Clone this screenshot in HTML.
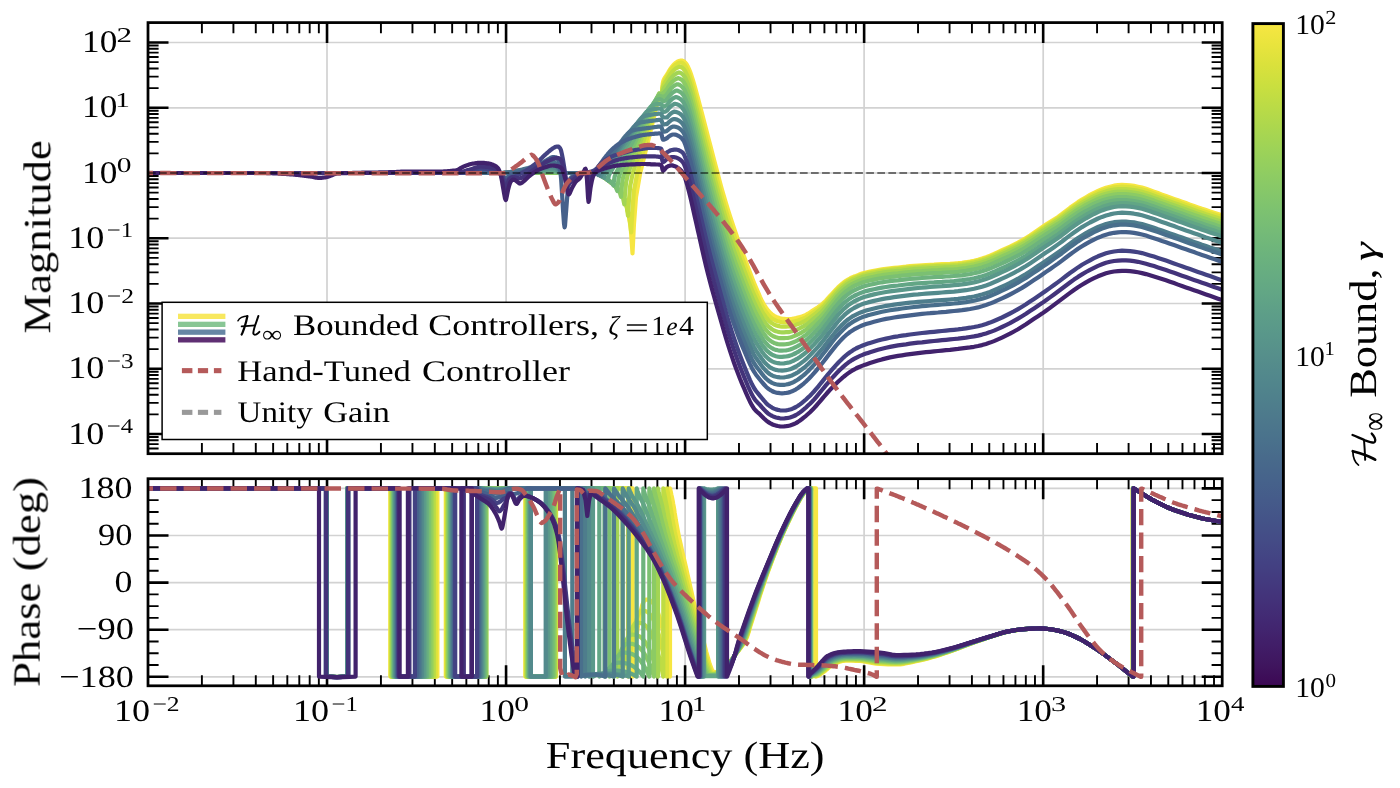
<!DOCTYPE html>
<html><head><meta charset="utf-8"><title>Bode plot</title>
<style>html,body{margin:0;padding:0;background:#fff;overflow:hidden}svg{display:block}text{font-family:"Liberation Serif",serif;fill:#000}</style></head>
<body>
<svg width="1400" height="788" viewBox="0 0 1400 788">
<defs>
<clipPath id="c1"><rect x="148.0" y="22.6" width="1074.2" height="431.1"/></clipPath>
<clipPath id="c2"><rect x="148.0" y="478.7" width="1074.2" height="207.1"/></clipPath>
<linearGradient id="vg" x1="0" y1="0" x2="0" y2="1"><stop offset="0.0000" stop-color="#f7e642"/><stop offset="0.0312" stop-color="#e9e43d"/><stop offset="0.0625" stop-color="#dae13c"/><stop offset="0.0938" stop-color="#cadf3f"/><stop offset="0.1250" stop-color="#bbdb46"/><stop offset="0.1562" stop-color="#acd74e"/><stop offset="0.1875" stop-color="#9ed357"/><stop offset="0.2188" stop-color="#92ce60"/><stop offset="0.2500" stop-color="#87c868"/><stop offset="0.2812" stop-color="#7dc270"/><stop offset="0.3125" stop-color="#75bb77"/><stop offset="0.3438" stop-color="#6db47c"/><stop offset="0.3750" stop-color="#67ad81"/><stop offset="0.4062" stop-color="#62a685"/><stop offset="0.4375" stop-color="#5d9e88"/><stop offset="0.4688" stop-color="#59978a"/><stop offset="0.5000" stop-color="#568f8b"/><stop offset="0.5312" stop-color="#52888c"/><stop offset="0.5625" stop-color="#4f818c"/><stop offset="0.5938" stop-color="#4d798c"/><stop offset="0.6250" stop-color="#4a728c"/><stop offset="0.6562" stop-color="#486a8b"/><stop offset="0.6875" stop-color="#46638b"/><stop offset="0.7188" stop-color="#455b8a"/><stop offset="0.7500" stop-color="#445388"/><stop offset="0.7812" stop-color="#444b86"/><stop offset="0.8125" stop-color="#434283"/><stop offset="0.8438" stop-color="#43397e"/><stop offset="0.8750" stop-color="#433078"/><stop offset="0.9062" stop-color="#422771"/><stop offset="0.9375" stop-color="#411e68"/><stop offset="0.9688" stop-color="#3f155e"/><stop offset="1.0000" stop-color="#3c0753"/></linearGradient>
</defs>
<rect x="0" y="0" width="1400" height="788" fill="#ffffff"/>
<path d="M327.0 22.6 V453.7 M327.0 478.7 V685.8 M506.1 22.6 V453.7 M506.1 478.7 V685.8 M685.1 22.6 V453.7 M685.1 478.7 V685.8 M864.1 22.6 V453.7 M864.1 478.7 V685.8 M1043.2 22.6 V453.7 M1043.2 478.7 V685.8 M148.0 434.0 H1222.2 M148.0 368.8 H1222.2 M148.0 303.5 H1222.2 M148.0 238.2 H1222.2 M148.0 173.0 H1222.2 M148.0 107.8 H1222.2 M148.0 42.5 H1222.2 M148.0 488.4 H1222.2 M148.0 535.5 H1222.2 M148.0 582.6 H1222.2 M148.0 629.7 H1222.2 M148.0 676.8 H1222.2" stroke="#d2d2d2" stroke-width="1.70" fill="none"/>
<path d="M201.89 453.70 v-10.60 M201.89 22.60 v10.60 M233.42 453.70 v-10.60 M233.42 22.60 v10.60 M255.79 453.70 v-10.60 M255.79 22.60 v10.60 M273.14 453.70 v-10.60 M273.14 22.60 v10.60 M287.32 453.70 v-10.60 M287.32 22.60 v10.60 M299.30 453.70 v-10.60 M299.30 22.60 v10.60 M309.68 453.70 v-10.60 M309.68 22.60 v10.60 M318.84 453.70 v-10.60 M318.84 22.60 v10.60 M380.93 453.70 v-10.60 M380.93 22.60 v10.60 M412.45 453.70 v-10.60 M412.45 22.60 v10.60 M434.82 453.70 v-10.60 M434.82 22.60 v10.60 M452.17 453.70 v-10.60 M452.17 22.60 v10.60 M466.35 453.70 v-10.60 M466.35 22.60 v10.60 M478.33 453.70 v-10.60 M478.33 22.60 v10.60 M488.72 453.70 v-10.60 M488.72 22.60 v10.60 M497.87 453.70 v-10.60 M497.87 22.60 v10.60 M559.96 453.70 v-10.60 M559.96 22.60 v10.60 M591.49 453.70 v-10.60 M591.49 22.60 v10.60 M613.86 453.70 v-10.60 M613.86 22.60 v10.60 M631.21 453.70 v-10.60 M631.21 22.60 v10.60 M645.38 453.70 v-10.60 M645.38 22.60 v10.60 M657.37 453.70 v-10.60 M657.37 22.60 v10.60 M667.75 453.70 v-10.60 M667.75 22.60 v10.60 M676.91 453.70 v-10.60 M676.91 22.60 v10.60 M738.99 453.70 v-10.60 M738.99 22.60 v10.60 M770.52 453.70 v-10.60 M770.52 22.60 v10.60 M792.89 453.70 v-10.60 M792.89 22.60 v10.60 M810.24 453.70 v-10.60 M810.24 22.60 v10.60 M824.42 453.70 v-10.60 M824.42 22.60 v10.60 M836.40 453.70 v-10.60 M836.40 22.60 v10.60 M846.78 453.70 v-10.60 M846.78 22.60 v10.60 M855.94 453.70 v-10.60 M855.94 22.60 v10.60 M918.03 453.70 v-10.60 M918.03 22.60 v10.60 M949.55 453.70 v-10.60 M949.55 22.60 v10.60 M971.92 453.70 v-10.60 M971.92 22.60 v10.60 M989.27 453.70 v-10.60 M989.27 22.60 v10.60 M1003.45 453.70 v-10.60 M1003.45 22.60 v10.60 M1015.43 453.70 v-10.60 M1015.43 22.60 v10.60 M1025.82 453.70 v-10.60 M1025.82 22.60 v10.60 M1034.97 453.70 v-10.60 M1034.97 22.60 v10.60 M1097.06 453.70 v-10.60 M1097.06 22.60 v10.60 M1128.59 453.70 v-10.60 M1128.59 22.60 v10.60 M1150.96 453.70 v-10.60 M1150.96 22.60 v10.60 M1168.31 453.70 v-10.60 M1168.31 22.60 v10.60 M1182.48 453.70 v-10.60 M1182.48 22.60 v10.60 M1194.47 453.70 v-10.60 M1194.47 22.60 v10.60 M1204.85 453.70 v-10.60 M1204.85 22.60 v10.60 M1214.01 453.70 v-10.60 M1214.01 22.60 v10.60 M201.89 685.80 v-10.60 M201.89 478.70 v10.60 M233.42 685.80 v-10.60 M233.42 478.70 v10.60 M255.79 685.80 v-10.60 M255.79 478.70 v10.60 M273.14 685.80 v-10.60 M273.14 478.70 v10.60 M287.32 685.80 v-10.60 M287.32 478.70 v10.60 M299.30 685.80 v-10.60 M299.30 478.70 v10.60 M309.68 685.80 v-10.60 M309.68 478.70 v10.60 M318.84 685.80 v-10.60 M318.84 478.70 v10.60 M380.93 685.80 v-10.60 M380.93 478.70 v10.60 M412.45 685.80 v-10.60 M412.45 478.70 v10.60 M434.82 685.80 v-10.60 M434.82 478.70 v10.60 M452.17 685.80 v-10.60 M452.17 478.70 v10.60 M466.35 685.80 v-10.60 M466.35 478.70 v10.60 M478.33 685.80 v-10.60 M478.33 478.70 v10.60 M488.72 685.80 v-10.60 M488.72 478.70 v10.60 M497.87 685.80 v-10.60 M497.87 478.70 v10.60 M559.96 685.80 v-10.60 M559.96 478.70 v10.60 M591.49 685.80 v-10.60 M591.49 478.70 v10.60 M613.86 685.80 v-10.60 M613.86 478.70 v10.60 M631.21 685.80 v-10.60 M631.21 478.70 v10.60 M645.38 685.80 v-10.60 M645.38 478.70 v10.60 M657.37 685.80 v-10.60 M657.37 478.70 v10.60 M667.75 685.80 v-10.60 M667.75 478.70 v10.60 M676.91 685.80 v-10.60 M676.91 478.70 v10.60 M738.99 685.80 v-10.60 M738.99 478.70 v10.60 M770.52 685.80 v-10.60 M770.52 478.70 v10.60 M792.89 685.80 v-10.60 M792.89 478.70 v10.60 M810.24 685.80 v-10.60 M810.24 478.70 v10.60 M824.42 685.80 v-10.60 M824.42 478.70 v10.60 M836.40 685.80 v-10.60 M836.40 478.70 v10.60 M846.78 685.80 v-10.60 M846.78 478.70 v10.60 M855.94 685.80 v-10.60 M855.94 478.70 v10.60 M918.03 685.80 v-10.60 M918.03 478.70 v10.60 M949.55 685.80 v-10.60 M949.55 478.70 v10.60 M971.92 685.80 v-10.60 M971.92 478.70 v10.60 M989.27 685.80 v-10.60 M989.27 478.70 v10.60 M1003.45 685.80 v-10.60 M1003.45 478.70 v10.60 M1015.43 685.80 v-10.60 M1015.43 478.70 v10.60 M1025.82 685.80 v-10.60 M1025.82 478.70 v10.60 M1034.97 685.80 v-10.60 M1034.97 478.70 v10.60 M1097.06 685.80 v-10.60 M1097.06 478.70 v10.60 M1128.59 685.80 v-10.60 M1128.59 478.70 v10.60 M1150.96 685.80 v-10.60 M1150.96 478.70 v10.60 M1168.31 685.80 v-10.60 M1168.31 478.70 v10.60 M1182.48 685.80 v-10.60 M1182.48 478.70 v10.60 M1194.47 685.80 v-10.60 M1194.47 478.70 v10.60 M1204.85 685.80 v-10.60 M1204.85 478.70 v10.60 M1214.01 685.80 v-10.60 M1214.01 478.70 v10.60 M148.00 448.48 h10.60 M1222.20 448.48 h-10.60 M148.00 444.11 h10.60 M1222.20 444.11 h-10.60 M148.00 440.32 h10.60 M1222.20 440.32 h-10.60 M148.00 436.99 h10.60 M1222.20 436.99 h-10.60 M148.00 414.36 h10.60 M1222.20 414.36 h-10.60 M148.00 402.87 h10.60 M1222.20 402.87 h-10.60 M148.00 394.72 h10.60 M1222.20 394.72 h-10.60 M148.00 388.39 h10.60 M1222.20 388.39 h-10.60 M148.00 383.23 h10.60 M1222.20 383.23 h-10.60 M148.00 378.86 h10.60 M1222.20 378.86 h-10.60 M148.00 375.07 h10.60 M1222.20 375.07 h-10.60 M148.00 371.74 h10.60 M1222.20 371.74 h-10.60 M148.00 349.11 h10.60 M1222.20 349.11 h-10.60 M148.00 337.62 h10.60 M1222.20 337.62 h-10.60 M148.00 329.47 h10.60 M1222.20 329.47 h-10.60 M148.00 323.14 h10.60 M1222.20 323.14 h-10.60 M148.00 317.98 h10.60 M1222.20 317.98 h-10.60 M148.00 313.61 h10.60 M1222.20 313.61 h-10.60 M148.00 309.82 h10.60 M1222.20 309.82 h-10.60 M148.00 306.49 h10.60 M1222.20 306.49 h-10.60 M148.00 283.86 h10.60 M1222.20 283.86 h-10.60 M148.00 272.37 h10.60 M1222.20 272.37 h-10.60 M148.00 264.22 h10.60 M1222.20 264.22 h-10.60 M148.00 257.89 h10.60 M1222.20 257.89 h-10.60 M148.00 252.73 h10.60 M1222.20 252.73 h-10.60 M148.00 248.36 h10.60 M1222.20 248.36 h-10.60 M148.00 244.57 h10.60 M1222.20 244.57 h-10.60 M148.00 241.24 h10.60 M1222.20 241.24 h-10.60 M148.00 218.61 h10.60 M1222.20 218.61 h-10.60 M148.00 207.12 h10.60 M1222.20 207.12 h-10.60 M148.00 198.97 h10.60 M1222.20 198.97 h-10.60 M148.00 192.64 h10.60 M1222.20 192.64 h-10.60 M148.00 187.48 h10.60 M1222.20 187.48 h-10.60 M148.00 183.11 h10.60 M1222.20 183.11 h-10.60 M148.00 179.32 h10.60 M1222.20 179.32 h-10.60 M148.00 175.99 h10.60 M1222.20 175.99 h-10.60 M148.00 153.36 h10.60 M1222.20 153.36 h-10.60 M148.00 141.87 h10.60 M1222.20 141.87 h-10.60 M148.00 133.72 h10.60 M1222.20 133.72 h-10.60 M148.00 127.39 h10.60 M1222.20 127.39 h-10.60 M148.00 122.23 h10.60 M1222.20 122.23 h-10.60 M148.00 117.86 h10.60 M1222.20 117.86 h-10.60 M148.00 114.07 h10.60 M1222.20 114.07 h-10.60 M148.00 110.74 h10.60 M1222.20 110.74 h-10.60 M148.00 88.11 h10.60 M1222.20 88.11 h-10.60 M148.00 76.62 h10.60 M1222.20 76.62 h-10.60 M148.00 68.47 h10.60 M1222.20 68.47 h-10.60 M148.00 62.14 h10.60 M1222.20 62.14 h-10.60 M148.00 56.98 h10.60 M1222.20 56.98 h-10.60 M148.00 52.61 h10.60 M1222.20 52.61 h-10.60 M148.00 48.82 h10.60 M1222.20 48.82 h-10.60 M148.00 45.49 h10.60 M1222.20 45.49 h-10.60 M148.00 665.02 h10.60 M1222.20 665.02 h-10.60 M148.00 653.25 h10.60 M1222.20 653.25 h-10.60 M148.00 641.47 h10.60 M1222.20 641.47 h-10.60 M148.00 617.92 h10.60 M1222.20 617.92 h-10.60 M148.00 606.15 h10.60 M1222.20 606.15 h-10.60 M148.00 594.38 h10.60 M1222.20 594.38 h-10.60 M148.00 570.82 h10.60 M1222.20 570.82 h-10.60 M148.00 559.05 h10.60 M1222.20 559.05 h-10.60 M148.00 547.27 h10.60 M1222.20 547.27 h-10.60 M148.00 523.73 h10.60 M1222.20 523.73 h-10.60 M148.00 511.95 h10.60 M1222.20 511.95 h-10.60 M148.00 500.17 h10.60 M1222.20 500.17 h-10.60" stroke="#000" stroke-width="1.90" fill="none"/>
<path d="M327.03 453.70 v-20.50 M327.03 22.60 v20.50 M506.07 453.70 v-20.50 M506.07 22.60 v20.50 M685.10 453.70 v-20.50 M685.10 22.60 v20.50 M864.13 453.70 v-20.50 M864.13 22.60 v20.50 M1043.17 453.70 v-20.50 M1043.17 22.60 v20.50 M327.03 685.80 v-20.50 M327.03 478.70 v20.50 M506.07 685.80 v-20.50 M506.07 478.70 v20.50 M685.10 685.80 v-20.50 M685.10 478.70 v20.50 M864.13 685.80 v-20.50 M864.13 478.70 v20.50 M1043.17 685.80 v-20.50 M1043.17 478.70 v20.50 M148.00 434.00 h20.50 M1222.20 434.00 h-20.50 M148.00 368.75 h20.50 M1222.20 368.75 h-20.50 M148.00 303.50 h20.50 M1222.20 303.50 h-20.50 M148.00 238.25 h20.50 M1222.20 238.25 h-20.50 M148.00 173.00 h20.50 M1222.20 173.00 h-20.50 M148.00 107.75 h20.50 M1222.20 107.75 h-20.50 M148.00 42.50 h20.50 M1222.20 42.50 h-20.50 M148.00 676.80 h20.50 M1222.20 676.80 h-20.50 M148.00 629.70 h20.50 M1222.20 629.70 h-20.50 M148.00 582.60 h20.50 M1222.20 582.60 h-20.50 M148.00 535.50 h20.50 M1222.20 535.50 h-20.50 M148.00 488.40 h20.50 M1222.20 488.40 h-20.50" stroke="#000" stroke-width="2.60" fill="none"/>
<g clip-path="url(#c1)" fill="none" stroke-linejoin="round" stroke-linecap="butt">
<path d="M148.0 173.0 L150.0 173.0 L152.0 173.0 L154.0 173.0 L156.0 173.0 L158.0 173.0 L160.0 173.0 L162.0 173.0 L164.0 173.0 L166.0 173.0 L168.0 173.0 L170.0 173.0 L172.0 173.0 L174.0 173.0 L176.0 173.0 L178.0 173.0 L180.0 173.0 L182.0 173.0 L184.0 173.0 L186.0 173.0 L188.0 173.0 L190.0 173.0 L192.0 173.0 L194.0 173.0 L196.0 173.0 L198.0 173.0 L200.0 173.0 L202.0 173.0 L204.0 173.0 L206.0 173.0 L208.0 173.0 L210.0 173.0 L212.0 173.0 L214.0 173.0 L216.0 173.0 L218.0 173.0 L220.0 173.0 L222.0 173.0 L224.0 173.0 L226.0 173.0 L228.0 173.0 L230.0 173.0 L232.0 173.0 L234.0 173.0 L236.0 173.0 L238.0 173.0 L240.0 173.0 L242.0 173.0 L244.0 173.0 L246.0 173.0 L248.0 173.0 L250.0 173.0 L252.0 173.0 L254.0 173.0 L256.0 173.0 L258.0 173.0 L260.0 173.0 L262.0 173.0 L264.0 173.0 L266.0 173.0 L268.0 173.0 L270.0 173.0 L272.0 173.0 L274.0 173.0 L276.0 173.0 L278.0 173.0 L280.0 173.0 L282.0 173.0 L284.0 173.0 L286.0 173.0 L288.0 173.0 L290.0 173.0 L292.0 173.0 L294.0 173.0 L296.0 173.0 L298.0 173.0 L300.0 173.0 L302.0 173.0 L304.0 173.0 L306.0 173.0 L308.0 173.0 L310.0 173.0 L312.0 173.0 L314.0 173.0 L316.0 173.0 L318.0 173.0 L320.0 173.0 L322.0 173.0 L324.0 173.0 L326.0 173.0 L328.0 173.0 L330.0 173.0 L332.0 173.0 L334.0 173.0 L336.0 173.0 L338.0 173.0 L340.0 173.0 L342.0 173.0 L344.0 173.0 L346.0 173.0 L348.0 173.0 L350.0 173.0 L352.0 173.0 L354.0 173.0 L356.0 173.0 L358.0 173.0 L360.0 173.0 L362.0 173.0 L364.0 173.0 L366.0 173.0 L368.0 173.0 L370.0 173.0 L372.0 173.0 L374.0 173.0 L376.0 173.0 L378.0 173.0 L380.0 173.0 L382.0 173.0 L384.0 173.0 L386.0 173.0 L388.0 173.0 L390.0 173.0 L392.0 173.0 L394.0 173.0 L396.0 173.0 L398.0 173.0 L400.0 173.0 L402.0 173.0 L404.0 173.0 L406.0 173.0 L408.0 173.0 L410.0 173.0 L412.0 173.0 L414.0 173.0 L416.0 173.0 L418.0 173.0 L420.0 173.0 L422.0 173.0 L424.0 173.0 L426.0 173.0 L428.0 173.0 L430.0 173.0 L432.0 173.0 L434.0 173.0 L436.0 173.0 L438.0 173.0 L440.0 173.0 L442.0 173.0 L444.0 173.0 L446.0 173.0 L448.0 173.0 L450.0 173.0 L452.0 173.0 L454.0 173.0 L456.0 173.0 L458.0 173.0 L460.0 173.0 L462.0 173.0 L464.0 173.0 L466.0 173.0 L468.0 173.0 L470.0 173.0 L472.0 173.0 L474.0 173.0 L476.0 173.0 L478.0 173.0 L480.0 173.0 L482.0 173.0 L484.0 173.0 L486.0 173.0 L488.0 173.0 L490.0 173.0 L492.0 173.0 L494.0 173.0 L496.0 173.0 L498.0 173.0 L500.0 173.0 L502.0 173.0 L504.0 173.0 L506.0 173.0 L508.0 173.0 L510.0 173.0 L512.0 173.0 L514.0 173.0 L516.0 173.0 L518.0 173.0 L520.0 173.0 L522.0 173.0 L524.0 173.0 L526.0 173.0 L528.0 173.0 L530.0 173.0 L532.0 173.0 L534.0 173.0 L536.0 173.0 L538.0 173.0 L540.0 173.0 L542.0 173.0 L544.0 173.0 L546.0 173.0 L548.0 173.0 L550.0 173.0 L552.0 173.0 L554.0 173.0 L556.0 173.0 L558.0 173.0 L560.0 173.0 L562.0 173.0 L564.0 173.0 L566.0 173.0 L568.0 173.0 L570.0 173.0 L572.0 173.0 L574.0 173.0 L576.0 173.0 L578.0 173.0 L580.0 173.0 L582.0 173.0 L584.0 173.0 L586.0 173.0 L588.0 173.0 L590.0 173.0 L592.0 173.0 L592.5 173.0 L593.5 173.1 L594.5 173.1 L595.5 173.2 L596.5 173.4 L597.5 173.8 L598.5 174.3 L599.5 174.8 L600.5 175.3 L601.5 175.8 L602.5 176.4 L603.5 177.0 L604.5 177.7 L605.5 178.3 L606.5 179.0 L607.5 179.8 L608.5 180.5 L609.5 181.2 L610.5 182.0 L611.5 182.8 L612.5 183.6 L613.5 184.5 L614.5 185.5 L615.5 186.5 L616.5 187.6 L617.5 188.8 L618.5 190.0 L619.5 191.4 L620.5 192.7 L621.5 194.1 L622.5 195.5 L623.5 197.1 L624.5 199.1 L625.5 201.6 L626.5 205.5 L627.5 209.8 L628.5 214.4 L629.5 219.4 L630.5 224.9 L632.5 253.3 L633.9 225.2 L636.0 197.1 L640.2 173.0 L641.2 168.9 L642.2 164.9 L643.2 160.8 L644.2 156.7 L645.2 152.7 L646.2 148.6 L647.2 144.5 L648.2 140.5 L649.2 136.4 L650.2 132.3 L651.2 128.3 L652.2 124.2 L653.2 120.1 L654.2 116.1 L655.2 112.0 L656.2 107.9 L657.2 103.9 L658.2 99.8 L659.2 96.0 L659.7 96.3 L660.2 96.5 L660.7 96.6 L661.2 96.6 L661.7 94.6 L662.2 89.1 L662.7 83.7 L663.2 81.3 L663.7 79.9 L664.2 78.8 L664.7 77.9 L665.2 77.1 L665.7 76.4 L666.2 75.7 L666.7 75.0 L667.0 74.5 L668.0 72.8 L669.0 71.0 L670.0 69.4 L671.0 68.0 L672.0 66.7 L673.0 65.5 L674.0 64.4 L675.0 63.5 L676.0 62.7 L677.0 62.0 L678.0 61.4 L679.0 61.0 L680.0 60.7 L681.0 60.5 L682.0 60.6 L683.0 60.9 L684.0 61.5 L685.0 62.3 L686.0 63.5 L687.0 65.0 L688.0 66.8 L689.0 69.0 L690.0 71.5 L691.0 74.2 L692.0 77.3 L693.0 80.5 L694.0 83.9 L695.0 87.4 L696.0 91.0 L697.0 94.7 L698.0 98.4 L699.0 102.2 L700.0 106.0 L702.0 113.6 L704.0 121.3 L706.0 129.0 L708.0 136.7 L710.0 144.3 L712.0 152.0 L714.0 159.7 L716.0 167.3 L718.0 174.9 L720.0 182.5 L722.0 189.8 L724.0 196.7 L726.0 203.4 L728.0 209.9 L730.0 216.1 L732.0 222.2 L734.0 228.1 L736.0 233.9 L738.0 239.6 L740.0 245.2 L742.0 250.9 L744.0 256.4 L746.0 261.9 L748.0 267.3 L750.0 272.6 L752.0 277.8 L754.0 282.8 L756.0 287.6 L758.0 292.2 L760.0 296.9 L762.0 301.1 L764.0 304.7 L766.0 307.7 L768.0 310.4 L770.0 312.7 L772.0 314.4 L774.0 315.8 L776.0 316.9 L778.0 317.6 L780.0 318.2 L782.0 318.6 L784.0 318.8 L786.0 319.0 L788.0 319.1 L790.0 319.1 L792.0 318.9 L794.0 318.5 L796.0 318.1 L798.0 317.6 L800.0 317.1 L802.0 316.5 L804.0 315.7 L806.0 314.8 L808.0 313.7 L810.0 312.4 L812.0 311.1 L814.0 309.8 L816.0 308.5 L818.0 307.2 L820.0 305.8 L822.0 304.2 L824.0 302.4 L826.0 300.4 L828.0 298.2 L830.0 296.0 L832.0 293.8 L834.0 291.6 L836.0 289.4 L838.0 287.4 L840.0 285.6 L842.0 283.8 L844.0 282.2 L846.0 280.8 L848.0 279.6 L850.0 278.5 L852.0 277.5 L854.0 276.6 L856.0 275.9 L858.0 275.1 L860.0 274.3 L862.0 273.6 L864.0 273.0 L866.0 272.5 L868.0 272.0 L870.0 271.5 L874.0 270.7 L878.0 270.0 L882.0 269.3 L886.0 268.8 L890.0 268.3 L894.0 267.9 L898.0 267.5 L902.0 267.1 L906.0 266.7 L910.0 266.2 L914.0 265.9 L918.0 265.6 L922.0 265.3 L926.0 265.1 L930.0 264.9 L934.0 264.7 L938.0 264.4 L942.0 264.2 L946.0 264.0 L950.0 263.8 L954.0 263.5 L958.0 263.2 L962.0 262.8 L966.0 262.2 L970.0 261.5 L974.0 260.7 L978.0 259.7 L982.0 258.6 L986.0 257.2 L990.0 255.7 L994.0 254.0 L998.0 252.1 L1002.0 250.2 L1006.0 248.4 L1010.0 246.6 L1014.0 244.6 L1018.0 242.6 L1022.0 240.4 L1026.0 238.0 L1030.0 235.5 L1034.0 232.8 L1038.0 230.1 L1042.0 227.3 L1046.0 224.6 L1050.0 222.0 L1054.0 219.5 L1058.0 216.9 L1062.0 214.0 L1066.0 210.9 L1070.0 207.8 L1074.0 204.9 L1078.0 202.1 L1082.0 199.5 L1086.0 197.2 L1090.0 194.9 L1094.0 192.8 L1098.0 190.9 L1102.0 189.2 L1106.0 187.8 L1110.0 186.7 L1114.0 185.7 L1118.0 185.2 L1122.0 184.9 L1126.0 185.0 L1130.0 185.4 L1134.0 185.9 L1138.0 186.7 L1142.0 187.6 L1146.0 188.8 L1150.0 190.3 L1154.0 191.7 L1158.0 193.1 L1162.0 194.6 L1166.0 196.0 L1170.0 197.5 L1174.0 198.9 L1178.0 200.3 L1182.0 201.7 L1186.0 203.1 L1190.0 204.6 L1194.0 206.0 L1198.0 207.4 L1202.0 208.8 L1206.0 210.1 L1210.0 211.4 L1214.0 212.7 L1218.0 214.0 L1222.0 215.3 L1226.0 216.7 L1230.0 218.0" stroke="#f7e642" stroke-width="4.20"/>
<path d="M148.0 173.0 L150.0 173.0 L152.0 173.0 L154.0 173.0 L156.0 173.0 L158.0 173.0 L160.0 173.0 L162.0 173.0 L164.0 173.0 L166.0 173.0 L168.0 173.0 L170.0 173.0 L172.0 173.0 L174.0 173.0 L176.0 173.0 L178.0 173.0 L180.0 173.0 L182.0 173.0 L184.0 173.0 L186.0 173.0 L188.0 173.0 L190.0 173.0 L192.0 173.0 L194.0 173.0 L196.0 173.0 L198.0 173.0 L200.0 173.0 L202.0 173.0 L204.0 173.0 L206.0 173.0 L208.0 173.0 L210.0 173.0 L212.0 173.0 L214.0 173.0 L216.0 173.0 L218.0 173.0 L220.0 173.0 L222.0 173.0 L224.0 173.0 L226.0 173.0 L228.0 173.0 L230.0 173.0 L232.0 173.0 L234.0 173.0 L236.0 173.0 L238.0 173.0 L240.0 173.0 L242.0 173.0 L244.0 173.0 L246.0 173.0 L248.0 173.0 L250.0 173.0 L252.0 173.0 L254.0 173.0 L256.0 173.0 L258.0 173.0 L260.0 173.0 L262.0 173.0 L264.0 173.0 L266.0 173.0 L268.0 173.0 L270.0 173.0 L272.0 173.0 L274.0 173.0 L276.0 173.0 L278.0 173.0 L280.0 173.0 L282.0 173.0 L284.0 173.0 L286.0 173.0 L288.0 173.0 L290.0 173.0 L292.0 173.0 L294.0 173.0 L296.0 173.0 L298.0 173.0 L300.0 173.0 L302.0 173.0 L304.0 173.0 L306.0 173.0 L308.0 173.0 L310.0 173.0 L312.0 173.0 L314.0 173.0 L316.0 173.0 L318.0 173.0 L320.0 173.0 L322.0 173.0 L324.0 173.0 L326.0 173.0 L328.0 173.0 L330.0 173.0 L332.0 173.0 L334.0 173.0 L336.0 173.0 L338.0 173.0 L340.0 173.0 L342.0 173.0 L344.0 173.0 L346.0 173.0 L348.0 173.0 L350.0 173.0 L352.0 173.0 L354.0 173.0 L356.0 173.0 L358.0 173.0 L360.0 173.0 L362.0 173.0 L364.0 173.0 L366.0 173.0 L368.0 173.0 L370.0 173.0 L372.0 173.0 L374.0 173.0 L376.0 173.0 L378.0 173.0 L380.0 173.0 L382.0 173.0 L384.0 173.0 L386.0 173.0 L388.0 173.0 L390.0 173.0 L392.0 173.0 L394.0 173.0 L396.0 173.0 L398.0 173.0 L400.0 173.0 L402.0 173.0 L404.0 173.0 L406.0 173.0 L408.0 173.0 L410.0 173.0 L412.0 173.0 L414.0 173.0 L416.0 173.0 L418.0 173.0 L420.0 173.0 L422.0 173.0 L424.0 173.0 L426.0 173.0 L428.0 173.0 L430.0 173.0 L432.0 173.0 L434.0 173.0 L436.0 173.0 L438.0 173.0 L440.0 173.0 L442.0 173.0 L444.0 173.0 L446.0 173.0 L448.0 173.0 L450.0 173.0 L452.0 173.0 L454.0 173.0 L456.0 173.0 L458.0 173.0 L460.0 173.0 L462.0 173.0 L464.0 173.0 L466.0 173.0 L468.0 173.0 L470.0 173.0 L472.0 173.0 L474.0 173.0 L476.0 173.0 L478.0 173.0 L480.0 173.0 L482.0 173.0 L484.0 173.0 L486.0 173.0 L488.0 173.0 L490.0 173.0 L492.0 173.0 L494.0 173.0 L496.0 173.0 L498.0 173.0 L500.0 173.0 L502.0 173.0 L504.0 173.0 L506.0 173.0 L508.0 173.0 L510.0 173.0 L512.0 173.0 L514.0 173.0 L516.0 173.0 L518.0 173.0 L520.0 173.0 L522.0 173.0 L524.0 173.0 L526.0 173.0 L528.0 173.0 L530.0 173.0 L532.0 173.0 L534.0 173.0 L536.0 173.0 L538.0 173.0 L540.0 173.0 L542.0 173.0 L544.0 173.0 L546.0 173.0 L548.0 173.0 L550.0 173.0 L552.0 173.0 L554.0 173.0 L556.0 173.0 L558.0 173.0 L560.0 173.0 L562.0 173.0 L564.0 173.0 L566.0 173.0 L568.0 173.0 L570.0 173.0 L572.0 173.0 L574.0 173.0 L576.0 173.0 L578.0 173.0 L580.0 173.0 L582.0 173.0 L584.0 173.0 L586.0 173.0 L588.0 173.0 L590.0 173.0 L592.0 173.0 L592.5 173.0 L593.5 173.1 L594.5 173.1 L595.5 173.2 L596.5 173.4 L597.5 173.8 L598.5 174.3 L599.5 174.8 L600.5 175.3 L601.5 175.8 L602.5 176.4 L603.5 177.0 L604.5 177.7 L605.5 178.3 L606.5 179.0 L607.5 179.8 L608.5 180.5 L609.5 181.2 L610.5 182.0 L611.5 182.8 L612.5 183.6 L613.5 184.5 L614.5 185.5 L615.5 186.5 L616.5 187.6 L617.5 188.8 L618.5 190.0 L619.5 191.4 L620.5 192.7 L621.5 194.1 L622.5 195.5 L623.5 197.1 L624.5 199.1 L625.5 201.6 L626.5 205.5 L627.5 209.8 L628.5 214.4 L629.5 219.4 L631.2 232.3 L632.3 211.5 L633.9 190.8 L637.3 173.0 L638.3 169.4 L639.3 165.9 L640.3 162.3 L641.3 158.7 L642.3 155.2 L643.3 151.6 L644.3 148.0 L645.3 144.5 L646.3 140.9 L647.3 137.4 L648.3 133.8 L649.3 130.2 L650.3 126.7 L651.3 123.1 L652.3 119.5 L653.3 116.0 L654.3 112.4 L655.3 108.8 L656.3 105.3 L657.3 101.7 L658.3 98.2 L659.3 94.7 L659.8 95.0 L660.3 95.2 L660.8 95.3 L661.3 95.3 L661.8 93.5 L662.3 89.7 L662.8 86.0 L663.3 84.0 L663.8 82.6 L664.3 81.3 L664.8 80.2 L665.3 79.2 L665.8 78.3 L666.3 77.4 L666.8 76.5 L667.0 76.2 L668.0 74.4 L669.0 72.7 L670.0 71.2 L671.0 69.7 L672.0 68.5 L673.0 67.3 L674.0 66.2 L675.0 65.3 L676.0 64.6 L677.0 63.9 L678.0 63.3 L679.0 62.9 L680.0 62.7 L681.0 62.5 L682.0 62.8 L683.0 63.5 L684.0 64.4 L685.0 65.6 L686.0 67.2 L687.0 69.0 L688.0 71.2 L689.0 73.8 L690.0 76.7 L691.0 79.8 L692.0 83.2 L693.0 86.8 L694.0 90.5 L695.0 94.3 L696.0 98.2 L697.0 102.1 L698.0 106.0 L699.0 110.0 L700.0 113.9 L702.0 121.7 L704.0 129.5 L706.0 137.2 L708.0 144.9 L710.0 152.5 L712.0 160.1 L714.0 167.7 L716.0 175.3 L718.0 182.8 L720.0 190.3 L722.0 197.5 L724.0 204.3 L726.0 210.9 L728.0 217.3 L730.0 223.5 L732.0 229.4 L734.0 235.2 L736.0 240.9 L738.0 246.5 L740.0 252.0 L742.0 257.4 L744.0 262.9 L746.0 268.2 L748.0 273.5 L750.0 278.6 L752.0 283.6 L754.0 288.4 L756.0 292.9 L758.0 297.4 L760.0 301.8 L762.0 305.8 L764.0 309.2 L766.0 312.1 L768.0 314.6 L770.0 316.8 L772.0 318.4 L774.0 319.7 L776.0 320.7 L778.0 321.3 L780.0 321.8 L782.0 322.1 L784.0 322.3 L786.0 322.3 L788.0 322.4 L790.0 322.3 L792.0 322.0 L794.0 321.5 L796.0 321.0 L798.0 320.5 L800.0 319.8 L802.0 319.1 L804.0 318.3 L806.0 317.3 L808.0 316.1 L810.0 314.7 L812.0 313.3 L814.0 311.9 L816.0 310.5 L818.0 309.1 L820.0 307.6 L822.0 305.9 L824.0 304.0 L826.0 301.9 L828.0 299.7 L830.0 297.4 L832.0 295.2 L834.0 292.9 L836.0 290.7 L838.0 288.6 L840.0 286.7 L842.0 284.9 L844.0 283.3 L846.0 281.8 L848.0 280.6 L850.0 279.4 L852.0 278.4 L854.0 277.5 L856.0 276.7 L858.0 275.9 L860.0 275.2 L862.0 274.4 L864.0 273.8 L866.0 273.3 L868.0 272.8 L870.0 272.3 L874.0 271.5 L878.0 270.8 L882.0 270.1 L886.0 269.6 L890.0 269.1 L894.0 268.7 L898.0 268.3 L902.0 267.9 L906.0 267.4 L910.0 267.0 L914.0 266.6 L918.0 266.4 L922.0 266.1 L926.0 265.9 L930.0 265.7 L934.0 265.4 L938.0 265.2 L942.0 265.0 L946.0 264.8 L950.0 264.6 L954.0 264.3 L958.0 264.0 L962.0 263.6 L966.0 263.0 L970.0 262.3 L974.0 261.5 L978.0 260.5 L982.0 259.4 L986.0 258.1 L990.0 256.6 L994.0 254.9 L998.0 253.0 L1002.0 251.2 L1006.0 249.4 L1010.0 247.5 L1014.0 245.6 L1018.0 243.5 L1022.0 241.4 L1026.0 239.0 L1030.0 236.5 L1034.0 233.9 L1038.0 231.1 L1042.0 228.4 L1046.0 225.7 L1050.0 223.2 L1054.0 220.7 L1058.0 218.1 L1062.0 215.2 L1066.0 212.1 L1070.0 209.1 L1074.0 206.2 L1078.0 203.4 L1082.0 200.9 L1086.0 198.6 L1090.0 196.4 L1094.0 194.3 L1098.0 192.4 L1102.0 190.8 L1106.0 189.4 L1110.0 188.3 L1114.0 187.4 L1118.0 187.0 L1122.0 186.7 L1126.0 186.8 L1130.0 187.2 L1134.0 187.7 L1138.0 188.5 L1142.0 189.4 L1146.0 190.6 L1150.0 192.0 L1154.0 193.4 L1158.0 194.9 L1162.0 196.4 L1166.0 197.8 L1170.0 199.2 L1174.0 200.6 L1178.0 202.0 L1182.0 203.5 L1186.0 204.9 L1190.0 206.3 L1194.0 207.8 L1198.0 209.2 L1202.0 210.6 L1206.0 211.9 L1210.0 213.2 L1214.0 214.5 L1218.0 215.8 L1222.0 217.1 L1226.0 218.4 L1230.0 219.8" stroke="#dce23c" stroke-width="4.20"/>
<path d="M148.0 173.0 L150.0 173.0 L152.0 173.0 L154.0 173.0 L156.0 173.0 L158.0 173.0 L160.0 173.0 L162.0 173.0 L164.0 173.0 L166.0 173.0 L168.0 173.0 L170.0 173.0 L172.0 173.0 L174.0 173.0 L176.0 173.0 L178.0 173.0 L180.0 173.0 L182.0 173.0 L184.0 173.0 L186.0 173.0 L188.0 173.0 L190.0 173.0 L192.0 173.0 L194.0 173.0 L196.0 173.0 L198.0 173.0 L200.0 173.0 L202.0 173.0 L204.0 173.0 L206.0 173.0 L208.0 173.0 L210.0 173.0 L212.0 173.0 L214.0 173.0 L216.0 173.0 L218.0 173.0 L220.0 173.0 L222.0 173.0 L224.0 173.0 L226.0 173.0 L228.0 173.0 L230.0 173.0 L232.0 173.0 L234.0 173.0 L236.0 173.0 L238.0 173.0 L240.0 173.0 L242.0 173.0 L244.0 173.0 L246.0 173.0 L248.0 173.0 L250.0 173.0 L252.0 173.0 L254.0 173.0 L256.0 173.0 L258.0 173.0 L260.0 173.0 L262.0 173.0 L264.0 173.0 L266.0 173.0 L268.0 173.0 L270.0 173.0 L272.0 173.0 L274.0 173.0 L276.0 173.0 L278.0 173.0 L280.0 173.0 L282.0 173.0 L284.0 173.0 L286.0 173.0 L288.0 173.0 L290.0 173.0 L292.0 173.0 L294.0 173.0 L296.0 173.0 L298.0 173.0 L300.0 173.0 L302.0 173.0 L304.0 173.0 L306.0 173.0 L308.0 173.0 L310.0 173.0 L312.0 173.0 L314.0 173.0 L316.0 173.0 L318.0 173.0 L320.0 173.0 L322.0 173.0 L324.0 173.0 L326.0 173.0 L328.0 173.0 L330.0 173.0 L332.0 173.0 L334.0 173.0 L336.0 173.0 L338.0 173.0 L340.0 173.0 L342.0 173.0 L344.0 173.0 L346.0 173.0 L348.0 173.0 L350.0 173.0 L352.0 173.0 L354.0 173.0 L356.0 173.0 L358.0 173.0 L360.0 173.0 L362.0 173.0 L364.0 173.0 L366.0 173.0 L368.0 173.0 L370.0 173.0 L372.0 173.0 L374.0 173.0 L376.0 173.0 L378.0 173.0 L380.0 173.0 L382.0 173.0 L384.0 173.0 L386.0 173.0 L388.0 173.0 L390.0 173.0 L392.0 173.0 L394.0 173.0 L396.0 173.0 L398.0 173.0 L400.0 173.0 L402.0 173.0 L404.0 173.0 L406.0 173.0 L408.0 173.0 L410.0 173.0 L412.0 173.0 L414.0 173.0 L416.0 173.0 L418.0 173.0 L420.0 173.0 L422.0 173.0 L424.0 173.0 L426.0 173.0 L428.0 173.0 L430.0 173.0 L432.0 173.0 L434.0 173.0 L436.0 173.0 L438.0 173.0 L440.0 173.0 L442.0 173.0 L444.0 173.0 L446.0 173.0 L448.0 173.0 L450.0 173.0 L452.0 173.0 L454.0 173.0 L456.0 173.0 L458.0 173.0 L460.0 173.0 L462.0 173.0 L464.0 173.0 L466.0 173.0 L468.0 173.0 L470.0 173.0 L472.0 173.0 L474.0 173.0 L476.0 173.0 L478.0 173.0 L480.0 173.0 L482.0 173.0 L484.0 173.0 L486.0 173.0 L488.0 173.0 L490.0 173.0 L492.0 173.0 L494.0 173.0 L496.0 173.0 L498.0 173.0 L500.0 173.0 L502.0 173.0 L504.0 173.0 L506.0 173.0 L508.0 173.0 L510.0 173.0 L512.0 173.0 L514.0 173.0 L516.0 173.0 L518.0 173.0 L520.0 173.0 L522.0 173.0 L524.0 173.0 L526.0 173.0 L528.0 173.0 L530.0 173.0 L532.0 173.0 L534.0 173.0 L536.0 173.0 L538.0 173.0 L540.0 173.0 L542.0 173.0 L544.0 173.0 L546.0 173.0 L548.0 173.0 L550.0 173.0 L552.0 173.0 L554.0 173.0 L556.0 173.0 L558.0 173.0 L560.0 173.0 L562.0 173.0 L564.0 173.0 L566.0 173.0 L568.0 173.0 L570.0 173.0 L572.0 173.0 L574.0 173.0 L576.0 173.0 L578.0 173.0 L580.0 173.0 L582.0 173.0 L584.0 173.0 L586.0 173.0 L588.0 173.0 L590.0 173.0 L592.0 173.0 L592.5 173.0 L593.5 173.1 L594.5 173.1 L595.5 173.2 L596.5 173.4 L597.5 173.8 L598.5 174.3 L599.5 174.8 L600.5 175.3 L601.5 175.8 L602.5 176.4 L603.5 177.0 L604.5 177.7 L605.5 178.3 L606.5 179.0 L607.5 179.8 L608.5 180.5 L609.5 181.2 L610.5 182.0 L611.5 182.8 L612.5 183.6 L613.5 184.5 L614.5 185.5 L615.5 186.5 L616.5 187.6 L617.5 188.8 L618.5 190.0 L619.5 191.4 L620.5 192.7 L621.5 194.1 L622.5 195.5 L623.5 197.1 L624.5 199.1 L625.5 201.6 L626.5 205.5 L628.0 215.8 L628.9 200.8 L630.2 185.8 L632.8 173.0 L633.8 170.0 L634.8 167.0 L635.8 164.0 L636.8 161.0 L637.8 158.0 L638.8 155.0 L639.8 152.0 L640.8 149.0 L641.8 146.0 L642.8 143.0 L643.8 140.0 L644.8 137.0 L645.8 134.0 L646.8 131.0 L647.8 128.0 L648.8 125.0 L649.8 122.0 L650.8 119.0 L651.8 116.0 L652.8 113.0 L653.8 110.0 L654.8 107.0 L655.8 104.0 L656.8 101.1 L657.8 98.1 L658.8 95.2 L659.3 95.5 L659.8 95.6 L660.3 95.7 L660.8 95.8 L661.3 95.8 L661.8 94.1 L662.3 90.8 L662.8 87.7 L663.3 86.1 L663.8 84.9 L664.3 83.9 L664.8 83.0 L665.3 82.2 L665.8 81.4 L666.3 80.7 L666.8 79.9 L667.0 79.6 L668.0 77.9 L669.0 76.3 L670.0 74.7 L671.0 73.4 L672.0 72.1 L673.0 71.0 L674.0 70.0 L675.0 69.1 L676.0 68.4 L677.0 67.8 L678.0 67.3 L679.0 66.9 L680.0 66.7 L681.0 67.0 L682.0 67.5 L683.0 68.4 L684.0 69.5 L685.0 70.9 L686.0 72.8 L687.0 74.9 L688.0 77.3 L689.0 80.1 L690.0 83.2 L691.0 86.5 L692.0 90.1 L693.0 93.9 L694.0 97.7 L695.0 101.7 L696.0 105.8 L697.0 109.8 L698.0 113.9 L699.0 117.9 L700.0 121.9 L702.0 129.8 L704.0 137.6 L706.0 145.4 L708.0 153.1 L710.0 160.7 L712.0 168.3 L714.0 175.8 L716.0 183.3 L718.0 190.7 L720.0 198.2 L722.0 205.3 L724.0 212.1 L726.0 218.6 L728.0 225.0 L730.0 231.1 L732.0 237.0 L734.0 242.7 L736.0 248.3 L738.0 253.8 L740.0 259.2 L742.0 264.6 L744.0 269.8 L746.0 275.1 L748.0 280.2 L750.0 285.2 L752.0 290.0 L754.0 294.7 L756.0 299.0 L758.0 303.2 L760.0 307.4 L762.0 311.3 L764.0 314.5 L766.0 317.3 L768.0 319.7 L770.0 321.7 L772.0 323.3 L774.0 324.5 L776.0 325.4 L778.0 325.9 L780.0 326.4 L782.0 326.6 L784.0 326.6 L786.0 326.6 L788.0 326.5 L790.0 326.4 L792.0 326.0 L794.0 325.4 L796.0 324.8 L798.0 324.1 L800.0 323.4 L802.0 322.5 L804.0 321.5 L806.0 320.4 L808.0 319.1 L810.0 317.6 L812.0 316.1 L814.0 314.6 L816.0 313.1 L818.0 311.5 L820.0 309.9 L822.0 308.1 L824.0 306.2 L826.0 303.9 L828.0 301.6 L830.0 299.3 L832.0 297.0 L834.0 294.6 L836.0 292.3 L838.0 290.2 L840.0 288.2 L842.0 286.3 L844.0 284.6 L846.0 283.1 L848.0 281.8 L850.0 280.6 L852.0 279.5 L854.0 278.6 L856.0 277.8 L858.0 277.0 L860.0 276.2 L862.0 275.4 L864.0 274.8 L866.0 274.3 L868.0 273.8 L870.0 273.3 L874.0 272.5 L878.0 271.7 L882.0 271.1 L886.0 270.5 L890.0 270.1 L894.0 269.6 L898.0 269.2 L902.0 268.8 L906.0 268.4 L910.0 268.0 L914.0 267.6 L918.0 267.3 L922.0 267.1 L926.0 266.8 L930.0 266.6 L934.0 266.4 L938.0 266.2 L942.0 266.0 L946.0 265.8 L950.0 265.6 L954.0 265.3 L958.0 265.0 L962.0 264.6 L966.0 264.0 L970.0 263.3 L974.0 262.6 L978.0 261.6 L982.0 260.5 L986.0 259.2 L990.0 257.7 L994.0 256.0 L998.0 254.2 L1002.0 252.3 L1006.0 250.5 L1010.0 248.7 L1014.0 246.8 L1018.0 244.8 L1022.0 242.6 L1026.0 240.3 L1030.0 237.8 L1034.0 235.2 L1038.0 232.5 L1042.0 229.7 L1046.0 227.1 L1050.0 224.6 L1054.0 222.1 L1058.0 219.6 L1062.0 216.8 L1066.0 213.7 L1070.0 210.7 L1074.0 207.8 L1078.0 205.1 L1082.0 202.6 L1086.0 200.3 L1090.0 198.2 L1094.0 196.2 L1098.0 194.3 L1102.0 192.7 L1106.0 191.4 L1110.0 190.4 L1114.0 189.6 L1118.0 189.2 L1122.0 189.0 L1126.0 189.1 L1130.0 189.5 L1134.0 190.0 L1138.0 190.8 L1142.0 191.7 L1146.0 192.9 L1150.0 194.3 L1154.0 195.7 L1158.0 197.2 L1162.0 198.6 L1166.0 200.1 L1170.0 201.5 L1174.0 202.9 L1178.0 204.3 L1182.0 205.7 L1186.0 207.2 L1190.0 208.6 L1194.0 210.0 L1198.0 211.4 L1202.0 212.8 L1206.0 214.2 L1210.0 215.5 L1214.0 216.8 L1218.0 218.1 L1222.0 219.4 L1226.0 220.7 L1230.0 222.1" stroke="#bedc44" stroke-width="4.20"/>
<path d="M148.0 173.0 L150.0 173.0 L152.0 173.0 L154.0 173.0 L156.0 173.0 L158.0 173.0 L160.0 173.0 L162.0 173.0 L164.0 173.0 L166.0 173.0 L168.0 173.0 L170.0 173.0 L172.0 173.0 L174.0 173.0 L176.0 173.0 L178.0 173.0 L180.0 173.0 L182.0 173.0 L184.0 173.0 L186.0 173.0 L188.0 173.0 L190.0 173.0 L192.0 173.0 L194.0 173.0 L196.0 173.0 L198.0 173.0 L200.0 173.0 L202.0 173.0 L204.0 173.0 L206.0 173.0 L208.0 173.0 L210.0 173.0 L212.0 173.0 L214.0 173.0 L216.0 173.0 L218.0 173.0 L220.0 173.0 L222.0 173.0 L224.0 173.0 L226.0 173.0 L228.0 173.0 L230.0 173.0 L232.0 173.0 L234.0 173.0 L236.0 173.0 L238.0 173.0 L240.0 173.0 L242.0 173.0 L244.0 173.0 L246.0 173.0 L248.0 173.0 L250.0 173.0 L252.0 173.0 L254.0 173.0 L256.0 173.0 L258.0 173.0 L260.0 173.0 L262.0 173.0 L264.0 173.0 L266.0 173.0 L268.0 173.0 L270.0 173.0 L272.0 173.0 L274.0 173.0 L276.0 173.0 L278.0 173.0 L280.0 173.0 L282.0 173.0 L284.0 173.0 L286.0 173.0 L288.0 173.0 L290.0 173.0 L292.0 173.0 L294.0 173.0 L296.0 173.0 L298.0 173.0 L300.0 173.0 L302.0 173.0 L304.0 173.0 L306.0 173.0 L308.0 173.0 L310.0 173.0 L312.0 173.0 L314.0 173.0 L316.0 173.0 L318.0 173.0 L320.0 173.0 L322.0 173.0 L324.0 173.0 L326.0 173.0 L328.0 173.0 L330.0 173.0 L332.0 173.0 L334.0 173.0 L336.0 173.0 L338.0 173.0 L340.0 173.0 L342.0 173.0 L344.0 173.0 L346.0 173.0 L348.0 173.0 L350.0 173.0 L352.0 173.0 L354.0 173.0 L356.0 173.0 L358.0 173.0 L360.0 173.0 L362.0 173.0 L364.0 173.0 L366.0 173.0 L368.0 173.0 L370.0 173.0 L372.0 173.0 L374.0 173.0 L376.0 173.0 L378.0 173.0 L380.0 173.0 L382.0 173.0 L384.0 173.0 L386.0 173.0 L388.0 173.0 L390.0 173.0 L392.0 173.0 L394.0 173.0 L396.0 173.0 L398.0 173.0 L400.0 173.0 L402.0 173.0 L404.0 173.0 L406.0 173.0 L408.0 173.0 L410.0 173.0 L412.0 173.0 L414.0 173.0 L416.0 173.0 L418.0 173.0 L420.0 173.0 L422.0 173.0 L424.0 173.0 L426.0 173.0 L428.0 173.0 L430.0 173.0 L432.0 173.0 L434.0 173.0 L436.0 173.0 L438.0 173.0 L440.0 173.0 L442.0 173.0 L444.0 173.0 L446.0 173.0 L448.0 173.0 L450.0 173.0 L452.0 173.0 L454.0 173.0 L456.0 173.0 L458.0 173.0 L460.0 173.0 L462.0 173.0 L464.0 173.0 L466.0 173.0 L468.0 173.0 L470.0 173.0 L472.0 173.0 L474.0 173.0 L476.0 173.0 L478.0 173.0 L480.0 173.0 L482.0 173.0 L484.0 173.0 L486.0 173.0 L488.0 173.0 L490.0 173.0 L492.0 173.0 L494.0 173.0 L496.0 173.0 L498.0 173.0 L500.0 173.0 L502.0 173.0 L504.0 173.0 L506.0 173.0 L508.0 173.0 L510.0 173.0 L512.0 173.0 L514.0 173.0 L516.0 173.0 L518.0 173.0 L520.0 172.9 L522.0 172.9 L524.0 172.9 L526.0 172.9 L528.0 172.9 L530.0 172.9 L532.0 172.9 L534.0 172.9 L536.0 172.9 L538.0 172.9 L540.0 172.9 L542.0 172.8 L544.0 172.8 L546.0 172.8 L548.0 172.8 L550.0 172.8 L552.0 172.8 L554.0 172.8 L556.0 172.8 L558.0 172.9 L560.0 172.9 L562.0 173.0 L564.0 173.0 L566.0 173.0 L568.0 173.0 L570.0 173.0 L572.0 173.0 L574.0 173.0 L576.0 173.0 L578.0 173.0 L580.0 173.0 L582.0 173.0 L584.0 173.0 L586.0 173.0 L588.0 173.0 L590.0 173.0 L592.0 173.0 L592.5 173.0 L593.5 173.1 L594.5 173.1 L595.5 173.2 L596.5 173.4 L597.5 173.8 L598.5 174.3 L599.5 174.8 L600.5 175.3 L601.5 175.8 L602.5 176.4 L603.5 177.0 L604.5 177.7 L605.5 178.3 L606.5 179.0 L607.5 179.8 L608.5 180.5 L609.5 181.2 L610.5 182.0 L611.5 182.8 L612.5 183.6 L613.5 184.5 L614.5 185.5 L615.5 186.5 L616.5 187.6 L617.5 188.8 L618.5 190.0 L619.5 191.4 L620.5 192.7 L621.5 194.1 L622.5 195.5 L624.3 204.4 L625.0 193.4 L626.1 182.4 L628.2 173.0 L629.2 170.4 L630.2 167.8 L631.2 165.3 L632.2 162.7 L633.2 160.1 L634.2 157.5 L635.2 154.9 L636.2 152.4 L637.2 149.8 L638.2 147.2 L639.2 144.6 L640.2 142.1 L641.2 139.5 L642.2 136.9 L643.2 134.3 L644.2 131.7 L645.2 129.2 L646.2 126.6 L647.2 124.0 L648.2 121.4 L649.2 118.8 L650.2 116.3 L651.2 113.7 L652.2 111.1 L653.2 108.5 L654.2 106.0 L655.2 103.4 L656.2 100.8 L657.2 98.3 L658.2 95.8 L659.2 93.5 L659.7 93.8 L660.2 94.0 L660.7 94.1 L661.2 94.1 L661.7 93.6 L662.2 92.2 L662.7 90.6 L663.2 89.6 L663.7 88.8 L664.2 88.0 L664.7 87.3 L665.2 86.7 L665.7 86.0 L666.2 85.4 L666.7 84.7 L667.0 84.3 L668.0 82.7 L669.0 81.1 L670.0 79.6 L671.0 78.3 L672.0 77.2 L673.0 76.1 L674.0 75.2 L675.0 74.4 L676.0 73.7 L677.0 73.1 L678.0 72.7 L679.0 72.4 L680.0 72.7 L681.0 73.1 L682.0 73.7 L683.0 74.7 L684.0 76.0 L685.0 77.5 L686.0 79.5 L687.0 81.8 L688.0 84.3 L689.0 87.3 L690.0 90.5 L691.0 93.9 L692.0 97.6 L693.0 101.5 L694.0 105.4 L695.0 109.5 L696.0 113.6 L697.0 117.7 L698.0 121.8 L699.0 125.9 L700.0 130.0 L702.0 138.0 L704.0 145.8 L706.0 153.6 L708.0 161.3 L710.0 168.9 L712.0 176.5 L714.0 184.0 L716.0 191.5 L718.0 198.8 L720.0 206.2 L722.0 213.3 L724.0 220.1 L726.0 226.7 L728.0 233.0 L730.0 239.1 L732.0 245.0 L734.0 250.7 L736.0 256.3 L738.0 261.7 L740.0 267.1 L742.0 272.3 L744.0 277.5 L746.0 282.7 L748.0 287.8 L750.0 292.7 L752.0 297.4 L754.0 301.9 L756.0 306.1 L758.0 310.1 L760.0 314.1 L762.0 317.8 L764.0 320.9 L766.0 323.6 L768.0 325.9 L770.0 327.8 L772.0 329.3 L774.0 330.5 L776.0 331.3 L778.0 331.8 L780.0 332.1 L782.0 332.3 L784.0 332.3 L786.0 332.2 L788.0 332.1 L790.0 331.8 L792.0 331.3 L794.0 330.6 L796.0 329.9 L798.0 329.1 L800.0 328.2 L802.0 327.2 L804.0 326.1 L806.0 324.9 L808.0 323.4 L810.0 321.8 L812.0 320.1 L814.0 318.4 L816.0 316.8 L818.0 315.1 L820.0 313.3 L822.0 311.4 L824.0 309.3 L826.0 307.0 L828.0 304.5 L830.0 302.1 L832.0 299.7 L834.0 297.2 L836.0 294.8 L838.0 292.6 L840.0 290.5 L842.0 288.6 L844.0 286.8 L846.0 285.2 L848.0 283.8 L850.0 282.5 L852.0 281.4 L854.0 280.4 L856.0 279.6 L858.0 278.7 L860.0 277.9 L862.0 277.1 L864.0 276.5 L866.0 276.0 L868.0 275.5 L870.0 275.0 L874.0 274.2 L878.0 273.4 L882.0 272.7 L886.0 272.2 L890.0 271.7 L894.0 271.3 L898.0 270.9 L902.0 270.5 L906.0 270.0 L910.0 269.6 L914.0 269.2 L918.0 268.9 L922.0 268.7 L926.0 268.5 L930.0 268.2 L934.0 268.0 L938.0 267.8 L942.0 267.6 L946.0 267.4 L950.0 267.2 L954.0 266.9 L958.0 266.6 L962.0 266.2 L966.0 265.6 L970.0 265.0 L974.0 264.2 L978.0 263.3 L982.0 262.2 L986.0 260.9 L990.0 259.4 L994.0 257.7 L998.0 255.9 L1002.0 254.1 L1006.0 252.3 L1010.0 250.5 L1014.0 248.6 L1018.0 246.6 L1022.0 244.4 L1026.0 242.1 L1030.0 239.6 L1034.0 237.0 L1038.0 234.4 L1042.0 231.6 L1046.0 229.0 L1050.0 226.5 L1054.0 224.1 L1058.0 221.5 L1062.0 218.7 L1066.0 215.7 L1070.0 212.7 L1074.0 209.9 L1078.0 207.2 L1082.0 204.8 L1086.0 202.5 L1090.0 200.4 L1094.0 198.4 L1098.0 196.6 L1102.0 195.0 L1106.0 193.8 L1110.0 192.8 L1114.0 192.0 L1118.0 191.6 L1122.0 191.5 L1126.0 191.6 L1130.0 192.0 L1134.0 192.5 L1138.0 193.3 L1142.0 194.2 L1146.0 195.4 L1150.0 196.8 L1154.0 198.2 L1158.0 199.6 L1162.0 201.1 L1166.0 202.5 L1170.0 203.9 L1174.0 205.3 L1178.0 206.8 L1182.0 208.2 L1186.0 209.6 L1190.0 211.0 L1194.0 212.5 L1198.0 213.9 L1202.0 215.3 L1206.0 216.6 L1210.0 217.9 L1214.0 219.2 L1218.0 220.5 L1222.0 221.8 L1226.0 223.2 L1230.0 224.5" stroke="#a3d554" stroke-width="4.20"/>
<path d="M148.0 173.0 L150.0 173.0 L152.0 173.0 L154.0 173.0 L156.0 173.0 L158.0 173.0 L160.0 173.0 L162.0 173.0 L164.0 173.0 L166.0 173.0 L168.0 173.0 L170.0 173.0 L172.0 173.0 L174.0 173.0 L176.0 173.0 L178.0 173.0 L180.0 173.0 L182.0 173.0 L184.0 173.0 L186.0 173.0 L188.0 173.0 L190.0 173.0 L192.0 173.0 L194.0 173.0 L196.0 173.0 L198.0 173.0 L200.0 173.0 L202.0 173.0 L204.0 173.0 L206.0 173.0 L208.0 173.0 L210.0 173.0 L212.0 173.0 L214.0 173.0 L216.0 173.0 L218.0 173.0 L220.0 173.0 L222.0 173.0 L224.0 173.0 L226.0 173.0 L228.0 173.0 L230.0 173.0 L232.0 173.0 L234.0 173.0 L236.0 173.0 L238.0 173.0 L240.0 173.0 L242.0 173.0 L244.0 173.0 L246.0 173.0 L248.0 173.0 L250.0 173.0 L252.0 173.0 L254.0 173.0 L256.0 173.0 L258.0 173.0 L260.0 173.0 L262.0 173.0 L264.0 173.0 L266.0 173.0 L268.0 173.0 L270.0 173.0 L272.0 173.0 L274.0 173.0 L276.0 173.0 L278.0 173.0 L280.0 173.0 L282.0 173.0 L284.0 173.0 L286.0 173.0 L288.0 173.0 L290.0 173.0 L292.0 173.0 L294.0 173.0 L296.0 173.0 L298.0 173.0 L300.0 173.0 L302.0 173.0 L304.0 173.0 L306.0 173.0 L308.0 173.0 L310.0 173.0 L312.0 173.0 L314.0 173.0 L316.0 173.0 L318.0 173.0 L320.0 173.0 L322.0 173.0 L324.0 173.0 L326.0 173.0 L328.0 173.0 L330.0 173.0 L332.0 173.0 L334.0 173.0 L336.0 173.0 L338.0 173.0 L340.0 173.0 L342.0 173.0 L344.0 173.0 L346.0 173.0 L348.0 173.0 L350.0 173.0 L352.0 173.0 L354.0 173.0 L356.0 173.0 L358.0 173.0 L360.0 173.0 L362.0 173.0 L364.0 173.0 L366.0 173.0 L368.0 173.0 L370.0 173.0 L372.0 173.0 L374.0 173.0 L376.0 173.0 L378.0 173.0 L380.0 173.0 L382.0 173.0 L384.0 173.0 L386.0 173.0 L388.0 173.0 L390.0 173.0 L392.0 173.0 L394.0 173.0 L396.0 173.0 L398.0 173.0 L400.0 173.0 L402.0 173.0 L404.0 173.0 L406.0 173.0 L408.0 173.0 L410.0 173.0 L412.0 173.0 L414.0 173.0 L416.0 173.0 L418.0 173.0 L420.0 173.0 L422.0 173.0 L424.0 173.0 L426.0 173.0 L428.0 173.0 L430.0 173.0 L432.0 173.0 L434.0 173.0 L436.0 173.0 L438.0 173.0 L440.0 173.0 L442.0 173.0 L444.0 173.0 L446.0 173.0 L448.0 173.0 L450.0 173.0 L452.0 173.0 L454.0 173.0 L456.0 173.0 L458.0 173.0 L460.0 173.0 L462.0 173.0 L464.0 173.0 L466.0 173.0 L468.0 173.0 L470.0 173.0 L472.0 173.0 L474.0 173.0 L476.0 173.0 L478.0 173.0 L480.0 173.0 L482.0 173.0 L484.0 173.0 L486.0 173.0 L488.0 173.0 L490.0 173.0 L492.0 173.0 L494.0 173.0 L496.0 173.0 L498.0 173.0 L500.0 173.0 L502.0 173.0 L504.0 173.0 L506.0 173.0 L508.0 173.0 L510.0 173.0 L512.0 173.0 L514.0 172.9 L516.0 172.9 L518.0 172.9 L520.0 172.9 L522.0 172.9 L524.0 172.9 L526.0 172.9 L528.0 172.8 L530.0 172.8 L532.0 172.8 L534.0 172.8 L536.0 172.8 L538.0 172.7 L540.0 172.7 L542.0 172.7 L544.0 172.7 L546.0 172.6 L548.0 172.6 L550.0 172.6 L552.0 172.6 L554.0 172.6 L556.0 172.7 L558.0 172.8 L560.0 172.9 L562.0 173.0 L564.0 173.0 L566.0 173.0 L568.0 173.0 L570.0 173.0 L572.0 173.0 L574.0 173.0 L576.0 173.0 L578.0 173.0 L580.0 173.0 L582.0 173.0 L584.0 173.0 L586.0 173.0 L588.0 173.0 L590.0 173.0 L592.0 173.0 L592.5 173.0 L593.5 173.1 L594.5 173.1 L595.5 173.2 L596.5 173.4 L597.5 173.8 L598.5 174.3 L599.5 174.8 L600.5 175.3 L601.5 175.8 L602.5 176.4 L603.5 177.0 L604.5 177.7 L605.5 178.3 L606.5 179.0 L607.5 179.8 L608.5 180.5 L609.5 181.2 L610.5 182.0 L611.5 182.8 L612.5 183.6 L613.5 184.5 L614.5 185.5 L615.5 186.5 L616.5 187.6 L617.5 188.8 L618.5 190.0 L619.5 191.4 L621.0 196.8 L621.6 188.5 L622.5 180.1 L624.3 173.0 L625.3 170.7 L626.3 168.4 L627.3 166.1 L628.3 163.8 L629.3 161.5 L630.3 159.2 L631.3 156.9 L632.3 154.6 L633.3 152.3 L634.3 149.9 L635.3 147.6 L636.3 145.3 L637.3 143.0 L638.3 140.7 L639.3 138.4 L640.3 136.1 L641.3 133.8 L642.3 131.5 L643.3 129.2 L644.3 126.9 L645.3 124.6 L646.3 122.3 L647.3 120.0 L648.3 117.7 L649.3 115.4 L650.3 113.1 L651.3 110.8 L652.3 108.5 L653.3 106.2 L654.3 103.9 L655.3 101.6 L656.3 99.3 L657.3 97.2 L658.3 95.2 L659.3 93.6 L659.8 93.9 L660.3 94.1 L660.8 94.2 L661.3 94.2 L661.8 94.1 L662.3 93.8 L662.8 93.4 L663.3 93.0 L663.8 92.6 L664.3 92.2 L664.8 91.6 L665.3 91.1 L665.8 90.5 L666.3 89.8 L666.8 89.2 L667.0 89.0 L668.0 87.4 L669.0 85.9 L670.0 84.5 L671.0 83.3 L672.0 82.2 L673.0 81.2 L674.0 80.3 L675.0 79.6 L676.0 79.0 L677.0 78.5 L678.0 78.1 L679.0 78.4 L680.0 78.8 L681.0 79.3 L682.0 80.0 L683.0 81.1 L684.0 82.5 L685.0 84.2 L686.0 86.4 L687.0 88.7 L688.0 91.4 L689.0 94.5 L690.0 97.8 L691.0 101.3 L692.0 105.1 L693.0 109.1 L694.0 113.1 L695.0 117.3 L696.0 121.4 L697.0 125.6 L698.0 129.7 L699.0 133.9 L700.0 138.0 L702.0 146.1 L704.0 154.0 L706.0 161.8 L708.0 169.6 L710.0 177.2 L712.0 184.7 L714.0 192.2 L716.0 199.6 L718.0 206.9 L720.0 214.3 L722.0 221.3 L724.0 228.1 L726.0 234.7 L728.0 241.0 L730.0 247.1 L732.0 253.0 L734.0 258.7 L736.0 264.2 L738.0 269.6 L740.0 274.9 L742.0 280.1 L744.0 285.3 L746.0 290.4 L748.0 295.4 L750.0 300.2 L752.0 304.8 L754.0 309.2 L756.0 313.2 L758.0 317.0 L760.0 320.8 L762.0 324.4 L764.0 327.4 L766.0 330.0 L768.0 332.2 L770.0 334.1 L772.0 335.5 L774.0 336.6 L776.0 337.3 L778.0 337.8 L780.0 338.1 L782.0 338.2 L784.0 338.2 L786.0 338.0 L788.0 337.8 L790.0 337.5 L792.0 336.9 L794.0 336.1 L796.0 335.3 L798.0 334.4 L800.0 333.4 L802.0 332.3 L804.0 331.0 L806.0 329.7 L808.0 328.1 L810.0 326.3 L812.0 324.5 L814.0 322.8 L816.0 321.0 L818.0 319.1 L820.0 317.2 L822.0 315.2 L824.0 313.0 L826.0 310.6 L828.0 308.0 L830.0 305.5 L832.0 303.0 L834.0 300.5 L836.0 298.0 L838.0 295.7 L840.0 293.6 L842.0 291.6 L844.0 289.7 L846.0 288.1 L848.0 286.6 L850.0 285.3 L852.0 284.1 L854.0 283.1 L856.0 282.1 L858.0 281.3 L860.0 280.4 L862.0 279.6 L864.0 279.0 L866.0 278.5 L868.0 278.0 L870.0 277.5 L874.0 276.7 L878.0 275.9 L882.0 275.2 L886.0 274.6 L890.0 274.1 L894.0 273.7 L898.0 273.3 L902.0 272.8 L906.0 272.4 L910.0 272.0 L914.0 271.6 L918.0 271.3 L922.0 271.1 L926.0 270.8 L930.0 270.6 L934.0 270.4 L938.0 270.2 L942.0 269.9 L946.0 269.7 L950.0 269.5 L954.0 269.3 L958.0 269.0 L962.0 268.5 L966.0 268.0 L970.0 267.3 L974.0 266.6 L978.0 265.6 L982.0 264.5 L986.0 263.2 L990.0 261.8 L994.0 260.1 L998.0 258.3 L1002.0 256.5 L1006.0 254.7 L1010.0 252.9 L1014.0 251.0 L1018.0 249.0 L1022.0 246.8 L1026.0 244.5 L1030.0 242.0 L1034.0 239.4 L1038.0 236.7 L1042.0 234.0 L1046.0 231.4 L1050.0 228.9 L1054.0 226.4 L1058.0 223.9 L1062.0 221.1 L1066.0 218.1 L1070.0 215.1 L1074.0 212.3 L1078.0 209.6 L1082.0 207.2 L1086.0 204.9 L1090.0 202.8 L1094.0 200.8 L1098.0 199.0 L1102.0 197.5 L1106.0 196.2 L1110.0 195.2 L1114.0 194.5 L1118.0 194.1 L1122.0 194.0 L1126.0 194.1 L1130.0 194.5 L1134.0 195.0 L1138.0 195.8 L1142.0 196.7 L1146.0 197.9 L1150.0 199.3 L1154.0 200.6 L1158.0 202.1 L1162.0 203.5 L1166.0 205.0 L1170.0 206.4 L1174.0 207.8 L1178.0 209.2 L1182.0 210.6 L1186.0 212.1 L1190.0 213.5 L1194.0 214.9 L1198.0 216.3 L1202.0 217.7 L1206.0 219.1 L1210.0 220.4 L1214.0 221.7 L1218.0 223.0 L1222.0 224.3 L1226.0 225.7 L1230.0 227.0" stroke="#8ccb64" stroke-width="4.20"/>
<path d="M148.0 173.0 L150.0 173.0 L152.0 173.0 L154.0 173.0 L156.0 173.0 L158.0 173.0 L160.0 173.0 L162.0 173.0 L164.0 173.0 L166.0 173.0 L168.0 173.0 L170.0 173.0 L172.0 173.0 L174.0 173.0 L176.0 173.0 L178.0 173.0 L180.0 173.0 L182.0 173.0 L184.0 173.0 L186.0 173.0 L188.0 173.0 L190.0 173.0 L192.0 173.0 L194.0 173.0 L196.0 173.0 L198.0 173.0 L200.0 173.0 L202.0 173.0 L204.0 173.0 L206.0 173.0 L208.0 173.0 L210.0 173.0 L212.0 173.0 L214.0 173.0 L216.0 173.0 L218.0 173.0 L220.0 173.0 L222.0 173.0 L224.0 173.0 L226.0 173.0 L228.0 173.0 L230.0 173.0 L232.0 173.0 L234.0 173.0 L236.0 173.0 L238.0 173.0 L240.0 173.0 L242.0 173.0 L244.0 173.0 L246.0 173.0 L248.0 173.0 L250.0 173.0 L252.0 173.0 L254.0 173.0 L256.0 173.0 L258.0 173.0 L260.0 173.0 L262.0 173.0 L264.0 173.0 L266.0 173.0 L268.0 173.0 L270.0 173.0 L272.0 173.0 L274.0 173.0 L276.0 173.0 L278.0 173.0 L280.0 173.0 L282.0 173.0 L284.0 173.0 L286.0 173.0 L288.0 173.0 L290.0 173.0 L292.0 173.0 L294.0 173.0 L296.0 173.0 L298.0 173.0 L300.0 173.0 L302.0 173.0 L304.0 173.0 L306.0 173.0 L308.0 173.0 L310.0 173.0 L312.0 173.0 L314.0 173.0 L316.0 173.0 L318.0 173.0 L320.0 173.0 L322.0 173.0 L324.0 173.0 L326.0 173.0 L328.0 173.0 L330.0 173.0 L332.0 173.0 L334.0 173.0 L336.0 173.0 L338.0 173.0 L340.0 173.0 L342.0 173.0 L344.0 173.0 L346.0 173.0 L348.0 173.0 L350.0 173.0 L352.0 173.0 L354.0 173.0 L356.0 173.0 L358.0 173.0 L360.0 173.0 L362.0 173.0 L364.0 173.0 L366.0 173.0 L368.0 173.0 L370.0 173.0 L372.0 173.0 L374.0 173.0 L376.0 173.0 L378.0 173.0 L380.0 173.0 L382.0 173.0 L384.0 173.0 L386.0 173.0 L388.0 173.0 L390.0 173.0 L392.0 173.0 L394.0 173.0 L396.0 173.0 L398.0 173.0 L400.0 173.0 L402.0 173.0 L404.0 173.0 L406.0 173.0 L408.0 173.0 L410.0 173.0 L412.0 173.0 L414.0 173.0 L416.0 173.0 L418.0 173.0 L420.0 173.0 L422.0 173.0 L424.0 173.0 L426.0 173.0 L428.0 173.0 L430.0 173.0 L432.0 173.0 L434.0 173.0 L436.0 173.0 L438.0 173.0 L440.0 173.0 L442.0 173.0 L444.0 173.0 L446.0 173.0 L448.0 173.0 L450.0 173.0 L452.0 173.0 L454.0 173.0 L456.0 173.0 L458.0 173.0 L460.0 173.0 L462.0 173.0 L464.0 173.0 L466.0 173.0 L468.0 173.0 L470.0 173.0 L472.0 173.0 L474.0 173.0 L476.0 173.0 L478.0 173.0 L480.0 173.0 L482.0 173.0 L484.0 173.0 L486.0 173.0 L488.0 173.0 L490.0 173.0 L492.0 173.0 L494.0 173.0 L496.0 173.0 L498.0 173.0 L500.0 173.0 L502.0 173.0 L504.0 173.0 L506.0 173.0 L508.0 173.0 L510.0 172.9 L512.0 172.9 L514.0 172.9 L516.0 172.9 L518.0 172.8 L520.0 172.8 L522.0 172.8 L524.0 172.7 L526.0 172.7 L528.0 172.7 L530.0 172.6 L532.0 172.6 L534.0 172.6 L536.0 172.5 L538.0 172.5 L540.0 172.4 L542.0 172.4 L544.0 172.3 L546.0 172.3 L548.0 172.2 L550.0 172.2 L552.0 172.2 L554.0 172.2 L556.0 172.4 L558.0 172.5 L560.0 172.8 L562.0 173.0 L564.0 173.0 L566.0 173.0 L568.0 173.0 L570.0 173.0 L572.0 173.0 L574.0 173.0 L576.0 173.0 L578.0 173.0 L580.0 173.0 L582.0 173.0 L584.0 173.0 L586.0 173.0 L588.0 173.0 L590.0 173.0 L592.0 173.0 L592.5 173.0 L593.5 173.1 L594.5 173.1 L595.5 173.2 L596.5 173.4 L597.5 173.8 L598.5 174.3 L599.5 174.8 L600.5 175.3 L601.5 175.8 L602.5 176.4 L603.5 177.0 L604.5 177.7 L605.5 178.3 L606.5 179.0 L607.5 179.8 L608.5 180.5 L609.5 181.2 L610.5 182.0 L611.5 182.8 L612.5 183.6 L613.5 184.5 L614.5 185.5 L615.5 186.5 L617.3 191.0 L617.8 184.7 L618.6 178.4 L620.2 173.0 L621.2 170.9 L622.2 168.9 L623.2 166.8 L624.2 164.7 L625.2 162.6 L626.2 160.6 L627.2 158.5 L628.2 156.4 L629.2 154.4 L630.2 152.3 L631.2 150.2 L632.2 148.2 L633.2 146.1 L634.2 144.0 L635.2 141.9 L636.2 139.9 L637.2 137.8 L638.2 135.7 L639.2 133.7 L640.2 131.6 L641.2 129.5 L642.2 127.4 L643.2 125.4 L644.2 123.3 L645.2 121.2 L646.2 119.2 L647.2 117.1 L648.2 115.0 L649.2 112.9 L650.2 110.9 L651.2 108.8 L652.2 106.8 L653.2 104.7 L654.2 102.7 L655.2 100.8 L656.2 99.0 L657.2 97.5 L658.2 96.4 L659.2 95.7 L659.7 95.9 L660.2 96.0 L660.7 96.1 L661.2 96.3 L661.7 96.5 L662.2 96.8 L662.7 97.0 L663.2 97.0 L663.7 96.9 L664.2 96.6 L664.7 96.3 L665.2 95.9 L665.7 95.4 L666.2 94.9 L666.7 94.4 L667.0 94.1 L668.0 92.6 L669.0 91.1 L670.0 89.8 L671.0 88.6 L672.0 87.6 L673.0 86.7 L674.0 85.9 L675.0 85.3 L676.0 84.7 L677.0 84.3 L678.0 84.3 L679.0 84.7 L680.0 85.2 L681.0 85.8 L682.0 86.6 L683.0 87.8 L684.0 89.2 L685.0 91.1 L686.0 93.4 L687.0 95.9 L688.0 98.7 L689.0 101.9 L690.0 105.2 L691.0 108.9 L692.0 112.8 L693.0 116.8 L694.0 120.9 L695.0 125.1 L696.0 129.3 L697.0 133.5 L698.0 137.7 L699.0 141.9 L700.0 146.0 L702.0 154.2 L704.0 162.2 L706.0 170.0 L708.0 177.8 L710.0 185.4 L712.0 192.9 L714.0 200.4 L716.0 207.8 L718.0 215.1 L720.0 222.4 L722.0 229.4 L724.0 236.2 L726.0 242.8 L728.0 249.1 L730.0 255.2 L732.0 261.0 L734.0 266.7 L736.0 272.2 L738.0 277.6 L740.0 282.9 L742.0 288.1 L744.0 293.1 L746.0 298.2 L748.0 303.1 L750.0 307.9 L752.0 312.4 L754.0 316.6 L756.0 320.5 L758.0 324.2 L760.0 327.8 L762.0 331.2 L764.0 334.1 L766.0 336.6 L768.0 338.8 L770.0 340.5 L772.0 341.9 L774.0 342.9 L776.0 343.6 L778.0 344.1 L780.0 344.3 L782.0 344.4 L784.0 344.3 L786.0 344.2 L788.0 343.9 L790.0 343.5 L792.0 342.8 L794.0 342.0 L796.0 341.1 L798.0 340.1 L800.0 338.9 L802.0 337.7 L804.0 336.3 L806.0 334.9 L808.0 333.2 L810.0 331.3 L812.0 329.4 L814.0 327.5 L816.0 325.6 L818.0 323.6 L820.0 321.6 L822.0 319.4 L824.0 317.1 L826.0 314.6 L828.0 312.0 L830.0 309.4 L832.0 306.8 L834.0 304.2 L836.0 301.7 L838.0 299.3 L840.0 297.1 L842.0 295.0 L844.0 293.1 L846.0 291.4 L848.0 289.9 L850.0 288.5 L852.0 287.2 L854.0 286.2 L856.0 285.2 L858.0 284.3 L860.0 283.4 L862.0 282.7 L864.0 282.0 L866.0 281.5 L868.0 280.9 L870.0 280.5 L874.0 279.6 L878.0 278.8 L882.0 278.1 L886.0 277.5 L890.0 277.0 L894.0 276.6 L898.0 276.2 L902.0 275.7 L906.0 275.3 L910.0 274.9 L914.0 274.5 L918.0 274.2 L922.0 273.9 L926.0 273.7 L930.0 273.4 L934.0 273.2 L938.0 273.0 L942.0 272.8 L946.0 272.5 L950.0 272.3 L954.0 272.1 L958.0 271.8 L962.0 271.3 L966.0 270.8 L970.0 270.1 L974.0 269.4 L978.0 268.5 L982.0 267.4 L986.0 266.1 L990.0 264.6 L994.0 263.0 L998.0 261.2 L1002.0 259.4 L1006.0 257.6 L1010.0 255.8 L1014.0 253.8 L1018.0 251.8 L1022.0 249.7 L1026.0 247.4 L1030.0 244.9 L1034.0 242.3 L1038.0 239.6 L1042.0 236.9 L1046.0 234.3 L1050.0 231.8 L1054.0 229.3 L1058.0 226.7 L1062.0 224.0 L1066.0 220.9 L1070.0 218.0 L1074.0 215.2 L1078.0 212.5 L1082.0 210.1 L1086.0 207.8 L1090.0 205.7 L1094.0 203.7 L1098.0 201.9 L1102.0 200.4 L1106.0 199.2 L1110.0 198.2 L1114.0 197.5 L1118.0 197.1 L1122.0 197.0 L1126.0 197.1 L1130.0 197.5 L1134.0 198.0 L1138.0 198.7 L1142.0 199.7 L1146.0 200.9 L1150.0 202.2 L1154.0 203.6 L1158.0 205.0 L1162.0 206.5 L1166.0 207.9 L1170.0 209.3 L1174.0 210.7 L1178.0 212.2 L1182.0 213.6 L1186.0 215.0 L1190.0 216.4 L1194.0 217.9 L1198.0 219.3 L1202.0 220.7 L1206.0 222.0 L1210.0 223.3 L1214.0 224.6 L1218.0 226.0 L1222.0 227.3 L1226.0 228.6 L1230.0 230.0" stroke="#7bc072" stroke-width="4.20"/>
<path d="M148.0 173.0 L150.0 173.0 L152.0 173.0 L154.0 173.0 L156.0 173.0 L158.0 173.0 L160.0 173.0 L162.0 173.0 L164.0 173.0 L166.0 173.0 L168.0 173.0 L170.0 173.0 L172.0 173.0 L174.0 173.0 L176.0 173.0 L178.0 173.0 L180.0 173.0 L182.0 173.0 L184.0 173.0 L186.0 173.0 L188.0 173.0 L190.0 173.0 L192.0 173.0 L194.0 173.0 L196.0 173.0 L198.0 173.0 L200.0 173.0 L202.0 173.0 L204.0 173.0 L206.0 173.0 L208.0 173.0 L210.0 173.0 L212.0 173.0 L214.0 173.0 L216.0 173.0 L218.0 173.0 L220.0 173.0 L222.0 173.0 L224.0 173.0 L226.0 173.0 L228.0 173.0 L230.0 173.0 L232.0 173.0 L234.0 173.0 L236.0 173.0 L238.0 173.0 L240.0 173.0 L242.0 173.0 L244.0 173.0 L246.0 173.0 L248.0 173.0 L250.0 173.0 L252.0 173.0 L254.0 173.0 L256.0 173.0 L258.0 173.0 L260.0 173.0 L262.0 173.0 L264.0 173.0 L266.0 173.0 L268.0 173.0 L270.0 173.0 L272.0 173.0 L274.0 173.0 L276.0 173.0 L278.0 173.0 L280.0 173.0 L282.0 173.0 L284.0 173.0 L286.0 173.0 L288.0 173.0 L290.0 173.0 L292.0 173.0 L294.0 173.0 L296.0 173.0 L298.0 173.0 L300.0 173.0 L302.0 173.0 L304.0 173.0 L306.0 173.0 L308.0 173.0 L310.0 173.0 L312.0 173.0 L314.0 173.0 L316.0 173.0 L318.0 173.0 L320.0 173.0 L322.0 173.0 L324.0 173.0 L326.0 173.0 L328.0 173.0 L330.0 173.0 L332.0 173.0 L334.0 173.0 L336.0 173.0 L338.0 173.0 L340.0 173.0 L342.0 173.0 L344.0 173.0 L346.0 173.0 L348.0 173.0 L350.0 173.0 L352.0 173.0 L354.0 173.0 L356.0 173.0 L358.0 173.0 L360.0 173.0 L362.0 173.0 L364.0 173.0 L366.0 173.0 L368.0 173.0 L370.0 173.0 L372.0 173.0 L374.0 173.0 L376.0 173.0 L378.0 173.0 L380.0 173.0 L382.0 173.0 L384.0 173.0 L386.0 173.0 L388.0 173.0 L390.0 173.0 L392.0 173.0 L394.0 173.0 L396.0 173.0 L398.0 173.0 L400.0 173.0 L402.0 173.0 L404.0 173.0 L406.0 173.0 L408.0 173.0 L410.0 173.0 L412.0 173.0 L414.0 173.0 L416.0 173.0 L418.0 173.0 L420.0 173.0 L422.0 173.0 L424.0 173.0 L426.0 173.0 L428.0 173.0 L430.0 173.0 L432.0 173.0 L434.0 173.0 L436.0 173.0 L438.0 173.0 L440.0 173.0 L442.0 173.0 L444.0 173.0 L446.0 173.0 L448.0 173.0 L450.0 173.0 L452.0 173.0 L454.0 173.0 L456.0 173.0 L458.0 173.0 L460.0 173.0 L462.0 173.0 L464.0 173.0 L466.0 173.0 L468.0 173.0 L470.0 173.0 L472.0 173.0 L474.0 173.0 L476.0 173.0 L478.0 173.0 L480.0 173.0 L482.0 173.0 L484.0 173.0 L486.0 173.0 L488.0 173.0 L490.0 173.0 L492.0 173.0 L494.0 173.0 L496.0 173.0 L498.0 173.0 L500.0 173.0 L502.0 173.0 L504.0 173.0 L506.0 172.9 L508.0 172.9 L510.0 172.9 L512.0 172.8 L514.0 172.8 L516.0 172.7 L518.0 172.7 L520.0 172.6 L522.0 172.6 L524.0 172.5 L526.0 172.5 L528.0 172.4 L530.0 172.3 L532.0 172.2 L534.0 172.2 L536.0 172.1 L538.0 172.0 L540.0 171.9 L542.0 171.9 L544.0 171.8 L546.0 171.7 L548.0 171.6 L550.0 171.5 L552.0 171.5 L554.0 171.6 L556.0 171.8 L558.0 172.1 L560.0 172.6 L562.0 173.0 L564.0 173.0 L566.0 173.0 L568.0 173.0 L570.0 173.0 L572.0 173.0 L574.0 173.0 L576.0 173.0 L578.0 173.0 L580.0 173.0 L582.0 173.0 L584.0 173.0 L586.0 173.0 L588.0 173.0 L590.0 173.0 L592.0 173.0 L592.5 173.0 L593.5 173.1 L594.5 173.1 L595.5 173.2 L596.5 173.4 L597.5 173.8 L598.5 174.3 L599.5 174.8 L600.5 175.3 L601.5 175.8 L602.5 176.4 L603.5 177.0 L604.5 177.7 L605.5 178.3 L606.5 179.0 L607.5 179.8 L608.5 180.5 L609.5 181.2 L610.5 182.0 L611.5 182.8 L613.5 185.4 L613.9 181.1 L614.6 176.7 L616.0 173.0 L617.0 171.1 L618.0 169.2 L619.0 167.4 L620.0 165.5 L621.0 163.6 L622.0 161.7 L623.0 159.9 L624.0 158.0 L625.0 156.1 L626.0 154.2 L627.0 152.4 L628.0 150.5 L629.0 148.6 L630.0 146.7 L631.0 144.9 L632.0 143.0 L633.0 141.1 L634.0 139.2 L635.0 137.4 L636.0 135.5 L637.0 133.6 L638.0 131.7 L639.0 129.8 L640.0 128.0 L641.0 126.1 L642.0 124.2 L643.0 122.3 L644.0 120.5 L645.0 118.6 L646.0 116.7 L647.0 114.8 L648.0 113.0 L649.0 111.1 L650.0 109.2 L651.0 107.4 L652.0 105.6 L653.0 104.0 L654.0 102.5 L655.0 101.2 L656.0 100.4 L657.0 99.8 L658.0 99.4 L659.0 99.2 L659.5 99.2 L660.0 99.3 L660.5 99.5 L661.0 99.6 L661.5 99.9 L662.0 100.4 L662.5 101.0 L663.0 101.3 L663.5 101.3 L664.0 101.2 L664.5 101.0 L665.0 100.7 L665.5 100.4 L666.0 100.1 L666.5 99.7 L667.0 99.3 L667.0 99.3 L668.0 97.9 L669.0 96.5 L670.0 95.3 L671.0 94.2 L672.0 93.2 L673.0 92.4 L674.0 91.7 L675.0 91.1 L676.0 90.6 L677.0 90.6 L678.0 90.8 L679.0 91.3 L680.0 91.8 L681.0 92.5 L682.0 93.4 L683.0 94.7 L684.0 96.2 L685.0 98.2 L686.0 100.6 L687.0 103.2 L688.0 106.1 L689.0 109.3 L690.0 112.8 L691.0 116.5 L692.0 120.5 L693.0 124.5 L694.0 128.7 L695.0 133.0 L696.0 137.2 L697.0 141.4 L698.0 145.7 L699.0 149.9 L700.0 154.1 L702.0 162.3 L704.0 170.3 L706.0 178.3 L708.0 186.0 L710.0 193.6 L712.0 201.2 L714.0 208.6 L716.0 215.9 L718.0 223.2 L720.0 230.4 L722.0 237.5 L724.0 244.2 L726.0 250.8 L728.0 257.1 L730.0 263.2 L732.0 269.1 L734.0 274.7 L736.0 280.2 L738.0 285.6 L740.0 290.8 L742.0 295.9 L744.0 301.0 L746.0 305.9 L748.0 310.8 L750.0 315.5 L752.0 319.9 L754.0 324.1 L756.0 327.8 L758.0 331.2 L760.0 334.7 L762.0 337.9 L764.0 340.7 L766.0 343.2 L768.0 345.3 L770.0 347.0 L772.0 348.2 L774.0 349.3 L776.0 349.9 L778.0 350.3 L780.0 350.6 L782.0 350.6 L784.0 350.5 L786.0 350.3 L788.0 350.0 L790.0 349.5 L792.0 348.8 L794.0 347.9 L796.0 347.0 L798.0 345.9 L800.0 344.7 L802.0 343.4 L804.0 341.9 L806.0 340.4 L808.0 338.6 L810.0 336.7 L812.0 334.7 L814.0 332.8 L816.0 330.8 L818.0 328.7 L820.0 326.6 L822.0 324.4 L824.0 322.0 L826.0 319.4 L828.0 316.7 L830.0 314.1 L832.0 311.5 L834.0 308.9 L836.0 306.3 L838.0 303.9 L840.0 301.7 L842.0 299.6 L844.0 297.6 L846.0 295.9 L848.0 294.3 L850.0 292.9 L852.0 291.6 L854.0 290.5 L856.0 289.6 L858.0 288.6 L860.0 287.8 L862.0 287.0 L864.0 286.3 L866.0 285.7 L868.0 285.2 L870.0 284.7 L874.0 283.9 L878.0 283.0 L882.0 282.3 L886.0 281.7 L890.0 281.2 L894.0 280.7 L898.0 280.3 L902.0 279.8 L906.0 279.4 L910.0 279.0 L914.0 278.6 L918.0 278.3 L922.0 278.0 L926.0 277.7 L930.0 277.5 L934.0 277.2 L938.0 277.0 L942.0 276.8 L946.0 276.5 L950.0 276.3 L954.0 276.0 L958.0 275.7 L962.0 275.3 L966.0 274.7 L970.0 274.1 L974.0 273.3 L978.0 272.4 L982.0 271.3 L986.0 270.0 L990.0 268.6 L994.0 266.9 L998.0 265.1 L1002.0 263.3 L1006.0 261.5 L1010.0 259.6 L1014.0 257.7 L1018.0 255.6 L1022.0 253.5 L1026.0 251.1 L1030.0 248.6 L1034.0 246.0 L1038.0 243.3 L1042.0 240.6 L1046.0 238.0 L1050.0 235.4 L1054.0 232.9 L1058.0 230.3 L1062.0 227.5 L1066.0 224.4 L1070.0 221.4 L1074.0 218.6 L1078.0 215.9 L1082.0 213.4 L1086.0 211.1 L1090.0 209.0 L1094.0 207.0 L1098.0 205.2 L1102.0 203.6 L1106.0 202.3 L1110.0 201.3 L1114.0 200.6 L1118.0 200.2 L1122.0 200.0 L1126.0 200.1 L1130.0 200.5 L1134.0 201.0 L1138.0 201.7 L1142.0 202.7 L1146.0 203.8 L1150.0 205.2 L1154.0 206.6 L1158.0 208.0 L1162.0 209.4 L1166.0 210.8 L1170.0 212.3 L1174.0 213.7 L1178.0 215.1 L1182.0 216.5 L1186.0 217.9 L1190.0 219.4 L1194.0 220.8 L1198.0 222.2 L1202.0 223.6 L1206.0 224.9 L1210.0 226.3 L1214.0 227.6 L1218.0 228.9 L1222.0 230.2 L1226.0 231.6 L1230.0 232.9" stroke="#6db37d" stroke-width="4.20"/>
<path d="M148.0 173.0 L150.0 173.0 L152.0 173.0 L154.0 173.0 L156.0 173.0 L158.0 173.0 L160.0 173.0 L162.0 173.0 L164.0 173.0 L166.0 173.0 L168.0 173.0 L170.0 173.0 L172.0 173.0 L174.0 173.0 L176.0 173.0 L178.0 173.0 L180.0 173.0 L182.0 173.0 L184.0 173.0 L186.0 173.0 L188.0 173.0 L190.0 173.0 L192.0 173.0 L194.0 173.0 L196.0 173.0 L198.0 173.0 L200.0 173.0 L202.0 173.0 L204.0 173.0 L206.0 173.0 L208.0 173.0 L210.0 173.0 L212.0 173.0 L214.0 173.0 L216.0 173.0 L218.0 173.0 L220.0 173.0 L222.0 173.0 L224.0 173.0 L226.0 173.0 L228.0 173.0 L230.0 173.0 L232.0 173.0 L234.0 173.0 L236.0 173.0 L238.0 173.0 L240.0 173.0 L242.0 173.0 L244.0 173.0 L246.0 173.0 L248.0 173.0 L250.0 173.0 L252.0 173.0 L254.0 173.0 L256.0 173.0 L258.0 173.0 L260.0 173.0 L262.0 173.0 L264.0 173.0 L266.0 173.0 L268.0 173.0 L270.0 173.0 L272.0 173.0 L274.0 173.0 L276.0 173.0 L278.0 173.0 L280.0 173.0 L282.0 173.0 L284.0 173.0 L286.0 173.0 L288.0 173.0 L290.0 173.0 L292.0 173.0 L294.0 173.0 L296.0 173.0 L298.0 173.0 L300.0 173.0 L302.0 173.0 L304.0 173.0 L306.0 173.0 L308.0 173.0 L310.0 173.0 L312.0 173.0 L314.0 173.0 L316.0 173.0 L318.0 173.0 L320.0 173.0 L322.0 173.0 L324.0 173.0 L326.0 173.0 L328.0 173.0 L330.0 173.0 L332.0 173.0 L334.0 173.0 L336.0 173.0 L338.0 173.0 L340.0 173.0 L342.0 173.0 L344.0 173.0 L346.0 173.0 L348.0 173.0 L350.0 173.0 L352.0 173.0 L354.0 173.0 L356.0 173.0 L358.0 173.0 L360.0 173.0 L362.0 173.0 L364.0 173.0 L366.0 173.0 L368.0 173.0 L370.0 173.0 L372.0 173.0 L374.0 173.0 L376.0 173.0 L378.0 173.0 L380.0 173.0 L382.0 173.0 L384.0 173.0 L386.0 173.0 L388.0 173.0 L390.0 173.0 L392.0 173.0 L394.0 173.0 L396.0 173.0 L398.0 173.0 L400.0 173.0 L402.0 173.0 L404.0 173.0 L406.0 173.0 L408.0 173.0 L410.0 173.0 L412.0 173.0 L414.0 173.0 L416.0 173.0 L418.0 173.0 L420.0 173.0 L422.0 173.0 L424.0 173.0 L426.0 173.0 L428.0 173.0 L430.0 173.0 L432.0 173.0 L434.0 173.0 L436.0 173.0 L438.0 173.0 L440.0 173.0 L442.0 173.0 L444.0 173.0 L446.0 173.0 L448.0 173.0 L450.0 173.0 L452.0 173.0 L454.0 173.0 L456.0 173.0 L458.0 173.0 L460.0 173.0 L462.0 173.0 L464.0 173.0 L466.0 173.0 L468.0 173.0 L470.0 173.0 L472.0 173.0 L474.0 173.0 L476.0 173.0 L478.0 173.0 L480.0 173.0 L482.0 173.0 L484.0 173.0 L486.0 173.0 L488.0 173.0 L490.0 173.0 L492.0 173.0 L494.0 173.0 L496.0 173.0 L498.0 173.0 L500.0 173.0 L502.0 173.0 L504.0 173.0 L506.0 172.9 L508.0 172.9 L510.0 172.8 L512.0 172.7 L514.0 172.6 L516.0 172.5 L518.0 172.5 L520.0 172.4 L522.0 172.3 L524.0 172.2 L526.0 172.1 L528.0 172.0 L530.0 171.9 L532.0 171.7 L534.0 171.6 L536.0 171.5 L538.0 171.4 L540.0 171.2 L542.0 171.1 L544.0 170.9 L546.0 170.8 L548.0 170.6 L550.0 170.5 L552.0 170.5 L554.0 170.7 L556.0 171.0 L558.0 171.5 L560.0 172.4 L562.0 173.0 L564.0 173.0 L566.0 173.0 L568.0 173.0 L570.0 173.0 L572.0 173.0 L574.0 173.0 L576.0 173.0 L578.0 173.0 L580.0 173.0 L582.0 173.0 L584.0 173.0 L586.0 173.0 L588.0 173.0 L590.0 173.0 L592.0 173.0 L592.5 173.0 L593.5 173.1 L594.5 173.1 L595.5 173.2 L596.5 173.4 L597.5 173.8 L598.5 174.3 L599.5 174.8 L600.5 175.3 L601.5 175.8 L602.5 176.4 L603.5 177.0 L604.5 177.7 L605.5 178.3 L606.5 179.0 L608.0 180.5 L608.4 177.9 L608.9 175.2 L610.1 173.0 L611.1 171.3 L612.1 169.7 L613.1 168.0 L614.1 166.4 L615.1 164.7 L616.1 163.0 L617.1 161.4 L618.1 159.7 L619.1 158.1 L620.1 156.4 L621.1 154.7 L622.1 153.1 L623.1 151.4 L624.1 149.8 L625.1 148.1 L626.1 146.4 L627.1 144.8 L628.1 143.1 L629.1 141.5 L630.1 139.8 L631.1 138.2 L632.1 136.5 L633.1 134.8 L634.1 133.2 L635.1 131.5 L636.1 129.9 L637.1 128.2 L638.1 126.5 L639.1 124.9 L640.1 123.2 L641.1 121.6 L642.1 119.9 L643.1 118.2 L644.1 116.6 L645.1 114.9 L646.1 113.3 L647.1 111.7 L648.1 110.2 L649.1 108.7 L650.1 107.5 L651.1 106.4 L652.1 105.6 L653.1 105.1 L654.1 104.7 L655.1 104.4 L656.1 104.2 L657.1 104.1 L658.1 103.9 L659.1 103.8 L659.6 103.8 L660.1 103.9 L660.6 104.1 L661.1 104.3 L661.6 104.6 L662.1 105.5 L662.6 106.4 L663.1 106.7 L663.6 106.7 L664.1 106.5 L664.6 106.4 L665.1 106.1 L665.6 105.8 L666.1 105.5 L666.6 105.2 L667.0 104.9 L668.0 103.6 L669.0 102.3 L670.0 101.1 L671.0 100.1 L672.0 99.2 L673.0 98.4 L674.0 97.8 L675.0 97.3 L676.0 97.1 L677.0 97.3 L678.0 97.7 L679.0 98.2 L680.0 98.8 L681.0 99.5 L682.0 100.5 L683.0 101.7 L684.0 103.3 L685.0 105.4 L686.0 107.9 L687.0 110.6 L688.0 113.6 L689.0 116.9 L690.0 120.5 L691.0 124.2 L692.0 128.2 L693.0 132.4 L694.0 136.6 L695.0 140.9 L696.0 145.1 L697.0 149.4 L698.0 153.7 L699.0 157.9 L700.0 162.1 L702.0 170.4 L704.0 178.5 L706.0 186.5 L708.0 194.3 L710.0 201.9 L712.0 209.4 L714.0 216.8 L716.0 224.1 L718.0 231.3 L720.0 238.5 L722.0 245.5 L724.0 252.3 L726.0 258.8 L728.0 265.2 L730.0 271.3 L732.0 277.1 L734.0 282.7 L736.0 288.2 L738.0 293.5 L740.0 298.7 L742.0 303.8 L744.0 308.7 L746.0 313.6 L748.0 318.4 L750.0 323.1 L752.0 327.4 L754.0 331.4 L756.0 335.0 L758.0 338.3 L760.0 341.5 L762.0 344.7 L764.0 347.4 L766.0 349.7 L768.0 351.7 L770.0 353.4 L772.0 354.6 L774.0 355.6 L776.0 356.2 L778.0 356.6 L780.0 356.8 L782.0 356.9 L784.0 356.7 L786.0 356.5 L788.0 356.1 L790.0 355.6 L792.0 354.9 L794.0 354.0 L796.0 353.0 L798.0 351.9 L800.0 350.6 L802.0 349.2 L804.0 347.8 L806.0 346.2 L808.0 344.4 L810.0 342.4 L812.0 340.4 L814.0 338.4 L816.0 336.4 L818.0 334.3 L820.0 332.1 L822.0 329.8 L824.0 327.4 L826.0 324.8 L828.0 322.2 L830.0 319.6 L832.0 317.0 L834.0 314.3 L836.0 311.8 L838.0 309.4 L840.0 307.2 L842.0 305.1 L844.0 303.1 L846.0 301.4 L848.0 299.8 L850.0 298.4 L852.0 297.1 L854.0 296.0 L856.0 295.0 L858.0 294.1 L860.0 293.2 L862.0 292.4 L864.0 291.7 L866.0 291.1 L868.0 290.6 L870.0 290.1 L874.0 289.2 L878.0 288.4 L882.0 287.6 L886.0 287.0 L890.0 286.4 L894.0 285.9 L898.0 285.5 L902.0 285.0 L906.0 284.5 L910.0 284.1 L914.0 283.7 L918.0 283.4 L922.0 283.1 L926.0 282.8 L930.0 282.5 L934.0 282.3 L938.0 282.0 L942.0 281.8 L946.0 281.5 L950.0 281.3 L954.0 281.0 L958.0 280.6 L962.0 280.2 L966.0 279.6 L970.0 279.0 L974.0 278.2 L978.0 277.3 L982.0 276.2 L986.0 274.9 L990.0 273.4 L994.0 271.8 L998.0 269.9 L1002.0 268.1 L1006.0 266.3 L1010.0 264.4 L1014.0 262.4 L1018.0 260.3 L1022.0 258.1 L1026.0 255.7 L1030.0 253.1 L1034.0 250.5 L1038.0 247.8 L1042.0 245.0 L1046.0 242.3 L1050.0 239.7 L1054.0 237.1 L1058.0 234.4 L1062.0 231.5 L1066.0 228.4 L1070.0 225.4 L1074.0 222.5 L1078.0 219.8 L1082.0 217.2 L1086.0 214.9 L1090.0 212.7 L1094.0 210.6 L1098.0 208.7 L1102.0 207.1 L1106.0 205.7 L1110.0 204.6 L1114.0 203.8 L1118.0 203.3 L1122.0 203.0 L1126.0 203.1 L1130.0 203.5 L1134.0 204.0 L1138.0 204.7 L1142.0 205.6 L1146.0 206.8 L1150.0 208.2 L1154.0 209.5 L1158.0 211.0 L1162.0 212.4 L1166.0 213.8 L1170.0 215.2 L1174.0 216.6 L1178.0 218.0 L1182.0 219.5 L1186.0 220.9 L1190.0 222.3 L1194.0 223.7 L1198.0 225.1 L1202.0 226.5 L1206.0 227.9 L1210.0 229.2 L1214.0 230.5 L1218.0 231.9 L1222.0 233.2 L1226.0 234.6 L1230.0 235.9" stroke="#62a685" stroke-width="4.20"/>
<path d="M148.0 173.0 L150.0 173.0 L152.0 173.0 L154.0 173.0 L156.0 173.0 L158.0 173.0 L160.0 173.0 L162.0 173.0 L164.0 173.0 L166.0 173.0 L168.0 173.0 L170.0 173.0 L172.0 173.0 L174.0 173.0 L176.0 173.0 L178.0 173.0 L180.0 173.0 L182.0 173.0 L184.0 173.0 L186.0 173.0 L188.0 173.0 L190.0 173.0 L192.0 173.0 L194.0 173.0 L196.0 173.0 L198.0 173.0 L200.0 173.0 L202.0 173.0 L204.0 173.0 L206.0 173.0 L208.0 173.0 L210.0 173.0 L212.0 173.0 L214.0 173.0 L216.0 173.0 L218.0 173.0 L220.0 173.0 L222.0 173.0 L224.0 173.0 L226.0 173.0 L228.0 173.0 L230.0 173.0 L232.0 173.0 L234.0 173.0 L236.0 173.0 L238.0 173.0 L240.0 173.0 L242.0 173.0 L244.0 173.0 L246.0 173.0 L248.0 173.0 L250.0 173.0 L252.0 173.0 L254.0 173.0 L256.0 173.0 L258.0 173.0 L260.0 173.0 L262.0 173.0 L264.0 173.0 L266.0 173.0 L268.0 173.0 L270.0 173.0 L272.0 173.0 L274.0 173.0 L276.0 173.0 L278.0 173.0 L280.0 173.0 L282.0 173.0 L284.0 173.0 L286.0 173.0 L288.0 173.0 L290.0 173.0 L292.0 173.0 L294.0 173.0 L296.0 173.0 L298.0 173.0 L300.0 173.0 L302.0 173.0 L304.0 173.0 L306.0 173.0 L308.0 173.0 L310.0 173.0 L312.0 173.0 L314.0 173.0 L316.0 173.0 L318.0 173.0 L320.0 173.0 L322.0 173.0 L324.0 173.0 L326.0 173.0 L328.0 173.0 L330.0 173.0 L332.0 173.0 L334.0 173.0 L336.0 173.0 L338.0 173.0 L340.0 173.0 L342.0 173.0 L344.0 173.0 L346.0 173.0 L348.0 173.0 L350.0 173.0 L352.0 173.0 L354.0 173.0 L356.0 173.0 L358.0 173.0 L360.0 173.0 L362.0 173.0 L364.0 173.0 L366.0 173.0 L368.0 173.0 L370.0 173.0 L372.0 173.0 L374.0 173.0 L376.0 173.0 L378.0 173.0 L380.0 173.0 L382.0 173.0 L384.0 173.0 L386.0 173.0 L388.0 173.0 L390.0 173.0 L392.0 173.0 L394.0 173.0 L396.0 173.0 L398.0 173.0 L400.0 173.0 L402.0 173.0 L404.0 173.0 L406.0 173.0 L408.0 173.0 L410.0 173.0 L412.0 173.0 L414.0 173.0 L416.0 173.0 L418.0 173.0 L420.0 173.0 L422.0 173.0 L424.0 173.0 L426.0 173.0 L428.0 173.0 L430.0 173.0 L432.0 173.0 L434.0 173.0 L436.0 173.0 L438.0 173.0 L440.0 173.0 L442.0 173.0 L444.0 173.0 L446.0 173.0 L448.0 173.0 L450.0 173.0 L452.0 173.0 L454.0 173.0 L456.0 173.0 L458.0 173.0 L460.0 173.0 L462.0 173.0 L464.0 173.0 L466.0 173.0 L468.0 173.0 L470.0 173.0 L472.0 173.0 L474.0 173.0 L476.0 173.0 L478.0 173.0 L480.0 173.0 L482.0 173.0 L484.0 173.0 L486.0 173.0 L488.0 173.0 L490.0 173.0 L492.0 173.0 L494.0 173.0 L496.0 173.0 L498.0 173.0 L500.0 173.0 L502.0 173.0 L504.0 172.9 L506.0 172.9 L508.0 172.8 L510.0 172.7 L512.0 172.5 L514.0 172.4 L516.0 172.3 L518.0 172.1 L520.0 172.0 L522.0 171.9 L524.0 171.7 L526.0 171.5 L528.0 171.4 L530.0 171.2 L532.0 171.0 L534.0 170.8 L536.0 170.6 L538.0 170.4 L540.0 170.2 L542.0 170.0 L544.0 169.7 L546.0 169.5 L548.0 169.2 L550.0 169.1 L552.0 169.0 L554.0 169.2 L556.0 169.8 L558.0 170.6 L560.0 172.0 L562.0 173.0 L564.0 173.0 L566.0 173.0 L568.0 173.0 L570.0 173.0 L572.0 173.0 L574.0 173.0 L576.0 173.0 L578.0 173.0 L580.0 173.0 L582.0 173.0 L584.0 173.0 L586.0 173.0 L588.0 173.0 L590.0 173.0 L592.0 173.0 L592.5 173.0 L593.5 173.1 L594.5 173.1 L595.5 173.2 L596.5 173.4 L597.5 173.8 L598.5 174.3 L599.5 174.8 L600.5 175.3 L601.5 175.8 L602.5 176.4 L604.0 177.8 L604.3 176.1 L604.8 174.4 L605.9 173.0 L606.9 171.5 L607.9 169.9 L608.9 168.4 L609.9 166.9 L610.9 165.3 L611.9 163.8 L612.9 162.3 L613.9 160.7 L614.9 159.2 L615.9 157.7 L616.9 156.1 L617.9 154.6 L618.9 153.1 L619.9 151.5 L620.9 150.0 L621.9 148.5 L622.9 146.9 L623.9 145.4 L624.9 143.9 L625.9 142.3 L626.9 140.8 L627.9 139.3 L628.9 137.7 L629.9 136.2 L630.9 134.7 L631.9 133.1 L632.9 131.6 L633.9 130.1 L634.9 128.5 L635.9 127.0 L636.9 125.5 L637.9 124.0 L638.9 122.4 L639.9 120.9 L640.9 119.4 L641.9 117.9 L642.9 116.4 L643.9 115.0 L644.9 113.7 L645.9 112.6 L646.9 111.6 L647.9 110.9 L648.9 110.3 L649.9 110.0 L650.9 109.7 L651.9 109.5 L652.9 109.3 L653.9 109.2 L654.9 109.0 L655.9 108.9 L656.9 108.7 L657.9 108.6 L658.9 108.5 L659.4 108.5 L659.9 108.6 L660.4 108.7 L660.9 108.9 L661.4 109.1 L661.9 110.0 L662.4 111.2 L662.9 112.0 L663.4 112.0 L663.9 111.9 L664.4 111.8 L664.9 111.7 L665.4 111.5 L665.9 111.3 L666.4 111.0 L666.9 110.7 L667.0 110.7 L668.0 109.4 L669.0 108.2 L670.0 107.1 L671.0 106.2 L672.0 105.4 L673.0 104.7 L674.0 104.1 L675.0 103.8 L676.0 104.0 L677.0 104.2 L678.0 104.6 L679.0 105.1 L680.0 105.8 L681.0 106.6 L682.0 107.6 L683.0 108.9 L684.0 110.5 L685.0 112.7 L686.0 115.3 L687.0 118.1 L688.0 121.2 L689.0 124.6 L690.0 128.2 L691.0 132.0 L692.0 136.0 L693.0 140.2 L694.0 144.5 L695.0 148.8 L696.0 153.1 L697.0 157.3 L698.0 161.6 L699.0 165.9 L700.0 170.2 L702.0 178.5 L704.0 186.7 L706.0 194.7 L708.0 202.5 L710.0 210.1 L712.0 217.6 L714.0 225.0 L716.0 232.2 L718.0 239.4 L720.0 246.6 L722.0 253.6 L724.0 260.4 L726.0 266.9 L728.0 273.3 L730.0 279.4 L732.0 285.2 L734.0 290.8 L736.0 296.3 L738.0 301.6 L740.0 306.8 L742.0 311.8 L744.0 316.7 L746.0 321.6 L748.0 326.3 L750.0 330.9 L752.0 335.2 L754.0 339.1 L756.0 342.5 L758.0 345.6 L760.0 348.7 L762.0 351.7 L764.0 354.3 L766.0 356.6 L768.0 358.5 L770.0 360.1 L772.0 361.3 L774.0 362.2 L776.0 362.8 L778.0 363.2 L780.0 363.4 L782.0 363.5 L784.0 363.3 L786.0 363.0 L788.0 362.7 L790.0 362.2 L792.0 361.4 L794.0 360.5 L796.0 359.4 L798.0 358.3 L800.0 357.0 L802.0 355.5 L804.0 354.0 L806.0 352.4 L808.0 350.5 L810.0 348.6 L812.0 346.5 L814.0 344.5 L816.0 342.3 L818.0 340.2 L820.0 337.9 L822.0 335.6 L824.0 333.2 L826.0 330.6 L828.0 327.9 L830.0 325.3 L832.0 322.7 L834.0 320.1 L836.0 317.5 L838.0 315.2 L840.0 312.9 L842.0 310.8 L844.0 308.8 L846.0 307.1 L848.0 305.4 L850.0 304.0 L852.0 302.7 L854.0 301.5 L856.0 300.5 L858.0 299.5 L860.0 298.6 L862.0 297.8 L864.0 297.1 L866.0 296.5 L868.0 295.9 L870.0 295.4 L874.0 294.4 L878.0 293.5 L882.0 292.7 L886.0 292.0 L890.0 291.4 L894.0 290.8 L898.0 290.3 L902.0 289.8 L906.0 289.3 L910.0 288.8 L914.0 288.4 L918.0 288.0 L922.0 287.7 L926.0 287.3 L930.0 287.0 L934.0 286.7 L938.0 286.4 L942.0 286.2 L946.0 285.9 L950.0 285.6 L954.0 285.2 L958.0 284.9 L962.0 284.4 L966.0 283.8 L970.0 283.2 L974.0 282.4 L978.0 281.4 L982.0 280.3 L986.0 279.0 L990.0 277.5 L994.0 275.8 L998.0 274.0 L1002.0 272.1 L1006.0 270.3 L1010.0 268.3 L1014.0 266.3 L1018.0 264.2 L1022.0 261.9 L1026.0 259.5 L1030.0 256.9 L1034.0 254.3 L1038.0 251.5 L1042.0 248.8 L1046.0 246.0 L1050.0 243.4 L1054.0 240.7 L1058.0 238.0 L1062.0 235.1 L1066.0 232.0 L1070.0 228.9 L1074.0 226.0 L1078.0 223.3 L1082.0 220.7 L1086.0 218.3 L1090.0 216.1 L1094.0 214.0 L1098.0 212.1 L1102.0 210.4 L1106.0 209.0 L1110.0 207.9 L1114.0 207.0 L1118.0 206.5 L1122.0 206.2 L1126.0 206.3 L1130.0 206.7 L1134.0 207.2 L1138.0 207.9 L1142.0 208.8 L1146.0 210.0 L1150.0 211.3 L1154.0 212.7 L1158.0 214.1 L1162.0 215.5 L1166.0 216.9 L1170.0 218.3 L1174.0 219.8 L1178.0 221.2 L1182.0 222.6 L1186.0 224.0 L1190.0 225.4 L1194.0 226.9 L1198.0 228.3 L1202.0 229.7 L1206.0 231.0 L1210.0 232.4 L1214.0 233.7 L1218.0 235.0 L1222.0 236.4 L1226.0 237.7 L1230.0 239.1" stroke="#5a988a" stroke-width="4.20"/>
<path d="M148.0 173.0 L150.0 173.0 L152.0 173.0 L154.0 173.0 L156.0 173.0 L158.0 173.0 L160.0 173.0 L162.0 173.0 L164.0 173.0 L166.0 173.0 L168.0 173.0 L170.0 173.0 L172.0 173.0 L174.0 173.0 L176.0 173.0 L178.0 173.0 L180.0 173.0 L182.0 173.0 L184.0 173.0 L186.0 173.0 L188.0 173.0 L190.0 173.0 L192.0 173.0 L194.0 173.0 L196.0 173.0 L198.0 173.0 L200.0 173.0 L202.0 173.0 L204.0 173.0 L206.0 173.0 L208.0 173.0 L210.0 173.0 L212.0 173.0 L214.0 173.0 L216.0 173.0 L218.0 173.0 L220.0 173.0 L222.0 173.0 L224.0 173.0 L226.0 173.0 L228.0 173.0 L230.0 173.0 L232.0 173.0 L234.0 173.0 L236.0 173.0 L238.0 173.0 L240.0 173.0 L242.0 173.0 L244.0 173.0 L246.0 173.0 L248.0 173.0 L250.0 173.0 L252.0 173.0 L254.0 173.0 L256.0 173.0 L258.0 173.0 L260.0 173.0 L262.0 173.0 L264.0 173.0 L266.0 173.0 L268.0 173.0 L270.0 173.0 L272.0 173.0 L274.0 173.0 L276.0 173.0 L278.0 173.0 L280.0 173.0 L282.0 173.0 L284.0 173.0 L286.0 173.0 L288.0 173.0 L290.0 173.0 L292.0 173.0 L294.0 173.0 L296.0 173.0 L298.0 173.0 L300.0 173.0 L302.0 173.0 L304.0 173.0 L306.0 173.0 L308.0 173.0 L310.0 173.0 L312.0 173.0 L314.0 173.0 L316.0 173.0 L318.0 173.0 L320.0 173.0 L322.0 173.0 L324.0 173.0 L326.0 173.0 L328.0 173.0 L330.0 173.0 L332.0 173.0 L334.0 173.0 L336.0 173.0 L338.0 173.0 L340.0 173.0 L342.0 173.0 L344.0 173.0 L346.0 173.0 L348.0 173.0 L350.0 173.0 L352.0 173.0 L354.0 173.0 L356.0 173.0 L358.0 173.0 L360.0 173.0 L362.0 173.0 L364.0 173.0 L366.0 173.0 L368.0 173.0 L370.0 173.0 L372.0 173.0 L374.0 173.0 L376.0 173.0 L378.0 173.0 L380.0 173.0 L382.0 173.0 L384.0 173.0 L386.0 173.0 L388.0 173.0 L390.0 173.0 L392.0 173.0 L394.0 173.0 L396.0 173.0 L398.0 173.0 L400.0 173.0 L402.0 173.0 L404.0 173.0 L406.0 173.0 L408.0 173.0 L410.0 173.0 L412.0 173.0 L414.0 173.0 L416.0 173.0 L418.0 173.0 L420.0 173.0 L422.0 173.0 L424.0 173.0 L426.0 173.0 L428.0 173.0 L430.0 173.0 L432.0 173.0 L434.0 173.0 L436.0 173.0 L438.0 173.0 L440.0 173.0 L442.0 173.0 L444.0 173.0 L446.0 173.0 L448.0 173.0 L450.0 173.0 L452.0 173.0 L454.0 173.0 L456.0 173.0 L458.0 173.0 L460.0 173.0 L462.0 173.0 L464.0 173.0 L466.0 173.0 L468.0 173.0 L470.0 173.0 L472.0 173.0 L474.0 173.0 L476.0 173.0 L478.0 173.0 L480.0 173.0 L482.0 173.0 L484.0 173.0 L486.0 173.0 L488.0 173.0 L490.0 173.0 L492.0 173.0 L494.0 173.0 L496.0 173.0 L498.0 173.0 L500.0 173.0 L502.0 173.0 L504.0 172.9 L506.0 172.8 L508.0 172.7 L510.0 172.5 L512.0 172.3 L514.0 172.1 L516.0 171.9 L518.0 171.7 L520.0 171.5 L522.0 171.3 L524.0 171.1 L526.0 170.8 L528.0 170.5 L530.0 170.3 L532.0 170.0 L534.0 169.7 L536.0 169.4 L538.0 169.1 L540.0 168.8 L542.0 168.5 L544.0 168.1 L546.0 167.7 L548.0 167.3 L550.0 167.1 L552.0 167.0 L554.0 167.4 L556.0 168.3 L558.0 169.4 L560.0 171.5 L562.0 173.0 L564.0 173.0 L566.0 173.0 L568.0 173.0 L570.0 173.0 L572.0 173.0 L574.0 173.0 L576.0 173.0 L578.0 173.0 L580.0 173.0 L582.0 173.0 L584.0 173.0 L586.0 173.0 L588.0 173.0 L590.0 173.0 L592.0 173.0 L592.5 173.0 L593.5 173.1 L594.5 173.1 L595.5 173.2 L596.5 173.4 L597.5 173.8 L598.5 174.3 L599.5 174.8 L601.0 176.2 L601.3 175.1 L601.8 174.0 L602.7 173.0 L603.7 171.5 L604.7 170.1 L605.7 168.6 L606.7 167.2 L607.7 165.7 L608.7 164.3 L609.7 162.8 L610.7 161.4 L611.7 159.9 L612.7 158.5 L613.7 157.0 L614.7 155.6 L615.7 154.1 L616.7 152.7 L617.7 151.2 L618.7 149.8 L619.7 148.3 L620.7 146.9 L621.7 145.4 L622.7 144.0 L623.7 142.5 L624.7 141.1 L625.7 139.6 L626.7 138.2 L627.7 136.7 L628.7 135.3 L629.7 133.8 L630.7 132.4 L631.7 130.9 L632.7 129.5 L633.7 128.0 L634.7 126.6 L635.7 125.2 L636.7 123.8 L637.7 122.4 L638.7 121.0 L639.7 119.8 L640.7 118.7 L641.7 117.7 L642.7 116.9 L643.7 116.4 L644.7 115.9 L645.7 115.6 L646.7 115.4 L647.7 115.2 L648.7 115.0 L649.7 114.9 L650.7 114.8 L651.7 114.6 L652.7 114.5 L653.7 114.3 L654.7 114.2 L655.7 114.1 L656.7 114.0 L657.7 113.8 L658.7 113.7 L659.2 113.7 L659.7 113.8 L660.2 113.9 L660.7 114.1 L661.2 114.3 L661.7 114.9 L662.2 116.2 L662.7 117.2 L663.2 117.4 L663.7 117.4 L664.2 117.5 L664.7 117.5 L665.2 117.5 L665.7 117.5 L666.2 117.5 L666.7 117.5 L667.0 117.5 L668.0 116.4 L669.0 115.3 L670.0 114.3 L671.0 113.4 L672.0 112.7 L673.0 112.1 L674.0 111.7 L675.0 111.7 L676.0 111.9 L677.0 112.2 L678.0 112.6 L679.0 113.1 L680.0 113.8 L681.0 114.5 L682.0 115.5 L683.0 116.8 L684.0 118.5 L685.0 120.7 L686.0 123.3 L687.0 126.1 L688.0 129.2 L689.0 132.6 L690.0 136.2 L691.0 140.0 L692.0 144.1 L693.0 148.3 L694.0 152.5 L695.0 156.9 L696.0 161.1 L697.0 165.4 L698.0 169.7 L699.0 174.0 L700.0 178.2 L702.0 186.6 L704.0 194.8 L706.0 202.9 L708.0 210.7 L710.0 218.4 L712.0 225.8 L714.0 233.2 L716.0 240.5 L718.0 247.6 L720.0 254.8 L722.0 261.7 L724.0 268.5 L726.0 275.1 L728.0 281.5 L730.0 287.6 L732.0 293.5 L734.0 299.1 L736.0 304.6 L738.0 309.9 L740.0 315.1 L742.0 320.1 L744.0 324.9 L746.0 329.7 L748.0 334.5 L750.0 339.0 L752.0 343.2 L754.0 347.0 L756.0 350.3 L758.0 353.3 L760.0 356.2 L762.0 359.0 L764.0 361.6 L766.0 363.8 L768.0 365.7 L770.0 367.3 L772.0 368.4 L774.0 369.3 L776.0 369.9 L778.0 370.3 L780.0 370.5 L782.0 370.6 L784.0 370.4 L786.0 370.1 L788.0 369.7 L790.0 369.2 L792.0 368.5 L794.0 367.5 L796.0 366.5 L798.0 365.3 L800.0 363.9 L802.0 362.4 L804.0 360.9 L806.0 359.2 L808.0 357.3 L810.0 355.3 L812.0 353.2 L814.0 351.1 L816.0 349.0 L818.0 346.8 L820.0 344.5 L822.0 342.1 L824.0 339.7 L826.0 337.0 L828.0 334.4 L830.0 331.8 L832.0 329.2 L834.0 326.6 L836.0 324.1 L838.0 321.7 L840.0 319.5 L842.0 317.4 L844.0 315.4 L846.0 313.6 L848.0 312.0 L850.0 310.5 L852.0 309.2 L854.0 308.0 L856.0 307.0 L858.0 306.0 L860.0 305.1 L862.0 304.3 L864.0 303.6 L866.0 303.0 L868.0 302.4 L870.0 301.9 L874.0 300.9 L878.0 300.0 L882.0 299.1 L886.0 298.4 L890.0 297.8 L894.0 297.2 L898.0 296.7 L902.0 296.2 L906.0 295.7 L910.0 295.2 L914.0 294.7 L918.0 294.4 L922.0 294.0 L926.0 293.7 L930.0 293.4 L934.0 293.1 L938.0 292.8 L942.0 292.5 L946.0 292.2 L950.0 291.9 L954.0 291.6 L958.0 291.2 L962.0 290.7 L966.0 290.2 L970.0 289.5 L974.0 288.8 L978.0 287.8 L982.0 286.7 L986.0 285.4 L990.0 284.0 L994.0 282.3 L998.0 280.5 L1002.0 278.7 L1006.0 276.8 L1010.0 274.9 L1014.0 272.8 L1018.0 270.7 L1022.0 268.4 L1026.0 266.0 L1030.0 263.4 L1034.0 260.7 L1038.0 258.0 L1042.0 255.3 L1046.0 252.5 L1050.0 249.9 L1054.0 247.2 L1058.0 244.4 L1062.0 241.5 L1066.0 238.4 L1070.0 235.4 L1074.0 232.5 L1078.0 229.7 L1082.0 227.1 L1086.0 224.8 L1090.0 222.5 L1094.0 220.5 L1098.0 218.5 L1102.0 216.9 L1106.0 215.5 L1110.0 214.4 L1114.0 213.5 L1118.0 213.0 L1122.0 212.7 L1126.0 212.8 L1130.0 213.2 L1134.0 213.7 L1138.0 214.4 L1142.0 215.3 L1146.0 216.4 L1150.0 217.8 L1154.0 219.1 L1158.0 220.5 L1162.0 221.9 L1166.0 223.3 L1170.0 224.7 L1174.0 226.1 L1178.0 227.6 L1182.0 229.0 L1186.0 230.4 L1190.0 231.8 L1194.0 233.2 L1198.0 234.6 L1202.0 236.0 L1206.0 237.4 L1210.0 238.7 L1214.0 240.1 L1218.0 241.4 L1222.0 242.8 L1226.0 244.1 L1230.0 245.5" stroke="#538a8c" stroke-width="4.20"/>
<path d="M148.0 173.0 L150.0 173.0 L152.0 173.0 L154.0 173.0 L156.0 173.0 L158.0 173.0 L160.0 173.0 L162.0 173.0 L164.0 173.0 L166.0 173.0 L168.0 173.0 L170.0 173.0 L172.0 173.0 L174.0 173.0 L176.0 173.0 L178.0 173.0 L180.0 173.0 L182.0 173.0 L184.0 173.0 L186.0 173.0 L188.0 173.0 L190.0 173.0 L192.0 173.0 L194.0 173.0 L196.0 173.0 L198.0 173.0 L200.0 173.0 L202.0 173.0 L204.0 173.0 L206.0 173.0 L208.0 173.0 L210.0 173.0 L212.0 173.0 L214.0 173.0 L216.0 173.0 L218.0 173.0 L220.0 173.0 L222.0 173.0 L224.0 173.0 L226.0 173.0 L228.0 173.0 L230.0 173.0 L232.0 173.0 L234.0 173.0 L236.0 173.0 L238.0 173.0 L240.0 173.0 L242.0 173.0 L244.0 173.0 L246.0 173.0 L248.0 173.0 L250.0 173.0 L252.0 173.0 L254.0 173.0 L256.0 173.0 L258.0 173.0 L260.0 173.0 L262.0 173.0 L264.0 173.0 L266.0 173.0 L268.0 173.0 L270.0 173.0 L272.0 173.0 L274.0 173.0 L276.0 173.0 L278.0 173.0 L280.0 173.0 L282.0 173.0 L284.0 173.0 L286.0 173.0 L288.0 173.0 L290.0 173.0 L292.0 173.0 L294.0 173.0 L296.0 173.0 L298.0 173.0 L300.0 173.0 L302.0 173.0 L304.0 173.0 L306.0 173.0 L308.0 173.0 L310.0 173.0 L312.0 173.0 L314.0 173.0 L316.0 173.0 L318.0 173.0 L320.0 173.0 L322.0 173.0 L324.0 173.0 L326.0 173.0 L328.0 173.0 L330.0 173.0 L332.0 173.0 L334.0 173.0 L336.0 173.0 L338.0 173.0 L340.0 173.0 L342.0 173.0 L344.0 173.0 L346.0 173.0 L348.0 173.0 L350.0 173.0 L352.0 173.0 L354.0 173.0 L356.0 173.0 L358.0 173.0 L360.0 173.0 L362.0 173.0 L364.0 173.0 L366.0 173.0 L368.0 173.0 L370.0 173.0 L372.0 173.0 L374.0 173.0 L376.0 173.0 L378.0 173.0 L380.0 173.0 L382.0 173.0 L384.0 173.0 L386.0 173.0 L388.0 173.0 L390.0 173.0 L392.0 173.0 L394.0 173.0 L396.0 173.0 L398.0 173.0 L400.0 173.0 L402.0 173.0 L404.0 173.0 L406.0 173.0 L408.0 173.0 L410.0 173.0 L412.0 173.0 L414.0 173.0 L416.0 173.0 L418.0 173.0 L420.0 173.0 L422.0 173.0 L424.0 173.0 L426.0 173.0 L428.0 173.0 L430.0 173.0 L432.0 173.0 L434.0 173.0 L436.0 173.0 L438.0 173.0 L440.0 173.0 L442.0 173.0 L444.0 173.0 L446.0 173.0 L448.0 173.0 L450.0 173.0 L452.0 173.0 L454.0 173.0 L456.0 173.0 L458.0 173.0 L460.0 173.0 L462.0 173.0 L464.0 173.0 L466.0 173.0 L468.0 173.0 L470.0 173.0 L472.0 173.0 L474.0 173.0 L476.0 173.0 L478.0 173.0 L480.0 173.0 L482.0 173.0 L484.0 173.0 L486.0 173.0 L488.0 173.0 L490.0 173.0 L492.0 173.0 L494.0 173.0 L496.0 173.0 L498.0 173.0 L500.0 173.0 L502.0 173.0 L504.0 172.9 L506.0 172.7 L508.0 172.5 L510.0 172.3 L512.0 172.0 L514.0 171.7 L516.0 171.4 L518.0 171.2 L520.0 170.9 L522.0 170.6 L524.0 170.3 L526.0 169.9 L528.0 169.5 L530.0 169.1 L532.0 168.7 L534.0 168.3 L536.0 167.9 L538.0 167.5 L540.0 167.1 L542.0 166.6 L544.0 166.0 L546.0 165.5 L548.0 165.0 L550.0 164.6 L552.0 164.5 L554.0 165.0 L556.0 166.3 L558.0 167.9 L560.0 170.9 L562.0 173.0 L564.0 173.0 L566.0 173.0 L568.0 173.0 L570.0 173.0 L572.0 173.0 L574.0 173.0 L576.0 173.0 L578.0 173.0 L580.0 173.0 L582.0 173.0 L584.0 173.0 L586.0 173.0 L588.0 173.0 L590.0 173.0 L592.0 173.0 L592.5 173.0 L593.5 173.1 L594.5 173.1 L595.5 173.2 L596.5 173.4 L598.5 175.0 L598.8 174.3 L599.2 173.6 L600.2 173.0 L601.2 171.6 L602.2 170.2 L603.2 168.8 L604.2 167.4 L605.2 166.1 L606.2 164.7 L607.2 163.3 L608.2 161.9 L609.2 160.5 L610.2 159.1 L611.2 157.7 L612.2 156.3 L613.2 154.9 L614.2 153.6 L615.2 152.2 L616.2 150.8 L617.2 149.4 L618.2 148.0 L619.2 146.6 L620.2 145.2 L621.2 143.8 L622.2 142.4 L623.2 141.1 L624.2 139.7 L625.2 138.3 L626.2 136.9 L627.2 135.5 L628.2 134.1 L629.2 132.8 L630.2 131.4 L631.2 130.1 L632.2 128.8 L633.2 127.5 L634.2 126.4 L635.2 125.3 L636.2 124.4 L637.2 123.8 L638.2 123.2 L639.2 122.8 L640.2 122.5 L641.2 122.3 L642.2 122.1 L643.2 122.0 L644.2 121.8 L645.2 121.7 L646.2 121.5 L647.2 121.4 L648.2 121.3 L649.2 121.1 L650.2 121.0 L651.2 120.9 L652.2 120.8 L653.2 120.6 L654.2 120.5 L655.2 120.4 L656.2 120.2 L657.2 120.1 L658.2 120.0 L659.2 119.8 L659.7 119.9 L660.2 120.0 L660.7 120.2 L661.2 120.4 L661.7 121.0 L662.2 122.5 L662.7 123.9 L663.2 124.3 L663.7 124.3 L664.2 124.3 L664.7 124.3 L665.2 124.2 L665.7 124.2 L666.2 124.2 L666.7 124.1 L667.0 124.1 L668.0 123.0 L669.0 122.0 L670.0 121.1 L671.0 120.3 L672.0 119.7 L673.0 119.3 L674.0 119.1 L675.0 119.2 L676.0 119.3 L677.0 119.6 L678.0 120.1 L679.0 120.6 L680.0 121.3 L681.0 122.1 L682.0 123.1 L683.0 124.4 L684.0 126.1 L685.0 128.3 L686.0 131.1 L687.0 133.9 L688.0 137.0 L689.0 140.5 L690.0 144.1 L691.0 148.0 L692.0 152.0 L693.0 156.2 L694.0 160.5 L695.0 164.8 L696.0 169.1 L697.0 173.4 L698.0 177.7 L699.0 182.0 L700.0 186.3 L702.0 194.7 L704.0 203.0 L706.0 211.1 L708.0 219.0 L710.0 226.6 L712.0 234.1 L714.0 241.4 L716.0 248.6 L718.0 255.8 L720.0 262.9 L722.0 269.9 L724.0 276.7 L726.0 283.3 L728.0 289.7 L730.0 295.8 L732.0 301.6 L734.0 307.3 L736.0 312.8 L738.0 318.1 L740.0 323.2 L742.0 328.2 L744.0 333.0 L746.0 337.8 L748.0 342.5 L750.0 346.9 L752.0 351.1 L754.0 354.8 L756.0 358.0 L758.0 360.7 L760.0 363.5 L762.0 366.2 L764.0 368.7 L766.0 370.9 L768.0 372.7 L770.0 374.2 L772.0 375.4 L774.0 376.3 L776.0 376.8 L778.0 377.2 L780.0 377.4 L782.0 377.5 L784.0 377.3 L786.0 377.0 L788.0 376.6 L790.0 376.1 L792.0 375.4 L794.0 374.4 L796.0 373.4 L798.0 372.2 L800.0 370.8 L802.0 369.3 L804.0 367.8 L806.0 366.1 L808.0 364.2 L810.0 362.2 L812.0 360.2 L814.0 358.1 L816.0 355.9 L818.0 353.7 L820.0 351.4 L822.0 349.0 L824.0 346.6 L826.0 344.0 L828.0 341.4 L830.0 338.8 L832.0 336.3 L834.0 333.8 L836.0 331.3 L838.0 329.0 L840.0 326.9 L842.0 324.8 L844.0 322.9 L846.0 321.1 L848.0 319.5 L850.0 318.1 L852.0 316.7 L854.0 315.6 L856.0 314.6 L858.0 313.6 L860.0 312.7 L862.0 311.9 L864.0 311.2 L866.0 310.6 L868.0 310.0 L870.0 309.5 L874.0 308.5 L878.0 307.5 L882.0 306.7 L886.0 305.9 L890.0 305.3 L894.0 304.7 L898.0 304.2 L902.0 303.7 L906.0 303.2 L910.0 302.7 L914.0 302.3 L918.0 301.9 L922.0 301.6 L926.0 301.3 L930.0 301.0 L934.0 300.7 L938.0 300.4 L942.0 300.1 L946.0 299.8 L950.0 299.5 L954.0 299.2 L958.0 298.8 L962.0 298.3 L966.0 297.8 L970.0 297.2 L974.0 296.5 L978.0 295.6 L982.0 294.5 L986.0 293.3 L990.0 291.9 L994.0 290.2 L998.0 288.5 L1002.0 286.6 L1006.0 284.8 L1010.0 282.9 L1014.0 280.8 L1018.0 278.7 L1022.0 276.4 L1026.0 274.0 L1030.0 271.4 L1034.0 268.8 L1038.0 266.1 L1042.0 263.4 L1046.0 260.7 L1050.0 258.0 L1054.0 255.3 L1058.0 252.5 L1062.0 249.7 L1066.0 246.6 L1070.0 243.6 L1074.0 240.7 L1078.0 238.0 L1082.0 235.5 L1086.0 233.1 L1090.0 230.9 L1094.0 228.9 L1098.0 227.0 L1102.0 225.4 L1106.0 224.0 L1110.0 223.0 L1114.0 222.2 L1118.0 221.8 L1122.0 221.5 L1126.0 221.6 L1130.0 222.0 L1134.0 222.4 L1138.0 223.2 L1142.0 224.0 L1146.0 225.2 L1150.0 226.5 L1154.0 227.8 L1158.0 229.2 L1162.0 230.5 L1166.0 231.9 L1170.0 233.4 L1174.0 234.8 L1178.0 236.2 L1182.0 237.6 L1186.0 239.0 L1190.0 240.4 L1194.0 241.9 L1198.0 243.3 L1202.0 244.7 L1206.0 246.0 L1210.0 247.4 L1214.0 248.7 L1218.0 250.1 L1222.0 251.5 L1226.0 252.8 L1230.0 254.2" stroke="#4e7d8c" stroke-width="4.20"/>
<path d="M148.0 173.0 L150.0 173.0 L152.0 173.0 L154.0 173.0 L156.0 173.0 L158.0 173.0 L160.0 173.0 L162.0 173.0 L164.0 173.0 L166.0 173.0 L168.0 173.0 L170.0 173.0 L172.0 173.0 L174.0 173.0 L176.0 173.0 L178.0 173.0 L180.0 173.0 L182.0 173.0 L184.0 173.0 L186.0 173.0 L188.0 173.0 L190.0 173.0 L192.0 173.0 L194.0 173.0 L196.0 173.0 L198.0 173.0 L200.0 173.0 L202.0 173.0 L204.0 173.0 L206.0 173.0 L208.0 173.0 L210.0 173.0 L212.0 173.0 L214.0 173.0 L216.0 173.0 L218.0 173.0 L220.0 173.0 L222.0 173.0 L224.0 173.0 L226.0 173.0 L228.0 173.0 L230.0 173.0 L232.0 173.0 L234.0 173.0 L236.0 173.0 L238.0 173.0 L240.0 173.0 L242.0 173.0 L244.0 173.0 L246.0 173.0 L248.0 173.0 L250.0 173.0 L252.0 173.0 L254.0 173.0 L256.0 173.0 L258.0 173.0 L260.0 173.0 L262.0 173.0 L264.0 173.0 L266.0 173.0 L268.0 173.0 L270.0 173.0 L272.0 173.0 L274.0 173.0 L276.0 173.0 L278.0 173.0 L280.0 173.0 L282.0 173.0 L284.0 173.0 L286.0 173.0 L288.0 173.0 L290.0 173.0 L292.0 173.0 L294.0 173.0 L296.0 173.0 L298.0 173.0 L300.0 173.0 L302.0 173.0 L304.0 173.0 L306.0 173.0 L308.0 173.0 L310.0 173.0 L312.0 173.0 L314.0 173.0 L316.0 173.0 L318.0 173.0 L320.0 173.0 L322.0 173.0 L324.0 173.0 L326.0 173.0 L328.0 173.0 L330.0 173.0 L332.0 173.0 L334.0 173.0 L336.0 173.0 L338.0 173.0 L340.0 173.0 L342.0 173.0 L344.0 173.0 L346.0 173.0 L348.0 173.0 L350.0 173.0 L352.0 173.0 L354.0 173.0 L356.0 173.0 L358.0 173.0 L360.0 173.0 L362.0 173.0 L364.0 173.0 L366.0 173.0 L368.0 173.0 L370.0 173.0 L372.0 173.0 L374.0 173.0 L376.0 173.0 L378.0 173.0 L380.0 173.0 L382.0 173.0 L384.0 173.0 L386.0 173.0 L388.0 173.0 L390.0 173.0 L392.0 173.0 L394.0 173.0 L396.0 173.0 L398.0 173.0 L400.0 173.0 L402.0 173.0 L404.0 173.0 L406.0 173.0 L408.0 173.0 L410.0 173.0 L412.0 173.0 L414.0 173.0 L416.0 173.0 L418.0 173.0 L420.0 173.0 L422.0 173.0 L424.0 173.0 L426.0 173.0 L428.0 173.0 L430.0 173.0 L432.0 173.0 L434.0 173.0 L436.0 173.0 L438.0 173.0 L440.0 173.0 L442.0 173.0 L444.0 173.0 L446.0 173.0 L448.0 173.0 L450.0 173.0 L452.0 173.0 L454.0 173.0 L456.0 173.0 L458.0 173.0 L460.0 173.0 L462.0 173.0 L464.0 173.0 L466.0 173.0 L468.0 173.0 L470.0 173.0 L472.0 173.0 L474.0 173.0 L476.0 173.0 L478.0 173.0 L480.0 173.0 L482.0 173.0 L484.0 173.0 L486.0 173.0 L488.0 173.0 L490.0 173.0 L492.0 173.0 L494.0 173.0 L496.0 173.0 L498.0 173.0 L500.0 173.0 L502.0 173.0 L504.0 172.8 L506.0 172.6 L508.0 172.3 L510.0 172.0 L512.0 171.6 L514.0 171.2 L516.0 170.8 L518.0 170.4 L520.0 170.0 L522.0 169.6 L524.0 169.1 L526.0 168.6 L528.0 168.1 L530.0 167.5 L532.0 167.0 L534.0 166.4 L536.0 165.8 L538.0 165.2 L540.0 164.6 L542.0 163.9 L544.0 163.2 L546.0 162.4 L548.0 161.7 L550.0 161.2 L552.0 161.0 L554.0 161.7 L556.0 163.5 L558.0 165.8 L560.0 170.0 L562.0 173.0 L564.0 173.0 L566.0 173.0 L568.0 173.0 L570.0 173.0 L572.0 173.0 L574.0 173.0 L576.0 173.0 L578.0 173.0 L580.0 173.0 L582.0 173.0 L584.0 173.0 L586.0 173.0 L588.0 173.0 L590.0 173.0 L592.0 173.0 L592.5 173.0 L593.5 173.1 L594.5 173.1 L596.0 174.0 L596.3 173.7 L596.7 173.3 L597.6 173.0 L598.6 171.7 L599.6 170.3 L600.6 169.0 L601.6 167.7 L602.6 166.3 L603.6 165.0 L604.6 163.7 L605.6 162.3 L606.6 161.0 L607.6 159.7 L608.6 158.3 L609.6 157.0 L610.6 155.7 L611.6 154.3 L612.6 153.0 L613.6 151.7 L614.6 150.4 L615.6 149.0 L616.6 147.7 L617.6 146.4 L618.6 145.0 L619.6 143.7 L620.6 142.4 L621.6 141.1 L622.6 139.7 L623.6 138.4 L624.6 137.2 L625.6 135.9 L626.6 134.8 L627.6 133.7 L628.6 132.7 L629.6 131.9 L630.6 131.3 L631.6 130.8 L632.6 130.4 L633.6 130.1 L634.6 129.9 L635.6 129.7 L636.6 129.5 L637.6 129.4 L638.6 129.2 L639.6 129.1 L640.6 129.0 L641.6 128.8 L642.6 128.7 L643.6 128.6 L644.6 128.4 L645.6 128.3 L646.6 128.2 L647.6 128.1 L648.6 127.9 L649.6 127.8 L650.6 127.7 L651.6 127.5 L652.6 127.4 L653.6 127.3 L654.6 127.1 L655.6 127.0 L656.6 126.9 L657.6 126.7 L658.6 126.6 L659.6 126.5 L660.1 126.5 L660.6 126.7 L661.1 127.0 L661.6 127.5 L662.1 129.2 L662.6 131.0 L663.1 131.7 L663.6 131.7 L664.1 131.6 L664.6 131.6 L665.1 131.5 L665.6 131.3 L666.1 131.2 L666.6 131.0 L667.0 130.8 L668.0 129.9 L669.0 129.0 L670.0 128.1 L671.0 127.5 L672.0 126.9 L673.0 126.6 L674.0 126.6 L675.0 126.7 L676.0 126.9 L677.0 127.2 L678.0 127.7 L679.0 128.2 L680.0 128.9 L681.0 129.7 L682.0 130.7 L683.0 132.0 L684.0 133.7 L685.0 136.0 L686.0 138.8 L687.0 141.7 L688.0 144.9 L689.0 148.4 L690.0 152.0 L691.0 155.9 L692.0 160.0 L693.0 164.2 L694.0 168.5 L695.0 172.8 L696.0 177.1 L697.0 181.4 L698.0 185.7 L699.0 190.0 L700.0 194.3 L702.0 202.8 L704.0 211.2 L706.0 219.4 L708.0 227.2 L710.0 234.9 L712.0 242.3 L714.0 249.7 L716.0 256.9 L718.0 264.0 L720.0 271.1 L722.0 278.1 L724.0 284.9 L726.0 291.5 L728.0 298.0 L730.0 304.1 L732.0 310.0 L734.0 315.7 L736.0 321.2 L738.0 326.5 L740.0 331.7 L742.0 336.6 L744.0 341.4 L746.0 346.2 L748.0 350.9 L750.0 355.3 L752.0 359.4 L754.0 363.0 L756.0 366.1 L758.0 368.7 L760.0 371.3 L762.0 373.9 L764.0 376.3 L766.0 378.5 L768.0 380.3 L770.0 381.7 L772.0 382.8 L774.0 383.7 L776.0 384.3 L778.0 384.7 L780.0 384.9 L782.0 384.9 L784.0 384.8 L786.0 384.5 L788.0 384.1 L790.0 383.6 L792.0 382.8 L794.0 381.8 L796.0 380.7 L798.0 379.5 L800.0 378.0 L802.0 376.5 L804.0 374.8 L806.0 373.1 L808.0 371.2 L810.0 369.1 L812.0 367.0 L814.0 364.8 L816.0 362.5 L818.0 360.2 L820.0 357.8 L822.0 355.3 L824.0 352.8 L826.0 350.2 L828.0 347.5 L830.0 344.9 L832.0 342.3 L834.0 339.8 L836.0 337.3 L838.0 335.0 L840.0 332.8 L842.0 330.7 L844.0 328.7 L846.0 326.9 L848.0 325.2 L850.0 323.7 L852.0 322.4 L854.0 321.2 L856.0 320.1 L858.0 319.1 L860.0 318.2 L862.0 317.3 L864.0 316.6 L866.0 316.0 L868.0 315.3 L870.0 314.8 L874.0 313.7 L878.0 312.7 L882.0 311.8 L886.0 311.0 L890.0 310.3 L894.0 309.6 L898.0 309.1 L902.0 308.5 L906.0 308.0 L910.0 307.5 L914.0 307.0 L918.0 306.6 L922.0 306.2 L926.0 305.9 L930.0 305.5 L934.0 305.2 L938.0 304.8 L942.0 304.5 L946.0 304.2 L950.0 303.8 L954.0 303.5 L958.0 303.1 L962.0 302.6 L966.0 302.1 L970.0 301.4 L974.0 300.7 L978.0 299.8 L982.0 298.7 L986.0 297.4 L990.0 296.0 L994.0 294.4 L998.0 292.6 L1002.0 290.7 L1006.0 288.9 L1010.0 286.9 L1014.0 284.8 L1018.0 282.6 L1022.0 280.3 L1026.0 277.9 L1030.0 275.2 L1034.0 272.6 L1038.0 269.9 L1042.0 267.1 L1046.0 264.4 L1050.0 261.7 L1054.0 258.9 L1058.0 256.1 L1062.0 253.2 L1066.0 250.1 L1070.0 247.1 L1074.0 244.2 L1078.0 241.4 L1082.0 238.8 L1086.0 236.5 L1090.0 234.3 L1094.0 232.2 L1098.0 230.3 L1102.0 228.6 L1106.0 227.2 L1110.0 226.1 L1114.0 225.3 L1118.0 224.8 L1122.0 224.5 L1126.0 224.6 L1130.0 225.0 L1134.0 225.4 L1138.0 226.2 L1142.0 227.0 L1146.0 228.2 L1150.0 229.5 L1154.0 230.8 L1158.0 232.1 L1162.0 233.5 L1166.0 234.9 L1170.0 236.3 L1174.0 237.7 L1178.0 239.1 L1182.0 240.6 L1186.0 242.0 L1190.0 243.4 L1194.0 244.8 L1198.0 246.2 L1202.0 247.6 L1206.0 249.0 L1210.0 250.3 L1214.0 251.7 L1218.0 253.1 L1222.0 254.4 L1226.0 255.8 L1230.0 257.2" stroke="#496f8c" stroke-width="4.20"/>
<path d="M148.0 173.0 L149.0 173.0 L150.0 173.0 L151.0 173.0 L152.0 173.0 L153.0 173.0 L154.0 173.0 L155.0 173.0 L156.0 173.0 L157.0 173.0 L158.0 173.0 L159.0 173.0 L160.0 173.0 L161.0 173.0 L162.0 173.0 L163.0 173.0 L164.0 173.0 L165.0 173.0 L166.0 173.0 L167.0 173.0 L168.0 173.0 L169.0 173.0 L170.0 173.0 L171.0 173.0 L172.0 173.0 L173.0 173.0 L174.0 173.0 L175.0 173.0 L176.0 173.0 L177.0 173.0 L178.0 173.0 L179.0 173.0 L180.0 173.0 L181.0 173.0 L182.0 173.0 L183.0 173.0 L184.0 173.0 L185.0 173.0 L186.0 173.0 L187.0 173.0 L188.0 173.0 L189.0 173.0 L190.0 173.0 L191.0 173.0 L192.0 173.0 L193.0 173.0 L194.0 173.0 L195.0 173.0 L196.0 173.0 L197.0 173.0 L198.0 173.0 L199.0 173.0 L200.0 173.0 L201.0 173.0 L202.0 173.0 L203.0 173.0 L204.0 173.0 L205.0 173.0 L206.0 173.0 L207.0 173.0 L208.0 173.0 L209.0 173.0 L210.0 173.0 L211.0 173.0 L212.0 173.0 L213.0 173.0 L214.0 173.0 L215.0 173.0 L216.0 173.0 L217.0 173.0 L218.0 173.0 L219.0 173.0 L220.0 173.0 L221.0 173.0 L222.0 173.0 L223.0 173.0 L224.0 173.0 L225.0 173.0 L226.0 173.0 L227.0 173.0 L228.0 173.0 L229.0 173.0 L230.0 173.0 L231.0 173.0 L232.0 173.0 L233.0 173.0 L234.0 173.0 L235.0 173.0 L236.0 173.0 L237.0 173.0 L238.0 173.0 L239.0 173.0 L240.0 173.0 L241.0 173.0 L242.0 173.0 L243.0 173.0 L244.0 173.0 L245.0 173.0 L246.0 173.0 L247.0 173.0 L248.0 173.0 L249.0 173.0 L250.0 173.0 L251.0 173.0 L252.0 173.0 L253.0 173.0 L254.0 173.0 L255.0 173.0 L256.0 173.0 L257.0 173.0 L258.0 173.0 L259.0 173.0 L260.0 173.0 L261.0 173.0 L262.0 173.0 L263.0 173.0 L264.0 173.0 L265.0 173.0 L266.0 173.0 L267.0 173.0 L268.0 173.0 L269.0 173.0 L270.0 173.0 L271.0 173.0 L272.0 173.0 L273.0 173.0 L274.0 173.0 L275.0 173.0 L276.0 173.0 L277.0 173.0 L278.0 173.0 L279.0 173.0 L280.0 173.0 L281.0 173.0 L282.0 173.0 L283.0 173.0 L284.0 173.0 L285.0 173.0 L286.0 173.0 L287.0 173.0 L288.0 173.0 L289.0 173.0 L290.0 173.0 L291.0 173.0 L292.0 173.0 L293.0 173.0 L294.0 173.0 L295.0 173.0 L296.0 173.0 L297.0 173.0 L298.0 173.0 L299.0 173.0 L300.0 173.0 L301.0 173.0 L302.0 173.0 L303.0 173.0 L304.0 173.0 L305.0 173.0 L306.0 173.0 L307.0 173.0 L308.0 173.0 L309.0 173.0 L310.0 173.0 L311.0 173.0 L312.0 173.0 L313.0 173.0 L314.0 173.0 L315.0 173.0 L316.0 173.0 L317.0 173.0 L318.0 173.0 L319.0 173.0 L320.0 173.0 L321.0 173.0 L322.0 173.0 L323.0 173.0 L324.0 173.0 L325.0 173.0 L326.0 173.0 L327.0 173.0 L328.0 173.0 L329.0 173.0 L330.0 173.0 L331.0 173.0 L332.0 173.0 L333.0 173.0 L334.0 173.0 L335.0 173.0 L336.0 173.0 L337.0 173.0 L338.0 173.0 L339.0 173.0 L340.0 173.0 L341.0 173.0 L342.0 173.0 L343.0 173.0 L344.0 173.0 L345.0 173.0 L346.0 173.0 L347.0 173.0 L348.0 173.0 L349.0 173.0 L350.0 173.0 L351.0 173.0 L352.0 173.0 L353.0 173.0 L354.0 173.0 L355.0 173.0 L356.0 173.0 L357.0 173.0 L358.0 173.0 L359.0 173.0 L360.0 173.0 L361.0 173.0 L362.0 173.0 L363.0 173.0 L364.0 173.0 L365.0 173.0 L366.0 173.0 L367.0 173.0 L368.0 173.0 L369.0 173.0 L370.0 173.0 L371.0 173.0 L372.0 173.0 L373.0 173.0 L374.0 173.0 L375.0 173.0 L376.0 173.0 L377.0 173.0 L378.0 173.0 L379.0 173.0 L380.0 173.0 L381.0 173.0 L382.0 173.0 L383.0 173.0 L384.0 173.0 L385.0 173.0 L386.0 173.0 L387.0 173.0 L388.0 173.0 L389.0 173.0 L390.0 173.0 L391.0 173.0 L392.0 173.0 L393.0 173.0 L394.0 173.0 L395.0 173.0 L396.0 173.0 L397.0 173.0 L398.0 173.0 L399.0 173.0 L400.0 173.0 L401.0 173.0 L402.0 173.0 L403.0 173.0 L404.0 173.0 L405.0 173.0 L406.0 173.0 L407.0 173.0 L408.0 173.0 L409.0 173.0 L410.0 173.0 L411.0 173.0 L412.0 173.0 L413.0 173.0 L414.0 173.0 L415.0 173.0 L416.0 173.0 L417.0 173.0 L418.0 173.0 L419.0 173.0 L420.0 173.0 L421.0 173.0 L422.0 173.0 L423.0 173.0 L424.0 173.0 L425.0 173.0 L426.0 173.0 L427.0 173.0 L428.0 173.0 L429.0 173.0 L430.0 173.0 L431.0 173.0 L432.0 173.0 L433.0 173.0 L434.0 173.0 L435.0 173.0 L436.0 173.0 L437.0 173.0 L438.0 173.0 L439.0 173.0 L440.0 173.0 L441.0 173.0 L442.0 173.0 L443.0 173.0 L444.0 173.0 L445.0 173.0 L446.0 173.0 L447.0 173.0 L448.0 173.0 L449.0 173.0 L450.0 173.0 L451.0 173.0 L452.0 173.0 L453.0 173.0 L454.0 173.0 L455.0 173.0 L456.0 173.0 L457.0 173.0 L458.0 173.0 L459.0 173.0 L460.0 173.0 L461.0 173.0 L462.0 173.0 L463.0 173.0 L464.0 173.0 L465.0 173.0 L466.0 173.0 L467.0 173.0 L468.0 173.0 L469.0 173.0 L470.0 173.0 L471.0 172.9 L472.0 172.8 L473.0 172.5 L474.0 172.2 L475.0 171.9 L476.0 171.6 L477.0 171.3 L478.0 171.0 L479.0 170.7 L480.0 170.6 L481.0 170.5 L482.0 170.5 L483.0 170.5 L484.0 170.6 L485.0 170.6 L486.0 170.7 L487.0 170.8 L488.0 170.9 L489.0 171.0 L490.0 171.1 L491.0 171.3 L492.0 171.4 L493.0 171.5 L494.0 171.6 L495.0 171.8 L496.0 172.0 L497.0 172.2 L498.0 172.4 L499.0 172.7 L500.0 173.0 L501.0 173.6 L502.0 174.7 L503.0 175.9 L504.0 177.1 L505.0 177.8 L505.7 178.0 L506.0 178.0 L507.0 177.6 L508.0 176.8 L509.0 175.9 L510.0 175.1 L511.0 174.5 L512.0 174.2 L513.0 173.9 L514.0 173.7 L515.0 173.5 L516.0 173.3 L517.0 173.1 L518.0 173.0 L519.0 172.7 L520.0 172.5 L521.0 172.2 L522.0 171.9 L523.0 171.6 L524.0 171.3 L525.0 170.9 L526.0 170.6 L527.0 170.2 L528.0 169.8 L529.0 169.4 L530.0 169.0 L531.0 168.6 L532.0 168.1 L533.0 167.6 L534.0 167.2 L535.0 166.6 L536.0 166.1 L537.0 165.6 L538.0 165.1 L539.0 164.5 L540.0 164.0 L541.0 163.5 L542.0 162.9 L543.0 162.3 L544.0 161.7 L545.0 161.2 L546.0 160.6 L547.0 160.0 L548.0 159.5 L549.0 158.9 L550.0 158.2 L551.0 157.6 L552.0 157.2 L553.0 157.0 L554.0 157.0 L555.0 157.2 L556.0 157.4 L556.5 157.5 L557.0 157.8 L558.0 159.4 L559.0 162.0 L560.0 167.9 L561.0 177.8 L561.2 180.0 L562.0 192.7 L563.0 210.0 L564.0 223.7 L564.6 227.4 L565.0 225.5 L566.0 212.5 L566.2 210.0 L567.0 199.3 L568.0 188.0 L569.0 182.2 L570.0 179.0 L571.0 177.6 L572.0 176.7 L573.0 176.0 L574.0 175.5 L575.0 175.1 L576.0 174.8 L577.0 174.6 L578.0 174.4 L579.0 174.2 L580.0 174.0 L581.0 173.8 L582.0 173.7 L583.0 173.6 L584.0 173.5 L585.0 173.4 L586.0 173.3 L587.0 173.1 L588.0 173.0 L589.0 172.8 L590.0 172.7 L591.0 172.5 L592.0 172.3 L593.0 172.0 L594.0 171.5 L595.0 170.8 L596.0 170.0 L597.0 169.0 L598.0 167.8 L599.0 166.2 L600.0 164.6 L601.0 163.0 L602.0 161.6 L603.0 160.2 L604.0 158.8 L605.0 157.5 L606.0 156.2 L607.0 155.0 L608.0 153.7 L609.0 152.6 L610.0 151.5 L611.0 150.5 L612.0 149.5 L613.0 148.5 L614.0 147.6 L615.0 146.8 L616.0 146.0 L617.0 145.3 L618.0 144.5 L619.0 143.9 L620.0 143.2 L621.0 142.6 L622.0 142.0 L623.0 141.5 L624.0 141.0 L625.0 140.5 L626.0 140.1 L627.0 139.6 L628.0 139.2 L629.0 138.8 L630.0 138.5 L631.0 138.2 L632.0 137.8 L633.0 137.5 L634.0 137.2 L635.0 136.9 L636.0 136.6 L637.0 136.4 L638.0 136.1 L639.0 135.9 L640.0 135.6 L641.0 135.4 L642.0 135.2 L643.0 135.0 L643.3 135.0 L644.0 134.9 L645.0 134.8 L646.0 134.6 L647.0 134.5 L648.0 134.4 L649.0 134.3 L650.0 134.2 L651.0 134.1 L652.0 134.0 L653.0 133.9 L654.0 133.8 L655.0 133.7 L656.0 133.7 L657.0 133.6 L658.0 133.5 L659.0 133.4 L659.5 133.4 L660.0 133.5 L660.5 133.6 L661.0 133.8 L661.5 134.3 L662.0 136.3 L662.5 138.6 L663.0 139.7 L663.5 139.7 L664.0 139.6 L664.5 139.4 L665.0 139.2 L665.5 138.9 L666.0 138.7 L666.5 138.4 L667.0 138.1 L668.0 137.2 L669.0 136.4 L670.0 135.7 L671.0 135.1 L672.0 134.7 L673.0 134.5 L674.0 134.5 L675.0 134.6 L676.0 134.8 L677.0 135.2 L678.0 135.6 L679.0 136.2 L680.0 136.8 L681.0 137.6 L682.0 138.6 L683.0 139.9 L684.0 141.5 L685.0 143.9 L686.0 146.7 L687.0 149.7 L688.0 152.9 L689.0 156.4 L690.0 160.1 L691.0 163.9 L692.0 168.0 L693.0 172.3 L694.0 176.6 L695.0 180.9 L696.0 185.2 L697.0 189.4 L698.0 193.7 L699.0 198.1 L700.0 202.4 L702.0 210.9 L704.0 219.4 L706.0 227.6 L708.0 235.5 L710.0 243.2 L712.0 250.6 L714.0 258.0 L716.0 265.2 L718.0 272.3 L720.0 279.4 L722.0 286.4 L724.0 293.2 L726.0 299.9 L728.0 306.4 L730.0 312.7 L732.0 318.6 L734.0 324.3 L736.0 329.9 L738.0 335.2 L740.0 340.4 L742.0 345.4 L744.0 350.2 L746.0 355.0 L748.0 359.7 L750.0 364.1 L752.0 368.2 L754.0 371.7 L756.0 374.7 L758.0 377.2 L760.0 379.7 L762.0 382.2 L764.0 384.5 L766.0 386.7 L768.0 388.5 L770.0 389.9 L772.0 391.0 L774.0 392.0 L776.0 392.6 L778.0 392.9 L780.0 393.2 L782.0 393.3 L784.0 393.2 L786.0 393.0 L788.0 392.6 L790.0 392.1 L792.0 391.3 L794.0 390.3 L796.0 389.3 L798.0 388.0 L800.0 386.5 L802.0 385.0 L804.0 383.3 L806.0 381.5 L808.0 379.6 L810.0 377.5 L812.0 375.4 L814.0 373.2 L816.0 370.8 L818.0 368.4 L820.0 366.0 L822.0 363.5 L824.0 361.0 L826.0 358.4 L828.0 355.7 L830.0 353.1 L832.0 350.6 L834.0 348.1 L836.0 345.6 L838.0 343.3 L840.0 341.1 L842.0 339.0 L844.0 337.0 L846.0 335.2 L848.0 333.6 L850.0 332.0 L852.0 330.7 L854.0 329.4 L856.0 328.3 L858.0 327.3 L860.0 326.4 L862.0 325.5 L864.0 324.8 L866.0 324.1 L868.0 323.5 L870.0 322.9 L874.0 321.8 L878.0 320.7 L882.0 319.8 L886.0 318.9 L890.0 318.2 L894.0 317.5 L898.0 316.9 L902.0 316.3 L906.0 315.8 L910.0 315.3 L914.0 314.8 L918.0 314.3 L922.0 313.9 L926.0 313.5 L930.0 313.2 L934.0 312.8 L938.0 312.5 L942.0 312.1 L946.0 311.8 L950.0 311.4 L954.0 311.0 L958.0 310.6 L962.0 310.2 L966.0 309.6 L970.0 309.0 L974.0 308.2 L978.0 307.4 L982.0 306.3 L986.0 305.0 L990.0 303.6 L994.0 302.0 L998.0 300.2 L1002.0 298.4 L1006.0 296.5 L1010.0 294.5 L1014.0 292.4 L1018.0 290.2 L1022.0 287.9 L1026.0 285.4 L1030.0 282.8 L1034.0 280.1 L1038.0 277.4 L1042.0 274.7 L1046.0 271.9 L1050.0 269.2 L1054.0 266.4 L1058.0 263.6 L1062.0 260.6 L1066.0 257.5 L1070.0 254.5 L1074.0 251.6 L1078.0 248.8 L1082.0 246.3 L1086.0 243.9 L1090.0 241.7 L1094.0 239.6 L1098.0 237.7 L1102.0 236.1 L1106.0 234.7 L1110.0 233.6 L1114.0 232.8 L1118.0 232.3 L1122.0 232.0 L1126.0 232.1 L1130.0 232.4 L1134.0 232.9 L1138.0 233.6 L1142.0 234.5 L1146.0 235.6 L1150.0 236.9 L1154.0 238.2 L1158.0 239.5 L1162.0 240.9 L1166.0 242.2 L1170.0 243.7 L1174.0 245.1 L1178.0 246.5 L1182.0 247.9 L1186.0 249.3 L1190.0 250.7 L1194.0 252.1 L1198.0 253.6 L1202.0 254.9 L1206.0 256.3 L1210.0 257.7 L1214.0 259.1 L1218.0 260.4 L1222.0 261.8 L1226.0 263.2 L1230.0 264.6" stroke="#46618b" stroke-width="4.20"/>
<path d="M148.0 173.0 L149.0 173.0 L150.0 173.0 L151.0 173.0 L152.0 173.0 L153.0 173.0 L154.0 173.0 L155.0 173.0 L156.0 173.0 L157.0 173.0 L158.0 173.0 L159.0 173.0 L160.0 173.0 L161.0 173.0 L162.0 173.0 L163.0 173.0 L164.0 173.0 L165.0 173.0 L166.0 173.0 L167.0 173.0 L168.0 173.0 L169.0 173.0 L170.0 173.0 L171.0 173.0 L172.0 173.0 L173.0 173.0 L174.0 173.0 L175.0 173.0 L176.0 173.0 L177.0 173.0 L178.0 173.0 L179.0 173.0 L180.0 173.0 L181.0 173.0 L182.0 173.0 L183.0 173.0 L184.0 173.0 L185.0 173.0 L186.0 173.0 L187.0 173.0 L188.0 173.0 L189.0 173.0 L190.0 173.0 L191.0 173.0 L192.0 173.0 L193.0 173.0 L194.0 173.0 L195.0 173.0 L196.0 173.0 L197.0 173.0 L198.0 173.0 L199.0 173.0 L200.0 173.0 L201.0 173.0 L202.0 173.0 L203.0 173.0 L204.0 173.0 L205.0 173.0 L206.0 173.0 L207.0 173.0 L208.0 173.0 L209.0 173.0 L210.0 173.0 L211.0 173.0 L212.0 173.0 L213.0 173.0 L214.0 173.0 L215.0 173.0 L216.0 173.0 L217.0 173.0 L218.0 173.0 L219.0 173.0 L220.0 173.0 L221.0 173.0 L222.0 173.0 L223.0 173.0 L224.0 173.0 L225.0 173.0 L226.0 173.0 L227.0 173.0 L228.0 173.0 L229.0 173.0 L230.0 173.0 L231.0 173.0 L232.0 173.0 L233.0 173.0 L234.0 173.0 L235.0 173.0 L236.0 173.0 L237.0 173.0 L238.0 173.0 L239.0 173.0 L240.0 173.0 L241.0 173.0 L242.0 173.0 L243.0 173.0 L244.0 173.0 L245.0 173.0 L246.0 173.0 L247.0 173.0 L248.0 173.0 L249.0 173.0 L250.0 173.0 L251.0 173.0 L252.0 173.0 L253.0 173.0 L254.0 173.0 L255.0 173.0 L256.0 173.0 L257.0 173.0 L258.0 173.0 L259.0 173.0 L260.0 173.0 L261.0 173.0 L262.0 173.0 L263.0 173.0 L264.0 173.0 L265.0 173.0 L266.0 173.0 L267.0 173.0 L268.0 173.0 L269.0 173.0 L270.0 173.0 L271.0 173.0 L272.0 173.0 L273.0 173.0 L274.0 173.0 L275.0 173.0 L276.0 173.0 L277.0 173.0 L278.0 173.0 L279.0 173.0 L280.0 173.0 L281.0 173.0 L282.0 173.0 L283.0 173.0 L284.0 173.0 L285.0 173.0 L286.0 173.0 L287.0 173.0 L288.0 173.0 L289.0 173.0 L290.0 173.0 L291.0 173.0 L292.0 173.0 L293.0 173.0 L294.0 173.0 L295.0 173.0 L296.0 173.0 L297.0 173.0 L298.0 173.0 L299.0 173.0 L300.0 173.0 L301.0 173.0 L302.0 173.0 L303.0 173.0 L304.0 173.0 L305.0 173.0 L306.0 173.0 L307.0 173.0 L308.0 173.0 L309.0 173.0 L310.0 173.0 L311.0 173.0 L312.0 173.0 L313.0 173.0 L314.0 173.0 L315.0 173.0 L316.0 173.0 L317.0 173.0 L318.0 173.0 L319.0 173.0 L320.0 173.0 L321.0 173.0 L322.0 173.0 L323.0 173.0 L324.0 173.0 L325.0 173.0 L326.0 173.0 L327.0 173.0 L328.0 173.0 L329.0 173.0 L330.0 173.0 L331.0 173.0 L332.0 173.0 L333.0 173.0 L334.0 173.0 L335.0 173.0 L336.0 173.0 L337.0 173.0 L338.0 173.0 L339.0 173.0 L340.0 173.0 L341.0 173.0 L342.0 173.0 L343.0 173.0 L344.0 173.0 L345.0 173.0 L346.0 173.0 L347.0 173.0 L348.0 173.0 L349.0 173.0 L350.0 173.0 L351.0 173.0 L352.0 173.0 L353.0 173.0 L354.0 173.0 L355.0 173.0 L356.0 173.0 L357.0 173.0 L358.0 173.0 L359.0 173.0 L360.0 173.0 L361.0 173.0 L362.0 173.0 L363.0 173.0 L364.0 173.0 L365.0 173.0 L366.0 173.0 L367.0 173.0 L368.0 173.0 L369.0 173.0 L370.0 173.0 L371.0 173.0 L372.0 173.0 L373.0 173.0 L374.0 173.0 L375.0 173.0 L376.0 173.0 L377.0 173.0 L378.0 173.0 L379.0 173.0 L380.0 173.0 L381.0 173.0 L382.0 173.0 L383.0 173.0 L384.0 173.0 L385.0 173.0 L386.0 173.0 L387.0 173.0 L388.0 173.0 L389.0 173.0 L390.0 173.0 L391.0 173.0 L392.0 173.0 L393.0 173.0 L394.0 173.0 L395.0 173.0 L396.0 173.0 L397.0 173.0 L398.0 173.0 L399.0 173.0 L400.0 173.0 L401.0 173.0 L402.0 173.0 L403.0 173.0 L404.0 173.0 L405.0 173.0 L406.0 173.0 L407.0 173.0 L408.0 173.0 L409.0 173.0 L410.0 173.0 L411.0 173.0 L412.0 173.0 L413.0 173.0 L414.0 173.0 L415.0 173.0 L416.0 173.0 L417.0 173.0 L418.0 173.0 L419.0 173.0 L420.0 173.0 L421.0 173.0 L422.0 173.0 L423.0 173.0 L424.0 173.0 L425.0 173.0 L426.0 173.0 L427.0 173.0 L428.0 173.0 L429.0 173.0 L430.0 173.0 L431.0 173.0 L432.0 173.0 L433.0 173.0 L434.0 173.0 L435.0 173.0 L436.0 173.0 L437.0 173.0 L438.0 173.0 L439.0 173.0 L440.0 173.0 L441.0 173.0 L442.0 173.0 L443.0 173.0 L444.0 173.0 L445.0 173.0 L446.0 173.0 L447.0 173.0 L448.0 173.0 L449.0 173.0 L450.0 173.0 L451.0 173.0 L452.0 173.0 L453.0 173.0 L454.0 173.0 L455.0 173.0 L456.0 173.0 L457.0 173.0 L458.0 173.0 L459.0 173.0 L460.0 173.0 L461.0 173.0 L462.0 172.9 L463.0 172.7 L464.0 172.5 L465.0 172.3 L466.0 172.1 L467.0 171.8 L468.0 171.5 L469.0 171.3 L470.0 171.0 L471.0 170.7 L472.0 170.5 L473.0 170.3 L474.0 170.0 L475.0 169.7 L476.0 169.4 L477.0 169.1 L478.0 168.9 L479.0 168.7 L480.0 168.5 L481.0 168.5 L482.0 168.5 L483.0 168.6 L484.0 168.6 L485.0 168.7 L486.0 168.8 L487.0 168.9 L488.0 169.1 L489.0 169.2 L490.0 169.3 L491.0 169.5 L492.0 169.7 L493.0 169.9 L494.0 170.1 L495.0 170.4 L496.0 170.7 L497.0 171.1 L498.0 171.5 L499.0 172.1 L500.0 172.9 L501.0 174.0 L502.0 175.3 L502.5 176.0 L503.0 177.0 L504.0 180.2 L505.0 183.2 L505.7 184.0 L506.0 183.9 L507.0 182.3 L508.0 180.0 L509.0 178.5 L510.0 177.9 L511.0 177.5 L512.0 177.2 L513.0 176.9 L514.0 176.7 L515.0 176.4 L516.0 176.0 L517.0 175.6 L518.0 175.1 L519.0 174.6 L520.0 174.1 L521.0 173.5 L522.0 173.0 L523.0 172.4 L524.0 171.9 L525.0 171.3 L526.0 170.7 L527.0 170.0 L528.0 169.4 L529.0 168.7 L530.0 168.0 L531.0 167.3 L532.0 166.5 L533.0 165.7 L534.0 164.9 L535.0 164.1 L536.0 163.2 L537.0 162.4 L538.0 161.5 L539.0 160.6 L540.0 159.7 L541.0 158.7 L542.0 157.8 L543.0 156.8 L544.0 155.8 L545.0 154.9 L546.0 154.0 L547.0 153.1 L548.0 152.2 L549.0 151.3 L550.0 150.5 L551.0 149.7 L552.0 149.0 L553.0 148.3 L554.0 147.7 L555.0 147.1 L556.0 146.8 L557.0 146.6 L558.0 146.5 L559.0 147.0 L560.0 148.2 L560.5 149.0 L561.0 150.2 L562.0 154.6 L563.0 160.0 L564.0 166.1 L565.0 172.8 L565.5 176.0 L566.0 179.5 L567.0 184.5 L568.0 183.5 L569.0 181.7 L569.5 181.0 L570.0 180.5 L571.0 179.4 L572.0 178.5 L573.0 177.7 L574.0 177.0 L575.0 176.5 L576.0 176.0 L577.0 175.6 L578.0 175.2 L579.0 174.9 L580.0 174.5 L581.0 174.1 L582.0 173.8 L583.0 173.4 L584.0 173.1 L585.0 172.8 L586.0 172.5 L587.0 172.3 L588.0 172.2 L589.0 172.0 L590.0 171.8 L591.0 171.6 L592.0 171.3 L593.0 170.9 L594.0 170.5 L595.0 170.0 L596.0 169.2 L597.0 168.1 L598.0 166.9 L599.0 165.6 L600.0 164.5 L601.0 163.5 L602.0 162.6 L603.0 161.7 L604.0 160.9 L605.0 160.1 L605.5 159.8 L606.0 159.5 L607.0 158.9 L608.0 158.3 L609.0 157.8 L610.0 157.3 L611.0 156.8 L612.0 156.4 L613.0 156.0 L614.0 155.6 L615.0 155.3 L616.0 155.0 L617.0 154.7 L618.0 154.5 L619.0 154.2 L620.0 153.9 L620.7 153.7 L621.0 153.6 L622.0 153.3 L623.0 153.0 L624.0 152.7 L625.0 152.4 L626.0 152.1 L627.0 151.9 L628.0 151.6 L629.0 151.4 L630.0 151.1 L631.0 150.9 L632.0 150.7 L633.0 150.5 L634.0 150.3 L635.0 150.1 L636.0 149.9 L637.0 149.7 L638.0 149.5 L639.0 149.4 L640.0 149.2 L641.0 149.0 L642.0 148.9 L643.0 148.7 L644.0 148.6 L645.0 148.5 L646.0 148.3 L647.0 148.2 L648.0 148.0 L649.0 147.9 L650.0 147.8 L651.0 147.8 L652.0 147.8 L653.0 147.8 L654.0 147.9 L655.0 147.9 L656.0 148.0 L656.9 148.0 L657.0 148.0 L658.0 148.1 L659.0 148.2 L659.5 148.3 L660.0 148.4 L660.5 148.5 L661.0 148.7 L661.5 149.3 L662.0 151.8 L662.5 154.8 L663.0 156.3 L663.5 156.2 L664.0 155.8 L664.5 155.3 L665.0 154.7 L665.5 154.1 L666.0 153.5 L666.5 152.9 L667.0 152.4 L668.0 151.8 L669.0 151.2 L670.0 150.6 L671.0 150.3 L672.0 150.0 L673.0 149.8 L674.0 149.7 L675.0 149.6 L676.0 149.6 L677.0 149.8 L678.0 150.0 L679.0 150.3 L680.0 150.8 L681.0 151.3 L682.0 152.1 L683.0 153.1 L684.0 154.5 L685.0 156.8 L686.0 159.5 L687.0 162.2 L688.0 165.3 L689.0 168.6 L690.0 172.1 L691.0 175.8 L692.0 179.7 L693.0 183.8 L694.0 187.9 L695.0 192.1 L696.0 196.2 L697.0 200.4 L698.0 204.6 L699.0 208.9 L700.0 213.2 L702.0 221.8 L704.0 230.3 L706.0 238.6 L708.0 246.6 L710.0 254.4 L712.0 262.0 L714.0 269.4 L716.0 276.8 L718.0 284.0 L720.0 291.3 L722.0 298.5 L724.0 305.6 L726.0 312.6 L728.0 319.4 L730.0 325.9 L732.0 332.1 L734.0 338.2 L736.0 344.0 L738.0 349.7 L740.0 355.2 L742.0 360.4 L744.0 365.5 L746.0 370.5 L748.0 375.4 L750.0 380.1 L752.0 384.3 L754.0 388.0 L756.0 391.0 L758.0 393.4 L760.0 395.8 L762.0 398.3 L764.0 400.7 L766.0 402.9 L768.0 404.9 L770.0 406.3 L772.0 407.6 L774.0 408.6 L776.0 409.4 L778.0 409.9 L780.0 410.3 L782.0 410.5 L784.0 410.5 L786.0 410.3 L788.0 410.0 L790.0 409.5 L792.0 408.9 L794.0 408.0 L796.0 407.0 L798.0 405.8 L800.0 404.4 L802.0 402.8 L804.0 401.2 L806.0 399.5 L808.0 397.6 L810.0 395.7 L812.0 393.6 L814.0 391.5 L816.0 389.2 L818.0 386.8 L820.0 384.3 L822.0 381.9 L824.0 379.4 L826.0 376.9 L828.0 374.4 L830.0 372.0 L832.0 369.6 L834.0 367.3 L836.0 365.1 L838.0 363.0 L840.0 360.9 L842.0 359.0 L844.0 357.1 L846.0 355.3 L848.0 353.7 L850.0 352.2 L852.0 350.9 L854.0 349.6 L856.0 348.5 L858.0 347.5 L860.0 346.6 L862.0 345.8 L864.0 345.0 L866.0 344.3 L868.0 343.6 L870.0 342.9 L874.0 341.7 L878.0 340.6 L882.0 339.5 L886.0 338.6 L890.0 337.7 L894.0 336.9 L898.0 336.3 L902.0 335.6 L906.0 335.1 L910.0 334.5 L914.0 334.0 L918.0 333.5 L922.0 333.0 L926.0 332.6 L930.0 332.2 L934.0 331.8 L938.0 331.4 L942.0 331.0 L946.0 330.6 L950.0 330.2 L954.0 329.8 L958.0 329.4 L962.0 328.9 L966.0 328.3 L970.0 327.7 L974.0 327.0 L978.0 326.2 L982.0 325.2 L986.0 324.0 L990.0 322.6 L994.0 321.0 L998.0 319.3 L1002.0 317.5 L1006.0 315.5 L1010.0 313.5 L1014.0 311.4 L1018.0 309.1 L1022.0 306.7 L1026.0 304.2 L1030.0 301.5 L1034.0 298.9 L1038.0 296.2 L1042.0 293.5 L1046.0 290.7 L1050.0 287.9 L1054.0 285.0 L1058.0 282.1 L1062.0 279.1 L1066.0 276.0 L1070.0 273.0 L1074.0 270.2 L1078.0 267.4 L1082.0 264.8 L1086.0 262.5 L1090.0 260.3 L1094.0 258.2 L1098.0 256.3 L1102.0 254.7 L1106.0 253.3 L1110.0 252.2 L1114.0 251.5 L1118.0 251.0 L1122.0 250.7 L1126.0 250.8 L1130.0 251.1 L1134.0 251.6 L1138.0 252.3 L1142.0 253.1 L1146.0 254.2 L1150.0 255.4 L1154.0 256.6 L1158.0 257.9 L1162.0 259.2 L1166.0 260.6 L1170.0 262.0 L1174.0 263.4 L1178.0 264.9 L1182.0 266.3 L1186.0 267.7 L1190.0 269.1 L1194.0 270.5 L1198.0 271.9 L1202.0 273.3 L1206.0 274.7 L1210.0 276.1 L1214.0 277.5 L1218.0 278.9 L1222.0 280.3 L1226.0 281.7 L1230.0 283.1" stroke="#434283" stroke-width="4.20"/>
<path d="M148.0 173.0 L149.0 173.0 L150.0 173.0 L151.0 173.0 L152.0 173.0 L153.0 173.0 L154.0 173.0 L155.0 173.0 L156.0 173.0 L157.0 173.0 L158.0 173.0 L159.0 173.0 L160.0 173.0 L161.0 173.0 L162.0 173.0 L163.0 173.0 L164.0 173.0 L165.0 173.0 L166.0 173.0 L167.0 173.0 L168.0 173.0 L169.0 173.0 L170.0 173.0 L171.0 173.0 L172.0 173.0 L173.0 173.0 L174.0 173.0 L175.0 173.0 L176.0 173.0 L177.0 173.0 L178.0 173.0 L179.0 173.0 L180.0 173.0 L181.0 173.0 L182.0 173.0 L183.0 173.0 L184.0 173.0 L185.0 173.0 L186.0 173.0 L187.0 173.0 L188.0 173.0 L189.0 173.0 L190.0 173.0 L191.0 173.0 L192.0 173.0 L193.0 173.0 L194.0 173.0 L195.0 173.0 L196.0 173.0 L197.0 173.0 L198.0 173.0 L199.0 173.0 L200.0 173.0 L201.0 173.0 L202.0 173.0 L203.0 173.0 L204.0 173.0 L205.0 173.0 L206.0 173.0 L207.0 173.0 L208.0 173.0 L209.0 173.0 L210.0 173.0 L211.0 173.0 L212.0 173.0 L213.0 173.0 L214.0 173.0 L215.0 173.0 L216.0 173.0 L217.0 173.0 L218.0 173.0 L219.0 173.0 L220.0 173.0 L221.0 173.0 L222.0 173.0 L223.0 173.0 L224.0 173.0 L225.0 173.0 L226.0 173.0 L227.0 173.0 L228.0 173.0 L229.0 173.0 L230.0 173.0 L231.0 173.0 L232.0 173.0 L233.0 173.0 L234.0 173.0 L235.0 173.0 L236.0 173.0 L237.0 173.0 L238.0 173.0 L239.0 173.0 L240.0 173.0 L241.0 173.0 L242.0 173.0 L243.0 173.0 L244.0 173.0 L245.0 173.0 L246.0 173.0 L247.0 173.0 L248.0 173.0 L249.0 173.0 L250.0 173.0 L251.0 173.0 L252.0 173.0 L253.0 173.0 L254.0 173.0 L255.0 173.0 L256.0 173.0 L257.0 173.0 L258.0 173.0 L259.0 173.0 L260.0 173.0 L261.0 173.0 L262.0 173.0 L263.0 173.0 L264.0 173.0 L265.0 173.0 L266.0 173.0 L267.0 173.0 L268.0 173.0 L269.0 173.0 L270.0 173.0 L271.0 173.0 L272.0 173.0 L273.0 173.0 L274.0 173.0 L275.0 173.0 L276.0 173.0 L277.0 173.0 L278.0 173.0 L279.0 173.0 L280.0 173.0 L281.0 173.0 L282.0 173.0 L283.0 173.0 L284.0 173.0 L285.0 173.0 L286.0 173.0 L287.0 173.0 L288.0 173.0 L289.0 173.0 L290.0 173.0 L291.0 173.0 L292.0 173.0 L293.0 173.0 L294.0 173.0 L295.0 173.0 L296.0 173.0 L297.0 173.0 L298.0 173.0 L299.0 173.0 L300.0 173.0 L301.0 173.0 L302.0 173.0 L303.0 173.0 L304.0 173.0 L305.0 173.0 L306.0 173.0 L307.0 173.0 L308.0 173.0 L309.0 173.0 L310.0 173.0 L311.0 173.0 L312.0 173.0 L313.0 173.0 L314.0 173.0 L315.0 173.0 L316.0 173.0 L317.0 173.0 L318.0 173.0 L319.0 173.0 L320.0 173.0 L321.0 173.0 L322.0 173.0 L323.0 173.0 L324.0 173.0 L325.0 173.0 L326.0 173.0 L327.0 173.0 L328.0 173.0 L329.0 173.0 L330.0 173.0 L331.0 173.0 L332.0 173.0 L333.0 173.0 L334.0 173.0 L335.0 173.0 L336.0 173.0 L337.0 173.0 L338.0 173.0 L339.0 173.0 L340.0 173.0 L341.0 173.0 L342.0 173.0 L343.0 173.0 L344.0 173.0 L345.0 173.0 L346.0 173.0 L347.0 173.0 L348.0 173.0 L349.0 173.0 L350.0 173.0 L351.0 173.0 L352.0 173.0 L353.0 173.0 L354.0 173.0 L355.0 173.0 L356.0 173.0 L357.0 173.0 L358.0 173.0 L359.0 173.0 L360.0 173.0 L361.0 173.0 L362.0 173.0 L363.0 173.0 L364.0 173.0 L365.0 173.0 L366.0 173.0 L367.0 173.0 L368.0 173.0 L369.0 173.0 L370.0 173.0 L371.0 173.0 L372.0 173.0 L373.0 173.0 L374.0 173.0 L375.0 173.0 L376.0 173.0 L377.0 173.0 L378.0 173.0 L379.0 173.0 L380.0 173.0 L381.0 173.0 L382.0 173.0 L383.0 173.0 L384.0 173.0 L385.0 173.0 L386.0 173.0 L387.0 173.0 L388.0 173.0 L389.0 173.0 L390.0 173.0 L391.0 173.0 L392.0 173.0 L393.0 173.0 L394.0 173.0 L395.0 173.0 L396.0 173.0 L397.0 173.0 L398.0 173.0 L399.0 173.0 L400.0 173.0 L401.0 173.0 L402.0 173.0 L403.0 173.0 L404.0 173.0 L405.0 173.0 L406.0 173.0 L407.0 173.0 L408.0 173.0 L409.0 173.0 L410.0 173.0 L411.0 173.0 L412.0 173.0 L413.0 173.0 L414.0 173.0 L415.0 173.0 L416.0 173.0 L417.0 173.0 L418.0 173.0 L419.0 173.0 L420.0 173.0 L421.0 173.0 L422.0 173.0 L423.0 173.0 L424.0 173.0 L425.0 173.0 L426.0 173.0 L427.0 173.0 L428.0 173.0 L429.0 173.0 L430.0 173.0 L431.0 173.0 L432.0 173.0 L433.0 173.0 L434.0 173.0 L435.0 173.0 L436.0 173.0 L437.0 173.0 L438.0 173.0 L439.0 173.0 L440.0 173.0 L441.0 173.0 L442.0 173.0 L443.0 173.0 L444.0 173.0 L445.0 173.0 L446.0 173.0 L447.0 173.0 L448.0 173.0 L449.0 173.0 L450.0 173.0 L451.0 173.0 L452.0 173.0 L453.0 173.0 L454.0 173.0 L455.0 173.0 L456.0 173.0 L457.0 172.9 L458.0 172.8 L459.0 172.6 L460.0 172.4 L461.0 172.1 L462.0 171.9 L463.0 171.6 L464.0 171.3 L465.0 171.0 L466.0 170.7 L467.0 170.3 L468.0 170.0 L469.0 169.8 L470.0 169.5 L471.0 169.2 L472.0 168.9 L473.0 168.6 L474.0 168.2 L475.0 167.8 L476.0 167.5 L477.0 167.2 L478.0 166.9 L479.0 166.7 L480.0 166.5 L481.0 166.5 L482.0 166.5 L483.0 166.6 L484.0 166.6 L485.0 166.7 L486.0 166.8 L487.0 166.9 L488.0 167.0 L489.0 167.2 L490.0 167.3 L491.0 167.5 L492.0 167.7 L493.0 167.9 L494.0 168.2 L495.0 168.5 L496.0 168.9 L497.0 169.4 L498.0 170.0 L499.0 171.2 L500.0 173.1 L501.0 175.5 L502.0 178.0 L503.0 181.2 L504.0 184.9 L505.0 187.9 L505.7 188.6 L506.0 188.4 L507.0 186.0 L508.0 182.5 L509.0 180.0 L510.0 178.9 L511.0 177.9 L512.0 177.2 L513.0 177.0 L514.0 177.1 L515.0 177.4 L516.0 177.8 L517.0 178.1 L518.0 178.4 L519.0 178.5 L520.0 178.4 L521.0 178.1 L522.0 177.6 L523.0 177.1 L524.0 176.5 L525.0 176.0 L526.0 175.4 L527.0 174.8 L528.0 174.0 L529.0 173.3 L530.0 172.5 L531.0 171.7 L532.0 171.0 L533.0 170.3 L534.0 169.6 L535.0 168.9 L536.0 168.2 L537.0 167.5 L538.0 166.8 L539.0 166.1 L540.0 165.5 L541.0 164.9 L542.0 164.3 L543.0 163.7 L544.0 163.1 L545.0 162.5 L546.0 162.0 L547.0 161.5 L548.0 161.0 L549.0 160.5 L550.0 160.1 L551.0 159.6 L552.0 159.2 L553.0 158.8 L554.0 158.5 L555.0 158.3 L556.0 158.2 L557.0 158.0 L558.0 158.0 L559.0 158.3 L560.0 159.0 L561.0 160.0 L562.0 162.2 L563.0 165.8 L564.0 170.0 L565.0 176.0 L566.0 182.8 L567.0 186.0 L568.0 185.4 L569.0 184.2 L570.0 183.0 L571.0 182.0 L572.0 181.0 L573.0 180.1 L574.0 179.2 L575.0 178.5 L576.0 177.9 L577.0 177.5 L578.0 177.1 L579.0 176.6 L580.0 176.0 L581.0 175.2 L582.0 174.1 L583.0 173.0 L584.0 172.0 L585.0 171.0 L586.0 170.5 L587.0 174.2 L587.3 176.0 L588.0 184.2 L588.5 188.0 L589.0 186.3 L590.0 180.0 L591.0 176.7 L592.0 174.5 L593.0 173.4 L594.0 172.5 L595.0 171.6 L596.0 170.7 L597.0 169.8 L598.0 169.0 L599.0 168.2 L600.0 167.5 L601.0 166.9 L602.0 166.2 L603.0 165.7 L604.0 165.1 L605.0 164.6 L605.5 164.4 L606.0 164.2 L607.0 163.7 L608.0 163.3 L609.0 162.8 L610.0 162.4 L611.0 162.0 L612.0 161.7 L613.0 161.3 L614.0 161.0 L615.0 160.6 L616.0 160.3 L617.0 160.0 L618.0 159.7 L619.0 159.4 L620.0 159.2 L620.7 159.0 L621.0 158.9 L622.0 158.7 L623.0 158.6 L624.0 158.4 L625.0 158.2 L626.0 158.1 L627.0 157.9 L628.0 157.8 L629.0 157.6 L630.0 157.5 L631.0 157.4 L632.0 157.3 L633.0 157.2 L634.0 157.1 L635.0 157.0 L636.0 156.9 L637.0 156.8 L638.0 156.7 L639.0 156.6 L640.0 156.6 L641.0 156.5 L642.0 156.4 L643.0 156.4 L643.5 156.4 L644.0 156.4 L645.0 156.4 L646.0 156.4 L647.0 156.3 L648.0 156.3 L649.0 156.3 L650.0 156.3 L651.0 156.3 L652.0 156.3 L653.0 156.3 L654.0 156.4 L655.0 156.4 L656.0 156.5 L657.0 156.6 L658.0 156.7 L659.0 156.8 L659.5 156.9 L660.0 157.0 L660.5 157.1 L661.0 157.3 L661.5 157.8 L662.0 159.3 L662.5 161.1 L663.0 162.0 L663.5 161.9 L664.0 161.7 L664.5 161.3 L665.0 160.8 L665.5 160.3 L666.0 159.8 L666.5 159.4 L667.0 159.0 L668.0 158.5 L669.0 158.0 L670.0 157.5 L671.0 157.2 L672.0 157.1 L673.0 157.1 L674.0 157.2 L675.0 157.3 L676.0 157.5 L677.0 157.9 L678.0 158.4 L679.0 158.9 L680.0 159.5 L681.0 160.3 L682.0 161.3 L683.0 162.5 L684.0 164.2 L685.0 166.7 L686.0 169.7 L687.0 172.8 L688.0 176.1 L689.0 179.7 L690.0 183.4 L691.0 187.4 L692.0 191.5 L693.0 195.8 L694.0 200.1 L695.0 204.5 L696.0 208.8 L697.0 213.0 L698.0 217.4 L699.0 221.7 L700.0 226.1 L702.0 234.9 L704.0 243.5 L706.0 251.9 L708.0 259.9 L710.0 267.6 L712.0 275.1 L714.0 282.5 L716.0 289.7 L718.0 296.9 L720.0 304.0 L722.0 311.1 L724.0 318.1 L726.0 325.0 L728.0 331.7 L730.0 338.1 L732.0 344.2 L734.0 350.2 L736.0 355.9 L738.0 361.4 L740.0 366.7 L742.0 371.8 L744.0 376.7 L746.0 381.5 L748.0 386.3 L750.0 390.7 L752.0 394.8 L754.0 398.2 L756.0 400.9 L758.0 403.0 L760.0 405.0 L762.0 407.3 L764.0 409.5 L766.0 411.6 L768.0 413.4 L770.0 414.7 L772.0 415.9 L774.0 416.8 L776.0 417.5 L778.0 417.9 L780.0 418.3 L782.0 418.5 L784.0 418.5 L786.0 418.2 L788.0 417.9 L790.0 417.5 L792.0 416.8 L794.0 416.0 L796.0 415.0 L798.0 413.8 L800.0 412.4 L802.0 410.8 L804.0 409.2 L806.0 407.5 L808.0 405.6 L810.0 403.7 L812.0 401.7 L814.0 399.6 L816.0 397.3 L818.0 394.9 L820.0 392.4 L822.0 390.0 L824.0 387.6 L826.0 385.2 L828.0 382.8 L830.0 380.4 L832.0 378.2 L834.0 376.0 L836.0 373.8 L838.0 371.8 L840.0 369.8 L842.0 367.9 L844.0 366.1 L846.0 364.4 L848.0 362.8 L850.0 361.4 L852.0 360.1 L854.0 358.9 L856.0 357.8 L858.0 356.8 L860.0 355.9 L862.0 355.1 L864.0 354.3 L866.0 353.6 L868.0 352.9 L870.0 352.2 L874.0 351.0 L878.0 349.8 L882.0 348.8 L886.0 347.8 L890.0 346.9 L894.0 346.1 L898.0 345.4 L902.0 344.8 L906.0 344.3 L910.0 343.7 L914.0 343.2 L918.0 342.7 L922.0 342.3 L926.0 341.8 L930.0 341.4 L934.0 341.0 L938.0 340.6 L942.0 340.2 L946.0 339.8 L950.0 339.4 L954.0 339.0 L958.0 338.6 L962.0 338.1 L966.0 337.6 L970.0 337.0 L974.0 336.4 L978.0 335.6 L982.0 334.6 L986.0 333.4 L990.0 332.1 L994.0 330.6 L998.0 328.8 L1002.0 327.0 L1006.0 325.1 L1010.0 323.1 L1014.0 320.9 L1018.0 318.6 L1022.0 316.2 L1026.0 313.7 L1030.0 311.0 L1034.0 308.4 L1038.0 305.7 L1042.0 303.1 L1046.0 300.3 L1050.0 297.4 L1054.0 294.5 L1058.0 291.5 L1062.0 288.5 L1066.0 285.5 L1070.0 282.5 L1074.0 279.6 L1078.0 276.9 L1082.0 274.4 L1086.0 272.0 L1090.0 269.8 L1094.0 267.8 L1098.0 265.9 L1102.0 264.3 L1106.0 262.8 L1110.0 261.8 L1114.0 261.0 L1118.0 260.6 L1122.0 260.3 L1126.0 260.4 L1130.0 260.7 L1134.0 261.2 L1138.0 261.8 L1142.0 262.7 L1146.0 263.7 L1150.0 264.9 L1154.0 266.1 L1158.0 267.4 L1162.0 268.7 L1166.0 270.0 L1170.0 271.4 L1174.0 272.8 L1178.0 274.3 L1182.0 275.7 L1186.0 277.1 L1190.0 278.5 L1194.0 279.9 L1198.0 281.3 L1202.0 282.7 L1206.0 284.1 L1210.0 285.5 L1214.0 286.9 L1218.0 288.3 L1222.0 289.8 L1226.0 291.2 L1230.0 292.6" stroke="#43337a" stroke-width="4.20"/>
<path d="M148.0 173.0 L149.0 173.0 L150.0 173.0 L151.0 173.0 L152.0 173.0 L153.0 173.0 L154.0 173.0 L155.0 173.0 L156.0 173.0 L157.0 173.0 L158.0 173.0 L159.0 173.0 L160.0 173.0 L161.0 173.0 L162.0 173.0 L163.0 173.0 L164.0 173.0 L165.0 173.0 L166.0 173.0 L167.0 173.0 L168.0 173.0 L169.0 173.0 L170.0 173.0 L171.0 173.0 L172.0 173.0 L173.0 173.0 L174.0 173.0 L175.0 173.0 L176.0 173.0 L177.0 173.0 L178.0 173.0 L179.0 173.0 L180.0 173.0 L181.0 173.0 L182.0 173.0 L183.0 173.0 L184.0 173.0 L185.0 173.0 L186.0 173.0 L187.0 173.0 L188.0 173.0 L189.0 173.0 L190.0 173.0 L191.0 173.0 L192.0 173.0 L193.0 173.0 L194.0 173.0 L195.0 173.0 L196.0 173.0 L197.0 173.0 L198.0 173.0 L199.0 173.0 L200.0 173.0 L201.0 173.0 L202.0 173.0 L203.0 173.0 L204.0 173.0 L205.0 173.0 L206.0 173.0 L207.0 173.0 L208.0 173.0 L209.0 173.0 L210.0 173.0 L211.0 173.0 L212.0 173.0 L213.0 173.0 L214.0 173.0 L215.0 173.0 L216.0 173.0 L217.0 173.0 L218.0 173.0 L219.0 173.0 L220.0 173.0 L221.0 173.0 L222.0 173.0 L223.0 173.0 L224.0 173.0 L225.0 173.0 L226.0 173.0 L227.0 173.0 L228.0 173.0 L229.0 173.0 L230.0 173.0 L231.0 173.0 L232.0 173.0 L233.0 173.0 L234.0 173.0 L235.0 173.0 L236.0 173.0 L237.0 173.0 L238.0 173.0 L239.0 173.0 L240.0 173.0 L241.0 173.0 L242.0 173.0 L243.0 173.0 L244.0 173.0 L245.0 173.0 L246.0 173.0 L247.0 173.0 L248.0 173.0 L249.0 173.0 L250.0 173.0 L251.0 173.0 L252.0 173.0 L253.0 173.0 L254.0 173.0 L255.0 173.0 L256.0 173.0 L257.0 173.0 L258.0 173.0 L259.0 173.0 L260.0 173.0 L261.0 173.0 L262.0 173.0 L263.0 173.0 L264.0 173.0 L265.0 173.0 L266.0 173.0 L267.0 173.1 L268.0 173.1 L269.0 173.1 L270.0 173.1 L271.0 173.2 L272.0 173.2 L273.0 173.3 L274.0 173.3 L275.0 173.4 L276.0 173.4 L277.0 173.5 L278.0 173.5 L279.0 173.6 L280.0 173.6 L281.0 173.7 L282.0 173.8 L283.0 173.8 L284.0 173.9 L285.0 174.0 L286.0 174.0 L287.0 174.1 L288.0 174.2 L289.0 174.2 L290.0 174.3 L291.0 174.4 L292.0 174.4 L293.0 174.5 L294.0 174.6 L295.0 174.7 L296.0 174.8 L297.0 174.9 L298.0 175.0 L299.0 175.1 L300.0 175.2 L301.0 175.4 L302.0 175.5 L303.0 175.6 L304.0 175.7 L305.0 175.9 L306.0 176.0 L307.0 176.1 L308.0 176.2 L309.0 176.4 L310.0 176.5 L311.0 176.6 L312.0 176.8 L313.0 177.0 L314.0 177.2 L315.0 177.4 L316.0 177.6 L317.0 177.7 L318.0 177.8 L319.0 177.9 L319.4 177.9 L320.0 177.9 L321.0 177.8 L322.0 177.8 L323.0 177.6 L324.0 177.5 L325.0 177.4 L326.0 177.2 L327.0 177.0 L328.0 176.8 L329.0 176.4 L330.0 176.0 L331.0 175.6 L332.0 175.2 L333.0 174.8 L334.0 174.4 L335.0 174.0 L336.0 173.7 L337.0 173.5 L337.5 173.4 L338.0 173.4 L339.0 173.3 L340.0 173.3 L341.0 173.2 L342.0 173.2 L343.0 173.2 L344.0 173.1 L345.0 173.1 L346.0 173.1 L347.0 173.1 L348.0 173.0 L349.0 173.0 L350.0 173.0 L351.0 173.0 L352.0 173.0 L353.0 172.9 L354.0 172.9 L355.0 172.9 L356.0 172.9 L357.0 172.8 L358.0 172.8 L359.0 172.8 L360.0 172.8 L361.0 172.8 L362.0 172.7 L363.0 172.7 L364.0 172.7 L365.0 172.7 L366.0 172.7 L367.0 172.7 L368.0 172.6 L369.0 172.6 L370.0 172.6 L371.0 172.6 L372.0 172.6 L373.0 172.6 L374.0 172.5 L375.0 172.5 L376.0 172.5 L377.0 172.5 L378.0 172.5 L379.0 172.4 L380.0 172.4 L381.0 172.4 L382.0 172.4 L383.0 172.4 L384.0 172.3 L385.0 172.3 L386.0 172.3 L387.0 172.3 L388.0 172.3 L389.0 172.2 L390.0 172.2 L391.0 172.2 L392.0 172.1 L393.0 172.1 L394.0 172.0 L395.0 172.0 L396.0 172.0 L397.0 171.9 L398.0 171.9 L399.0 171.8 L400.0 171.8 L401.0 171.7 L402.0 171.7 L403.0 171.6 L404.0 171.6 L405.0 171.6 L406.0 171.5 L407.0 171.5 L408.0 171.5 L408.6 171.5 L409.0 171.5 L410.0 171.5 L411.0 171.5 L412.0 171.5 L413.0 171.5 L414.0 171.5 L415.0 171.5 L416.0 171.5 L417.0 171.5 L418.0 171.5 L419.0 171.5 L420.0 171.5 L421.0 171.5 L422.0 171.5 L423.0 171.5 L424.0 171.5 L425.0 171.5 L426.0 171.5 L427.0 171.5 L428.0 171.5 L429.0 171.5 L430.0 171.5 L431.0 171.5 L432.0 171.5 L433.0 171.5 L434.0 171.5 L435.0 171.5 L436.0 171.5 L437.0 171.5 L438.0 171.5 L439.0 171.5 L440.0 171.5 L441.0 171.5 L442.0 171.5 L443.0 171.5 L444.0 171.4 L445.0 171.4 L446.0 171.3 L447.0 171.3 L448.0 171.2 L449.0 171.1 L450.0 171.0 L451.0 170.9 L452.0 170.8 L453.0 170.7 L454.0 170.6 L455.0 170.5 L456.0 170.3 L457.0 170.0 L458.0 169.6 L459.0 169.1 L460.0 168.5 L461.0 168.0 L462.0 167.4 L463.0 166.9 L464.0 166.4 L465.0 166.0 L466.0 165.6 L467.0 165.3 L468.0 164.9 L469.0 164.6 L470.0 164.3 L471.0 164.0 L472.0 163.8 L473.0 163.6 L474.0 163.5 L475.0 163.3 L476.0 163.2 L477.0 163.1 L478.0 162.9 L479.0 162.9 L480.0 162.8 L481.0 162.8 L482.0 162.8 L483.0 162.9 L484.0 162.9 L485.0 163.0 L486.0 163.2 L487.0 163.3 L488.0 163.4 L489.0 163.6 L490.0 163.8 L491.0 164.1 L492.0 164.4 L493.0 164.8 L494.0 165.3 L494.5 165.5 L495.0 165.8 L496.0 166.4 L497.0 167.3 L498.0 168.3 L498.5 169.0 L499.0 169.9 L500.0 172.5 L501.0 176.0 L502.0 181.1 L503.0 187.2 L503.5 190.0 L504.0 192.8 L505.0 198.4 L505.7 200.0 L506.0 199.7 L507.0 195.2 L508.0 190.0 L509.0 186.2 L510.0 183.0 L510.5 182.0 L511.0 181.3 L512.0 180.2 L513.0 179.6 L513.4 179.5 L514.0 179.6 L515.0 180.1 L516.0 180.8 L517.0 181.5 L518.0 182.3 L519.0 183.2 L520.0 183.6 L521.0 183.3 L522.0 182.7 L523.0 181.8 L524.0 181.0 L525.0 180.2 L526.0 179.2 L527.0 178.3 L528.0 177.3 L529.0 176.3 L530.0 175.5 L531.0 174.7 L532.0 174.0 L533.0 173.3 L534.0 172.5 L535.0 171.9 L536.0 171.2 L537.0 170.6 L538.0 170.1 L539.0 169.6 L540.0 169.1 L541.0 168.7 L542.0 168.3 L543.0 168.0 L544.0 167.6 L545.0 167.3 L546.0 167.0 L547.0 166.7 L548.0 166.3 L549.0 166.0 L550.0 165.8 L551.0 165.6 L552.0 165.5 L553.0 165.5 L554.0 165.6 L555.0 165.7 L556.0 165.9 L557.0 166.1 L558.0 166.3 L559.0 166.6 L560.0 167.1 L561.0 167.8 L562.0 168.8 L563.0 170.9 L564.0 174.3 L565.0 178.0 L566.0 182.9 L567.0 188.7 L568.0 193.2 L568.7 194.4 L569.0 194.3 L570.0 192.8 L571.0 190.3 L572.0 188.0 L573.0 186.2 L574.0 184.4 L575.0 182.8 L576.0 181.5 L577.0 180.5 L578.0 179.8 L579.0 179.0 L580.0 178.0 L581.0 176.6 L582.0 174.8 L583.0 173.0 L584.0 170.9 L585.0 169.1 L585.5 168.8 L586.0 170.6 L587.0 180.0 L588.0 197.2 L588.5 201.8 L589.0 200.2 L590.0 191.7 L590.5 188.0 L591.0 185.2 L592.0 180.1 L593.0 176.5 L594.0 174.4 L595.0 173.0 L596.0 172.1 L597.0 171.5 L598.0 170.9 L599.0 170.4 L600.0 170.0 L601.0 169.6 L602.0 169.2 L603.0 168.9 L604.0 168.6 L605.0 168.3 L605.5 168.2 L606.0 168.1 L607.0 167.8 L608.0 167.5 L609.0 167.2 L610.0 167.0 L611.0 166.7 L612.0 166.5 L613.0 166.3 L614.0 166.1 L615.0 165.9 L616.0 165.7 L617.0 165.6 L618.0 165.4 L619.0 165.3 L620.0 165.2 L620.7 165.1 L621.0 165.1 L622.0 165.0 L623.0 164.9 L624.0 164.8 L625.0 164.8 L626.0 164.7 L627.0 164.6 L628.0 164.6 L629.0 164.5 L630.0 164.5 L631.0 164.4 L632.0 164.4 L633.0 164.4 L634.0 164.3 L635.0 164.3 L636.0 164.2 L637.0 164.2 L638.0 164.1 L639.0 164.1 L640.0 164.1 L641.0 164.0 L642.0 164.0 L643.0 164.0 L643.5 164.0 L644.0 164.0 L645.0 164.0 L646.0 164.0 L647.0 164.1 L648.0 164.1 L649.0 164.2 L650.0 164.2 L651.0 164.3 L652.0 164.3 L653.0 164.3 L654.0 164.4 L655.0 164.4 L656.0 164.5 L657.0 164.5 L658.0 164.5 L659.0 164.6 L659.5 164.6 L660.0 164.7 L660.5 164.8 L661.0 165.0 L661.5 165.5 L662.0 167.3 L662.5 169.5 L663.0 170.6 L663.5 170.5 L664.0 170.1 L664.5 169.6 L665.0 169.0 L665.5 168.3 L666.0 167.7 L666.5 167.2 L667.0 166.8 L668.0 166.3 L669.0 165.9 L670.0 165.6 L671.0 165.4 L672.0 165.4 L673.0 165.6 L674.0 165.9 L675.0 166.2 L676.0 166.6 L677.0 167.2 L678.0 167.9 L679.0 168.6 L680.0 169.4 L681.0 170.4 L682.0 171.6 L683.0 173.0 L684.0 174.9 L685.0 177.7 L686.0 181.0 L687.0 184.3 L688.0 187.9 L689.0 191.7 L690.0 195.7 L691.0 199.8 L692.0 204.2 L693.0 208.7 L694.0 213.2 L695.0 217.7 L696.0 222.1 L697.0 226.5 L698.0 231.0 L699.0 235.4 L700.0 239.9 L702.0 248.8 L704.0 257.5 L706.0 265.9 L708.0 274.0 L710.0 281.7 L712.0 289.1 L714.0 296.3 L716.0 303.4 L718.0 310.4 L720.0 317.4 L722.0 324.3 L724.0 331.3 L726.0 338.1 L728.0 344.6 L730.0 350.9 L732.0 356.9 L734.0 362.7 L736.0 368.3 L738.0 373.6 L740.0 378.8 L742.0 383.6 L744.0 388.2 L746.0 392.9 L748.0 397.4 L750.0 401.7 L752.0 405.4 L754.0 408.6 L756.0 410.9 L758.0 412.7 L760.0 414.4 L762.0 416.4 L764.0 418.4 L766.0 420.3 L768.0 421.9 L770.0 423.1 L772.0 424.2 L774.0 425.0 L776.0 425.6 L778.0 426.0 L780.0 426.3 L782.0 426.5 L784.0 426.4 L786.0 426.2 L788.0 425.9 L790.0 425.5 L792.0 424.8 L794.0 424.0 L796.0 423.1 L798.0 421.9 L800.0 420.5 L802.0 419.0 L804.0 417.4 L806.0 415.8 L808.0 414.0 L810.0 412.2 L812.0 410.2 L814.0 408.2 L816.0 406.0 L818.0 403.7 L820.0 401.3 L822.0 399.0 L824.0 396.7 L826.0 394.3 L828.0 392.0 L830.0 389.8 L832.0 387.7 L834.0 385.7 L836.0 383.7 L838.0 381.8 L840.0 380.0 L842.0 378.2 L844.0 376.5 L846.0 374.9 L848.0 373.4 L850.0 372.0 L852.0 370.7 L854.0 369.6 L856.0 368.5 L858.0 367.5 L860.0 366.7 L862.0 365.9 L864.0 365.1 L866.0 364.4 L868.0 363.7 L870.0 363.0 L874.0 361.7 L878.0 360.5 L882.0 359.4 L886.0 358.4 L890.0 357.4 L894.0 356.6 L898.0 355.9 L902.0 355.3 L906.0 354.7 L910.0 354.2 L914.0 353.7 L918.0 353.2 L922.0 352.7 L926.0 352.2 L930.0 351.8 L934.0 351.4 L938.0 351.0 L942.0 350.6 L946.0 350.2 L950.0 349.8 L954.0 349.3 L958.0 348.9 L962.0 348.4 L966.0 347.9 L970.0 347.4 L974.0 346.8 L978.0 346.0 L982.0 345.1 L986.0 343.9 L990.0 342.6 L994.0 341.1 L998.0 339.4 L1002.0 337.6 L1006.0 335.7 L1010.0 333.7 L1014.0 331.5 L1018.0 329.2 L1022.0 326.7 L1026.0 324.2 L1030.0 321.5 L1034.0 318.8 L1038.0 316.2 L1042.0 313.6 L1046.0 310.8 L1050.0 307.9 L1054.0 304.9 L1058.0 301.9 L1062.0 298.9 L1066.0 295.9 L1070.0 292.9 L1074.0 290.0 L1078.0 287.3 L1082.0 284.8 L1086.0 282.4 L1090.0 280.2 L1094.0 278.2 L1098.0 276.3 L1102.0 274.7 L1106.0 273.3 L1110.0 272.3 L1114.0 271.5 L1118.0 271.1 L1122.0 270.8 L1126.0 270.9 L1130.0 271.2 L1134.0 271.6 L1138.0 272.3 L1142.0 273.1 L1146.0 274.1 L1150.0 275.3 L1154.0 276.5 L1158.0 277.7 L1162.0 279.0 L1166.0 280.3 L1170.0 281.7 L1174.0 283.1 L1178.0 284.6 L1182.0 286.0 L1186.0 287.4 L1190.0 288.8 L1194.0 290.2 L1198.0 291.6 L1202.0 293.0 L1206.0 294.4 L1210.0 295.8 L1214.0 297.2 L1218.0 298.7 L1222.0 300.1 L1226.0 301.6 L1230.0 303.0" stroke="#41226c" stroke-width="4.20"/>
<path d="M136.6 173.0 L138.1 173.0 L139.6 173.0 L141.1 173.0 L142.6 173.0 L144.1 173.0 L145.6 173.0 L147.1 173.0 L148.6 173.0 L150.1 173.0 L151.6 173.0 L153.1 173.0 L154.6 173.0 L156.1 173.0 L157.6 173.0 L159.1 173.0 L160.6 173.0 L162.1 173.0 L163.6 173.0 L165.1 173.0 L166.6 173.0 L168.1 173.0 L169.6 173.0 L171.1 173.1 L172.6 173.1 L174.1 173.1 L175.6 173.1 L177.1 173.1 L178.6 173.1 L180.1 173.1 L181.6 173.1 L183.1 173.1 L184.6 173.1 L186.1 173.1 L187.6 173.1 L189.1 173.1 L190.6 173.1 L192.1 173.1 L193.6 173.1 L195.1 173.1 L196.6 173.1 L198.1 173.1 L199.6 173.1 L201.1 173.1 L202.6 173.1 L204.1 173.1 L205.6 173.1 L207.1 173.1 L208.6 173.1 L210.1 173.1 L211.6 173.1 L213.1 173.1 L214.6 173.1 L216.1 173.1 L217.6 173.1 L219.1 173.1 L220.6 173.1 L222.1 173.1 L223.6 173.1 L225.1 173.1 L226.6 173.1 L228.1 173.1 L229.6 173.1 L231.1 173.1 L232.6 173.1 L234.1 173.1 L235.6 173.1 L237.1 173.1 L238.6 173.1 L240.1 173.1 L241.6 173.1 L243.1 173.1 L244.6 173.1 L246.1 173.1 L247.6 173.1 L249.1 173.1 L250.6 173.1 L252.1 173.1 L253.6 173.1 L255.1 173.1 L256.6 173.1 L258.1 173.1 L259.6 173.1 L261.1 173.1 L262.6 173.1 L264.1 173.1 L265.6 173.1 L267.1 173.1 L268.6 173.1 L270.1 173.1 L271.6 173.1 L273.1 173.2 L274.6 173.2 L276.1 173.2 L277.6 173.2 L279.1 173.2 L280.6 173.2 L282.1 173.2 L283.6 173.2 L285.1 173.2 L286.6 173.2 L288.1 173.2 L289.6 173.2 L291.1 173.2 L292.6 173.2 L294.1 173.2 L295.6 173.2 L297.1 173.2 L298.6 173.2 L300.1 173.2 L301.6 173.2 L303.1 173.2 L304.6 173.2 L306.1 173.2 L307.6 173.2 L309.1 173.2 L310.6 173.2 L312.1 173.2 L313.6 173.2 L315.1 173.2 L316.6 173.2 L318.1 173.2 L319.6 173.2 L321.1 173.2 L322.6 173.2 L324.1 173.2 L325.6 173.2 L327.1 173.2 L328.6 173.2 L330.1 173.2 L331.6 173.2 L333.1 173.2 L334.6 173.2 L336.1 173.2 L337.6 173.2 L339.1 173.2 L340.6 173.2 L342.1 173.2 L343.6 173.2 L345.1 173.2 L346.6 173.2 L348.1 173.2 L349.6 173.2 L351.1 173.2 L352.6 173.2 L354.1 173.2 L355.6 173.2 L357.1 173.2 L358.6 173.2 L360.1 173.2 L361.6 173.2 L363.1 173.2 L364.6 173.2 L366.1 173.2 L367.6 173.2 L369.1 173.2 L370.6 173.2 L372.1 173.2 L373.6 173.2 L375.1 173.2 L376.6 173.2 L378.1 173.2 L379.6 173.2 L381.1 173.2 L382.6 173.2 L384.1 173.2 L385.6 173.2 L387.1 173.2 L388.6 173.2 L390.1 173.2 L391.6 173.2 L393.1 173.2 L394.6 173.2 L396.1 173.2 L397.6 173.2 L399.1 173.2 L400.6 173.2 L402.1 173.2 L403.6 173.2 L405.1 173.2 L406.6 173.2 L408.1 173.2 L409.6 173.2 L411.1 173.2 L412.6 173.2 L414.1 173.2 L415.6 173.2 L417.1 173.2 L418.6 173.2 L420.1 173.2 L421.6 173.2 L423.1 173.2 L424.6 173.2 L426.1 173.2 L427.6 173.2 L429.1 173.2 L430.6 173.2 L432.1 173.2 L433.6 173.2 L435.1 173.2 L436.6 173.2 L438.1 173.2 L439.6 173.2 L441.1 173.2 L442.6 173.2 L444.1 173.2 L445.6 173.2 L447.1 173.2 L448.6 173.2 L450.1 173.2 L451.6 173.2 L453.1 173.2 L454.6 173.2 L456.1 173.2 L457.6 173.2 L459.1 173.2 L460.6 173.2 L462.1 173.2 L463.6 173.2 L465.1 173.2 L466.6 173.2 L468.1 173.2 L469.6 173.2 L471.1 173.2 L472.6 173.2 L474.1 173.2 L475.6 173.2 L477.1 173.2 L478.6 173.2 L480.1 173.2 L481.6 173.2 L483.1 173.2 L484.6 173.2 L486.1 173.2 L487.6 173.2 L489.1 173.2 L490.6 173.2 L492.1 173.2 L493.6 173.2 L495.1 173.2 L496.6 173.2 L498.1 173.2 L499.6 173.2 L501.1 173.2 L502.6 173.2 L504.0 173.2 L504.1 173.2 L505.6 172.9 L507.1 172.2 L508.6 171.2 L510.1 170.2 L511.0 169.6 L511.6 169.2 L513.1 168.3 L514.6 167.2 L516.1 166.1 L517.0 165.5 L517.6 165.1 L519.1 164.0 L520.6 162.9 L522.1 161.7 L522.5 161.4 L523.6 160.5 L525.1 159.1 L526.6 157.8 L527.0 157.5 L528.1 156.7 L529.6 155.8 L530.0 155.6 L531.1 154.9 L531.6 154.8 L532.6 155.2 L534.0 156.5 L534.1 156.6 L535.6 158.4 L537.1 160.9 L537.4 161.4 L538.6 164.1 L540.1 168.2 L541.6 172.7 L542.3 174.6 L543.1 176.7 L544.6 180.8 L546.1 184.7 L547.3 187.8 L547.6 188.5 L549.1 192.3 L550.6 196.0 L552.1 199.1 L552.2 199.3 L553.6 202.1 L555.1 204.2 L555.5 204.3 L556.6 203.9 L558.1 202.6 L558.8 201.8 L559.6 200.4 L561.1 196.4 L562.6 192.0 L563.0 191.0 L564.1 188.5 L565.6 185.5 L566.5 184.0 L567.1 183.2 L568.6 181.4 L570.1 179.8 L570.4 179.5 L571.6 178.3 L573.1 176.9 L574.6 175.8 L575.0 175.5 L576.1 174.8 L577.6 173.9 L579.1 173.2 L580.3 173.0 L580.6 173.0 L582.1 172.9 L583.6 172.9 L585.1 172.9 L586.6 172.9 L588.1 172.8 L588.5 172.8 L589.6 172.6 L591.1 172.0 L592.6 171.2 L593.0 171.0 L594.1 170.4 L595.6 169.4 L596.8 168.5 L597.1 168.3 L598.6 167.1 L600.1 165.8 L601.0 165.0 L601.6 164.5 L603.1 163.2 L604.6 162.0 L606.1 160.8 L607.3 160.0 L607.6 159.8 L609.1 158.9 L610.6 158.0 L612.1 157.2 L613.6 156.5 L614.0 156.3 L615.1 155.8 L616.6 155.1 L618.1 154.4 L619.6 153.8 L621.1 153.2 L622.6 152.6 L623.3 152.3 L624.1 152.0 L625.6 151.4 L627.1 150.9 L628.6 150.4 L630.1 149.8 L631.6 149.3 L633.1 148.8 L634.6 148.4 L636.1 147.9 L636.7 147.7 L637.6 147.4 L639.1 146.9 L640.6 146.4 L642.1 145.9 L643.6 145.5 L645.0 145.3 L645.1 145.3 L646.6 145.1 L648.1 145.0 L649.6 144.9 L650.0 144.9 L651.1 145.0 L652.6 145.3 L654.0 145.7 L654.1 145.7 L655.6 146.4 L657.1 147.5 L658.6 148.7 L659.3 149.2 L660.1 149.8 L661.6 151.2 L663.1 152.6 L664.0 153.5 L664.6 154.1 L666.1 155.6 L667.6 157.1 L669.1 158.7 L669.4 159.0 L670.6 160.3 L672.1 162.0 L673.6 163.6 L675.1 165.4 L676.6 167.1 L678.1 168.8 L678.6 169.4 L679.6 170.6 L681.1 172.3 L682.6 174.1 L684.1 175.9 L685.4 177.4 L685.6 177.6 L687.1 179.4 L688.6 181.1 L690.1 182.8 L691.6 184.6 L693.1 186.3 L694.6 188.0 L696.1 189.7 L697.6 191.5 L699.1 193.2 L700.3 194.6 L700.6 194.9 L702.1 196.7 L703.6 198.4 L705.1 200.1 L706.6 201.8 L708.1 203.5 L709.6 205.3 L711.1 207.0 L712.6 208.7 L714.1 210.5 L715.6 212.3 L717.1 214.1 L718.6 215.9 L719.4 216.9 L720.1 217.8 L721.6 219.6 L723.1 221.5 L724.6 223.4 L726.1 225.3 L727.6 227.2 L729.1 229.2 L730.6 231.1 L732.1 233.1 L733.6 235.1 L735.1 237.1 L736.6 239.2 L738.1 241.3 L739.6 243.4 L741.1 245.6 L742.6 247.8 L743.0 248.4 L744.1 250.1 L745.6 252.4 L747.1 254.9 L748.6 257.4 L750.1 259.9 L751.6 262.6 L753.1 265.2 L754.6 267.9 L756.1 270.6 L757.6 273.3 L759.1 276.0 L760.6 278.7 L762.1 281.4 L763.6 284.1 L765.1 286.7 L766.6 289.2 L768.1 291.7 L769.6 294.2 L770.5 295.6 L771.1 296.5 L772.6 298.8 L774.1 301.1 L775.6 303.4 L777.1 305.6 L778.6 307.8 L780.1 309.9 L781.6 312.1 L783.1 314.2 L784.6 316.3 L786.1 318.4 L787.6 320.5 L789.1 322.6 L790.6 324.7 L792.1 326.7 L793.6 328.8 L795.1 330.9 L796.6 333.0 L798.0 335.0 L798.1 335.1 L799.6 337.3 L801.1 339.4 L802.6 341.5 L804.1 343.6 L805.6 345.8 L807.1 347.9 L808.6 350.0 L810.1 352.2 L811.6 354.3 L813.1 356.4 L814.6 358.5 L816.1 360.6 L817.6 362.8 L819.1 364.9 L820.6 367.0 L822.1 369.1 L823.6 371.1 L825.1 373.2 L826.6 375.3 L828.1 377.4 L829.6 379.4 L831.1 381.5 L832.6 383.5 L834.1 385.6 L835.6 387.6 L837.1 389.6 L837.4 390.0 L838.6 391.6 L840.1 393.6 L841.6 395.5 L843.1 397.5 L844.6 399.4 L846.1 401.4 L847.6 403.3 L849.1 405.2 L850.6 407.1 L852.1 409.0 L853.6 410.9 L855.1 412.8 L856.6 414.8 L858.1 416.7 L859.6 418.6 L861.1 420.5 L862.6 422.4 L864.1 424.3 L865.0 425.5 L865.6 426.3 L867.1 428.2 L868.6 430.1 L870.1 432.1 L871.6 434.0 L873.1 436.0 L874.6 437.9 L876.1 439.8 L877.6 441.8 L879.1 443.7 L880.6 445.7 L882.1 447.7 L883.6 449.7 L884.6 451.0 L885.1 451.7 L886.6 453.7 L888.1 455.7 L889.6 457.7 L891.1 459.8 L892.6 461.8 L894.1 463.8 L895.6 465.9 L897.1 468.0 L898.6 470.1 L900.0 472.0" stroke="#b55a5a" stroke-width="4.45" stroke-dasharray="16.4 7.1"/>
<path d="M148.0 173.0 H1222.2" stroke="#000" stroke-opacity="0.5" stroke-width="2.1" stroke-dasharray="7.7 3.35"/>
</g>
<g clip-path="url(#c2)" fill="none" stroke-linejoin="round" stroke-linecap="butt">
<path d="M140.0 488.4 L326.9 488.4 L326.9 676.6 L337.0 677.0 L347.3 676.6 L347.3 488.4 L390.3 488.4 L390.3 676.6 L437.4 676.6 L437.4 488.4 L445.8 488.4 L445.8 676.6 L485.0 676.6 L485.0 488.4 L527.0 488.4 L525.3 488.4 L525.3 676.6 L556.1 676.6 L556.1 488.4 L632.7 488.4 L632.7 676.6 L634.0 659.1 L635.7 643.2 L637.4 630.1 L639.0 619.3 L640.7 610.8 L642.4 604.6 L644.1 600.9 L645.8 599.6 L647.7 599.7 L649.4 600.2 L651.1 601.1 L652.8 602.7 L654.6 605.1 L656.3 608.4 L658.0 612.6 L659.7 617.9 L661.4 624.3 L663.1 632.0 L664.9 641.0 L666.6 651.4 L668.3 663.2 L670.0 676.6 L670.0 676.6 L670.0 488.4 L670.0 488.4 L670.7 491.4 L671.3 494.4 L672.0 497.4 L672.6 500.4 L673.1 503.4 L673.7 506.4 L674.2 509.4 L674.6 512.4 L675.1 515.4 L675.6 518.4 L675.8 520.0 L676.9 526.0 L678.0 532.0 L679.2 538.0 L680.6 544.0 L681.9 550.0 L683.3 556.0 L684.7 562.0 L686.1 568.0 L687.4 574.0 L688.8 580.0 L690.1 586.0 L691.5 592.0 L692.8 598.0 L694.2 604.0 L695.7 610.0 L697.2 616.0 L698.7 622.0 L700.2 628.0 L701.7 634.0 L703.3 640.0 L704.8 646.0 L706.3 652.0 L708.0 658.0 L709.7 664.0 L712.0 670.0 L714.0 673.0 L714.5 673.0 L724.7 667.0 L730.7 661.0 L735.0 655.0 L739.9 649.0 L744.3 643.0 L747.0 637.0 L749.0 631.0 L750.7 625.0 L752.6 619.0 L754.5 613.0 L756.4 607.0 L758.3 601.0 L760.1 595.0 L762.1 589.0 L764.1 583.0 L766.1 577.0 L768.2 571.0 L770.5 565.0 L772.7 559.0 L775.0 553.0 L777.4 547.0 L779.9 541.0 L782.4 535.0 L785.1 529.0 L787.9 523.0 L790.8 517.0 L793.7 511.0 L796.9 505.0 L799.7 500.0 L800.8 498.0 L802.0 496.0 L803.3 494.0 L804.8 492.0 L806.7 490.0 L808.7 488.4 L816.0 488.4 L816.0 676.6 L817.5 676.1 L819.5 674.9 L821.5 673.4 L823.5 672.1 L825.5 670.5 L827.5 668.8 L829.5 667.0 L831.5 665.4 L833.5 664.2 L835.5 663.4 L837.5 662.5 L839.5 661.8 L841.5 661.2 L843.5 660.8 L845.5 660.6 L847.5 660.6 L849.5 660.6 L851.5 660.7 L853.5 660.7 L855.5 660.8 L857.5 660.9 L859.5 661.0 L860.0 661.0 L864.0 661.4 L868.0 662.1 L872.0 662.9 L876.0 663.6 L880.0 664.0 L884.0 664.2 L888.0 664.3 L892.0 664.4 L896.0 664.5 L900.0 664.4 L904.0 663.8 L908.0 663.0 L912.0 662.1 L916.0 661.3 L920.0 660.4 L924.0 659.5 L928.0 658.4 L932.0 657.3 L936.0 656.2 L940.0 654.9 L944.0 653.6 L948.0 652.2 L952.0 650.8 L956.0 649.3 L960.0 647.8 L964.0 646.3 L968.0 644.7 L972.0 643.2 L976.0 641.8 L980.0 640.4 L984.0 639.0 L988.0 637.6 L992.0 636.3 L996.0 635.0 L1000.0 633.7 L1004.0 632.5 L1008.0 631.6 L1012.0 630.8 L1016.0 630.1 L1020.0 629.5 L1024.0 629.1 L1028.0 628.8 L1032.0 628.6 L1036.0 628.5 L1040.0 628.4 L1044.0 628.6 L1048.0 629.0 L1052.0 629.5 L1056.0 630.2 L1060.0 631.1 L1064.0 632.2 L1068.0 633.5 L1072.0 635.2 L1076.0 637.0 L1080.0 639.0 L1084.0 641.3 L1088.0 643.8 L1092.0 646.2 L1096.0 648.8 L1100.0 651.5 L1104.0 654.4 L1108.0 657.4 L1112.0 660.4 L1116.0 663.4 L1120.0 666.4 L1124.0 669.6 L1128.0 672.8 L1132.2 676.6 L1132.8 676.6 L1132.8 488.4 L1138.0 491.0 L1145.5 495.7 L1152.0 499.6 L1159.7 503.7 L1166.0 506.7 L1174.0 510.0 L1188.3 514.8 L1202.5 518.5 L1222.0 522.0 L1232.0 523.6" stroke="#f7e642" stroke-width="4.20"/>
<path d="M140.0 488.4 L326.9 488.4 L326.9 676.6 L337.0 677.0 L347.3 676.6 L347.3 488.4 L390.9 488.4 L390.9 676.6 L435.7 676.6 L435.7 488.4 L446.6 488.4 L446.6 676.6 L485.5 676.6 L485.5 488.4 L527.0 488.4 L525.9 488.4 L525.9 676.6 L555.8 676.6 L555.8 488.4 L628.0 488.4 L628.0 676.6 L629.4 661.6 L631.1 648.0 L632.9 636.8 L634.6 627.5 L636.4 620.2 L638.1 614.9 L639.9 611.7 L641.6 610.6 L643.7 610.7 L645.5 611.1 L647.3 611.9 L649.1 613.3 L650.9 615.3 L652.6 618.1 L654.4 621.7 L656.2 626.3 L658.0 631.8 L659.8 638.4 L661.6 646.1 L663.4 655.0 L665.2 665.1 L667.0 676.6 L667.0 676.6 L667.0 488.4 L667.0 488.4 L667.6 491.4 L668.2 494.4 L668.8 497.4 L669.3 500.4 L669.9 503.4 L670.4 506.4 L670.9 509.4 L671.4 512.4 L671.9 515.4 L672.3 518.4 L672.6 520.0 L673.7 526.0 L674.8 532.0 L676.1 538.0 L677.5 544.0 L679.0 550.0 L680.4 556.0 L681.9 562.0 L683.5 568.0 L684.9 574.0 L686.4 580.0 L687.9 586.0 L689.3 592.0 L690.8 598.0 L692.3 604.0 L693.8 610.0 L695.3 616.0 L696.9 622.0 L698.5 628.0 L700.0 634.0 L701.6 640.0 L703.1 646.0 L704.7 652.0 L706.4 658.0 L708.2 664.0 L710.4 670.0 L712.6 673.5 L714.7 673.4 L724.4 667.4 L730.6 661.4 L734.7 655.4 L739.3 649.4 L743.6 643.4 L746.4 637.4 L748.4 631.4 L750.1 625.4 L752.0 619.4 L753.9 613.4 L755.8 607.4 L757.7 601.4 L759.6 595.4 L761.6 589.4 L763.6 583.4 L765.7 577.4 L767.8 571.4 L770.1 565.4 L772.3 559.4 L774.7 553.4 L777.0 547.4 L779.5 541.4 L782.1 535.4 L784.7 529.4 L787.5 523.4 L790.4 517.4 L793.3 511.4 L796.5 505.4 L799.5 500.0 L800.7 498.0 L801.9 496.0 L803.2 494.0 L804.7 492.0 L806.6 490.0 L808.6 488.4 L811.6 488.4 L811.6 676.6 L813.1 676.2 L815.1 676.1 L817.1 675.7 L819.1 674.5 L821.1 673.0 L823.1 671.5 L825.1 670.0 L827.1 668.3 L829.1 666.6 L831.1 665.0 L833.1 663.7 L835.1 662.8 L837.1 662.0 L839.1 661.3 L841.1 660.7 L843.1 660.2 L845.1 660.0 L847.1 660.0 L849.1 660.0 L851.1 660.0 L853.1 660.1 L855.1 660.2 L857.1 660.2 L859.1 660.3 L860.0 660.3 L864.0 660.7 L868.0 661.4 L872.0 662.2 L876.0 662.8 L880.0 663.2 L884.0 663.4 L888.0 663.6 L892.0 663.8 L896.0 663.9 L900.0 663.7 L904.0 663.2 L908.0 662.5 L912.0 661.6 L916.0 660.8 L920.0 660.0 L924.0 659.1 L928.0 658.1 L932.0 657.0 L936.0 655.9 L940.0 654.6 L944.0 653.3 L948.0 652.0 L952.0 650.6 L956.0 649.2 L960.0 647.7 L964.0 646.1 L968.0 644.6 L972.0 643.1 L976.0 641.7 L980.0 640.3 L984.0 638.9 L988.0 637.6 L992.0 636.3 L996.0 635.0 L1000.0 633.7 L1004.0 632.5 L1008.0 631.6 L1012.0 630.8 L1016.0 630.1 L1020.0 629.5 L1024.0 629.1 L1028.0 628.8 L1032.0 628.6 L1036.0 628.5 L1040.0 628.4 L1044.0 628.6 L1048.0 629.0 L1052.0 629.5 L1056.0 630.2 L1060.0 631.1 L1064.0 632.2 L1068.0 633.5 L1072.0 635.2 L1076.0 637.0 L1080.0 639.0 L1084.0 641.3 L1088.0 643.8 L1092.0 646.2 L1096.0 648.8 L1100.0 651.5 L1104.0 654.4 L1108.0 657.4 L1112.0 660.4 L1116.0 663.4 L1120.0 666.4 L1124.0 669.6 L1128.0 672.8 L1132.3 676.6 L1132.9 676.6 L1132.9 488.4 L1138.0 491.0 L1145.5 495.7 L1152.0 499.6 L1159.7 503.7 L1166.0 506.7 L1174.0 510.0 L1188.3 514.8 L1202.5 518.5 L1222.0 522.0 L1232.0 523.6" stroke="#dce23c" stroke-width="4.20"/>
<path d="M140.0 488.4 L326.9 488.4 L326.9 676.6 L337.0 677.0 L347.3 676.6 L347.3 488.4 L391.5 488.4 L391.5 676.6 L433.9 676.6 L433.9 488.4 L447.3 488.4 L447.3 676.6 L486.0 676.6 L486.0 488.4 L527.0 488.4 L526.5 488.4 L526.5 676.6 L555.4 676.6 L555.4 488.4 L622.5 488.4 L622.5 676.6 L623.9 664.4 L625.8 653.2 L627.6 644.0 L629.4 636.4 L631.3 630.4 L633.1 626.1 L634.9 623.5 L636.8 622.6 L638.9 622.7 L640.8 623.0 L642.7 623.7 L644.5 624.8 L646.4 626.5 L648.3 628.8 L650.2 631.7 L652.0 635.4 L653.9 639.9 L655.8 645.3 L657.7 651.6 L659.5 658.9 L661.4 667.2 L663.3 676.6 L663.3 676.6 L663.3 488.4 L663.3 488.4 L663.8 491.4 L664.4 494.4 L665.0 497.4 L665.6 500.4 L666.2 503.4 L666.8 506.4 L667.3 509.4 L667.8 512.4 L668.4 515.4 L668.9 518.4 L669.2 520.0 L670.3 526.0 L671.6 532.0 L673.0 538.0 L674.4 544.0 L676.0 550.0 L677.5 556.0 L679.2 562.0 L680.9 568.0 L682.5 574.0 L684.1 580.0 L685.6 586.0 L687.2 592.0 L688.7 598.0 L690.3 604.0 L691.9 610.0 L693.5 616.0 L695.1 622.0 L696.7 628.0 L698.3 634.0 L699.9 640.0 L701.5 646.0 L703.1 652.0 L704.9 658.0 L706.6 664.0 L708.9 670.0 L711.2 673.9 L715.0 673.9 L724.2 667.9 L730.4 661.9 L734.3 655.9 L738.8 649.9 L742.9 643.9 L745.7 637.9 L747.8 631.9 L749.6 625.9 L751.4 619.9 L753.4 613.9 L755.3 607.9 L757.2 601.9 L759.1 595.9 L761.1 589.9 L763.1 583.9 L765.2 577.9 L767.4 571.9 L769.6 565.9 L771.9 559.9 L774.3 553.9 L776.7 547.9 L779.1 541.9 L781.7 535.9 L784.4 529.9 L787.1 523.9 L790.0 517.9 L793.0 511.9 L796.1 505.9 L799.4 500.0 L800.6 498.0 L801.8 496.0 L803.1 494.0 L804.6 492.0 L806.5 490.0 L808.5 488.4 L811.3 488.4 L811.3 676.6 L812.8 675.9 L814.8 675.6 L816.8 675.1 L818.8 674.0 L820.8 672.4 L822.8 670.9 L824.8 669.3 L826.8 667.6 L828.8 665.9 L830.8 664.4 L832.8 663.1 L834.8 662.2 L836.8 661.4 L838.8 660.7 L840.8 660.1 L842.8 659.6 L844.8 659.4 L846.8 659.4 L848.8 659.4 L850.8 659.4 L852.8 659.5 L854.8 659.5 L856.8 659.6 L858.8 659.7 L860.0 659.7 L864.0 660.1 L868.0 660.7 L872.0 661.4 L876.0 662.1 L880.0 662.5 L884.0 662.7 L888.0 662.9 L892.0 663.1 L896.0 663.2 L900.0 663.1 L904.0 662.6 L908.0 661.9 L912.0 661.1 L916.0 660.4 L920.0 659.6 L924.0 658.7 L928.0 657.7 L932.0 656.7 L936.0 655.6 L940.0 654.4 L944.0 653.1 L948.0 651.8 L952.0 650.4 L956.0 649.0 L960.0 647.5 L964.0 646.0 L968.0 644.5 L972.0 643.1 L976.0 641.6 L980.0 640.3 L984.0 638.9 L988.0 637.6 L992.0 636.3 L996.0 635.0 L1000.0 633.7 L1004.0 632.5 L1008.0 631.6 L1012.0 630.8 L1016.0 630.1 L1020.0 629.5 L1024.0 629.1 L1028.0 628.8 L1032.0 628.6 L1036.0 628.5 L1040.0 628.4 L1044.0 628.6 L1048.0 629.0 L1052.0 629.5 L1056.0 630.2 L1060.0 631.1 L1064.0 632.2 L1068.0 633.5 L1072.0 635.2 L1076.0 637.0 L1080.0 639.0 L1084.0 641.3 L1088.0 643.8 L1092.0 646.2 L1096.0 648.8 L1100.0 651.5 L1104.0 654.4 L1108.0 657.4 L1112.0 660.4 L1116.0 663.4 L1120.0 666.4 L1124.0 669.6 L1128.0 672.8 L1132.3 676.6 L1132.9 676.6 L1132.9 488.4 L1138.0 491.0 L1145.5 495.7 L1152.0 499.6 L1159.7 503.7 L1166.0 506.7 L1174.0 510.0 L1188.3 514.8 L1202.5 518.5 L1222.0 522.0 L1232.0 523.6" stroke="#bedc44" stroke-width="4.20"/>
<path d="M140.0 488.4 L326.9 488.4 L326.9 676.6 L337.0 677.0 L347.3 676.6 L347.3 488.4 L392.2 488.4 L392.2 676.6 L432.2 676.6 L432.2 488.4 L448.0 488.4 L448.0 676.6 L486.5 676.6 L486.5 488.4 L466.0 488.4 L466.8 488.4 L467.6 488.4 L468.4 488.4 L469.2 488.4 L470.0 488.4 L470.8 488.4 L471.6 488.4 L472.4 488.4 L473.2 488.4 L474.0 488.4 L474.8 488.4 L475.6 488.4 L476.4 488.4 L477.2 488.4 L478.0 488.4 L478.8 488.4 L479.6 488.4 L480.4 488.4 L481.2 488.4 L482.0 488.4 L482.8 488.4 L483.6 488.4 L484.4 488.4 L485.2 488.4 L486.0 488.4 L486.8 488.5 L487.6 488.5 L488.4 488.5 L489.2 488.5 L490.0 488.5 L490.8 488.5 L491.6 488.5 L492.4 488.5 L493.2 488.5 L494.0 488.5 L494.8 488.5 L495.6 488.5 L496.4 488.5 L497.2 488.5 L498.0 488.5 L498.8 488.5 L499.6 488.5 L500.4 488.5 L501.2 488.5 L502.0 488.5 L502.8 488.5 L503.6 488.5 L504.4 488.4 L505.2 488.4 L506.0 488.4 L506.8 488.4 L507.6 488.4 L508.4 488.4 L509.2 488.4 L510.0 488.4 L510.8 488.4 L511.6 488.4 L512.4 488.4 L513.2 488.4 L514.0 488.4 L514.8 488.4 L515.6 488.4 L516.4 488.4 L517.2 488.4 L518.0 488.4 L518.8 488.4 L519.6 488.4 L520.4 488.4 L521.2 488.4 L522.0 488.4 L522.8 488.4 L523.6 488.4 L527.0 488.4 L527.2 488.4 L527.2 676.6 L554.8 676.6 L554.8 488.4 L617.3 488.4 L617.3 676.6 L618.7 667.1 L620.6 658.4 L622.4 651.2 L624.2 645.3 L626.1 640.7 L627.9 637.3 L629.7 635.3 L631.5 634.6 L633.7 634.7 L635.5 634.9 L637.4 635.4 L639.3 636.3 L641.2 637.6 L643.0 639.4 L644.9 641.7 L646.8 644.6 L648.6 648.1 L650.5 652.3 L652.4 657.2 L654.3 662.8 L656.1 669.3 L658.0 676.6 L658.0 676.6 L658.0 488.4 L658.0 488.4 L658.6 491.4 L659.3 494.4 L660.0 497.4 L660.8 500.4 L661.5 503.4 L662.3 506.4 L662.9 509.4 L663.6 512.4 L664.2 515.4 L664.8 518.4 L665.2 520.0 L666.5 526.0 L668.0 532.0 L669.6 538.0 L671.3 544.0 L673.0 550.0 L674.7 556.0 L676.5 562.0 L678.3 568.0 L680.1 574.0 L681.8 580.0 L683.4 586.0 L685.1 592.0 L686.7 598.0 L688.4 604.0 L690.0 610.0 L691.7 616.0 L693.4 622.0 L695.0 628.0 L696.6 634.0 L698.3 640.0 L699.9 646.0 L701.5 652.0 L703.3 658.0 L705.1 664.0 L707.4 670.0 L709.8 674.4 L715.4 674.3 L724.1 668.3 L730.2 662.3 L734.1 656.3 L738.2 650.3 L742.3 644.3 L745.1 638.3 L747.1 632.3 L749.0 626.3 L750.8 620.3 L752.8 614.3 L754.7 608.3 L756.7 602.3 L758.6 596.3 L760.6 590.3 L762.7 584.3 L764.8 578.3 L767.0 572.3 L769.2 566.3 L771.5 560.3 L773.9 554.3 L776.3 548.3 L778.7 542.3 L781.3 536.3 L784.0 530.3 L786.8 524.3 L789.6 518.3 L792.6 512.3 L795.7 506.3 L799.1 500.3 L799.3 500.0 L800.4 498.0 L801.6 496.0 L802.9 494.0 L804.5 492.0 L806.4 490.0 L808.3 488.4 L811.1 488.4 L811.1 676.6 L812.6 675.6 L814.6 675.2 L816.6 674.6 L818.6 673.5 L820.6 671.9 L822.6 670.3 L824.6 668.7 L826.6 667.0 L828.6 665.3 L830.6 663.8 L832.6 662.5 L834.6 661.6 L836.6 660.8 L838.6 660.1 L840.6 659.5 L842.6 659.1 L844.6 658.8 L846.6 658.8 L848.6 658.8 L850.6 658.8 L852.6 658.8 L854.6 658.9 L856.6 658.9 L858.6 659.0 L860.0 659.0 L864.0 659.4 L868.0 660.0 L872.0 660.7 L876.0 661.3 L880.0 661.7 L884.0 662.0 L888.0 662.2 L892.0 662.5 L896.0 662.6 L900.0 662.5 L904.0 662.0 L908.0 661.4 L912.0 660.6 L916.0 659.9 L920.0 659.2 L924.0 658.3 L928.0 657.4 L932.0 656.4 L936.0 655.3 L940.0 654.1 L944.0 652.9 L948.0 651.6 L952.0 650.2 L956.0 648.8 L960.0 647.4 L964.0 645.9 L968.0 644.4 L972.0 643.0 L976.0 641.6 L980.0 640.2 L984.0 638.9 L988.0 637.5 L992.0 636.3 L996.0 634.9 L1000.0 633.7 L1004.0 632.5 L1008.0 631.5 L1012.0 630.8 L1016.0 630.1 L1020.0 629.5 L1024.0 629.1 L1028.0 628.8 L1032.0 628.6 L1036.0 628.5 L1040.0 628.4 L1044.0 628.6 L1048.0 629.0 L1052.0 629.5 L1056.0 630.2 L1060.0 631.1 L1064.0 632.2 L1068.0 633.5 L1072.0 635.2 L1076.0 637.0 L1080.0 639.0 L1084.0 641.3 L1088.0 643.8 L1092.0 646.2 L1096.0 648.8 L1100.0 651.5 L1104.0 654.4 L1108.0 657.4 L1112.0 660.4 L1116.0 663.4 L1120.0 666.4 L1124.0 669.6 L1128.0 672.8 L1132.4 676.6 L1133.0 676.6 L1133.0 488.4 L1138.0 491.0 L1145.5 495.7 L1152.0 499.6 L1159.7 503.7 L1166.0 506.7 L1174.0 510.0 L1188.3 514.8 L1202.5 518.5 L1222.0 522.0 L1232.0 523.6" stroke="#a3d554" stroke-width="4.20"/>
<path d="M140.0 488.4 L326.9 488.4 L326.9 676.6 L337.0 677.0 L347.3 676.6 L347.3 488.4 L392.8 488.4 L392.8 676.6 L430.5 676.6 L430.5 488.4 L448.7 488.4 L448.7 676.6 L485.9 676.6 L485.9 488.4 L466.0 488.4 L466.8 488.4 L467.6 488.4 L468.4 488.4 L469.2 488.4 L470.0 488.4 L470.8 488.4 L471.6 488.4 L472.4 488.4 L473.2 488.4 L474.0 488.4 L474.8 488.4 L475.6 488.4 L476.4 488.5 L477.2 488.5 L478.0 488.5 L478.8 488.5 L479.6 488.5 L480.4 488.5 L481.2 488.5 L482.0 488.5 L482.8 488.5 L483.6 488.5 L484.4 488.5 L485.2 488.5 L486.0 488.5 L486.8 488.5 L487.6 488.5 L488.4 488.5 L489.2 488.5 L490.0 488.5 L490.8 488.5 L491.6 488.5 L492.4 488.5 L493.2 488.6 L494.0 488.6 L494.8 488.6 L495.6 488.6 L496.4 488.6 L497.2 488.6 L498.0 488.6 L498.8 488.6 L499.6 488.6 L500.4 488.6 L501.2 488.5 L502.0 488.5 L502.8 488.5 L503.6 488.5 L504.4 488.5 L505.2 488.5 L506.0 488.4 L506.8 488.4 L507.6 488.4 L508.4 488.4 L509.2 488.4 L510.0 488.4 L510.8 488.4 L511.6 488.4 L512.4 488.4 L513.2 488.4 L514.0 488.4 L514.8 488.4 L515.6 488.4 L516.4 488.4 L517.2 488.4 L518.0 488.4 L518.8 488.4 L519.6 488.4 L520.4 488.4 L521.2 488.4 L522.0 488.4 L522.8 488.4 L523.6 488.4 L527.0 488.4 L527.8 488.4 L527.8 676.6 L554.0 676.6 L554.0 488.4 L613.5 488.4 L613.5 676.6 L614.9 669.1 L616.7 662.3 L618.6 656.7 L620.4 652.0 L622.2 648.4 L624.0 645.7 L625.9 644.1 L627.7 643.6 L629.8 643.6 L631.6 643.8 L633.5 644.3 L635.4 644.9 L637.2 646.0 L639.1 647.4 L641.0 649.2 L642.8 651.4 L644.7 654.2 L646.5 657.5 L648.4 661.3 L650.3 665.8 L652.1 670.9 L654.0 676.6 L654.0 676.6 L654.0 488.4 L654.0 488.4 L654.6 491.4 L655.3 494.4 L656.0 497.4 L656.9 500.4 L657.7 503.4 L658.5 506.4 L659.2 509.4 L659.9 512.4 L660.6 515.4 L661.3 518.4 L661.7 520.0 L663.2 526.0 L664.7 532.0 L666.4 538.0 L668.2 544.0 L670.1 550.0 L671.9 556.0 L673.8 562.0 L675.8 568.0 L677.7 574.0 L679.5 580.0 L681.3 586.0 L683.0 592.0 L684.7 598.0 L686.5 604.0 L688.2 610.0 L689.9 616.0 L691.6 622.0 L693.3 628.0 L695.0 634.0 L696.6 640.0 L698.3 646.0 L700.0 652.0 L701.8 658.0 L703.6 664.0 L705.8 670.0 L708.4 674.8 L715.9 674.8 L724.0 668.8 L730.1 662.8 L733.8 656.8 L737.7 650.8 L741.6 644.8 L744.4 638.8 L746.5 632.8 L748.4 626.8 L750.3 620.8 L752.2 614.8 L754.2 608.8 L756.1 602.8 L758.1 596.8 L760.1 590.8 L762.2 584.8 L764.4 578.8 L766.6 572.8 L768.8 566.8 L771.2 560.8 L773.5 554.8 L775.9 548.8 L778.4 542.8 L780.9 536.8 L783.6 530.8 L786.4 524.8 L789.2 518.8 L792.2 512.8 L795.3 506.8 L798.7 500.8 L799.1 500.0 L800.3 498.0 L801.5 496.0 L802.8 494.0 L804.3 492.0 L806.3 490.0 L808.2 488.4 L810.9 488.4 L810.9 676.6 L812.4 675.3 L814.4 674.8 L816.4 674.1 L818.4 672.9 L820.4 671.3 L822.4 669.6 L824.4 668.0 L826.4 666.3 L828.4 664.7 L830.4 663.2 L832.4 661.9 L834.4 661.0 L836.4 660.2 L838.4 659.5 L840.4 658.9 L842.4 658.5 L844.4 658.3 L846.4 658.2 L848.4 658.2 L850.4 658.2 L852.4 658.2 L854.4 658.2 L856.4 658.3 L858.4 658.3 L860.0 658.4 L864.0 658.7 L868.0 659.3 L872.0 659.9 L876.0 660.5 L880.0 660.9 L884.0 661.2 L888.0 661.5 L892.0 661.8 L896.0 662.0 L900.0 661.9 L904.0 661.4 L908.0 660.8 L912.0 660.1 L916.0 659.5 L920.0 658.8 L924.0 657.9 L928.0 657.0 L932.0 656.1 L936.0 655.0 L940.0 653.9 L944.0 652.6 L948.0 651.3 L952.0 650.0 L956.0 648.7 L960.0 647.2 L964.0 645.8 L968.0 644.3 L972.0 642.9 L976.0 641.5 L980.0 640.1 L984.0 638.8 L988.0 637.5 L992.0 636.2 L996.0 634.9 L1000.0 633.6 L1004.0 632.5 L1008.0 631.5 L1012.0 630.8 L1016.0 630.1 L1020.0 629.5 L1024.0 629.1 L1028.0 628.8 L1032.0 628.6 L1036.0 628.5 L1040.0 628.4 L1044.0 628.6 L1048.0 629.0 L1052.0 629.5 L1056.0 630.2 L1060.0 631.1 L1064.0 632.2 L1068.0 633.5 L1072.0 635.2 L1076.0 637.0 L1080.0 639.0 L1084.0 641.3 L1088.0 643.8 L1092.0 646.2 L1096.0 648.8 L1100.0 651.5 L1104.0 654.4 L1108.0 657.4 L1112.0 660.4 L1116.0 663.4 L1120.0 666.4 L1124.0 669.6 L1128.0 672.8 L1132.4 676.6 L1133.0 676.6 L1133.0 488.4 L1138.0 491.0 L1145.5 495.7 L1152.0 499.6 L1159.7 503.7 L1166.0 506.7 L1174.0 510.0 L1188.3 514.8 L1202.5 518.5 L1222.0 522.0 L1232.0 523.6" stroke="#8ccb64" stroke-width="4.20"/>
<path d="M140.0 488.4 L326.9 488.4 L326.9 676.6 L337.0 677.0 L347.3 676.6 L347.3 488.4 L393.4 488.4 L393.4 676.6 L428.7 676.6 L428.7 488.4 L449.4 488.4 L449.4 676.6 L485.1 676.6 L485.1 488.4 L466.0 488.4 L466.8 488.4 L467.6 488.4 L468.4 488.4 L469.2 488.4 L470.0 488.4 L470.8 488.4 L471.6 488.4 L472.4 488.4 L473.2 488.5 L474.0 488.5 L474.8 488.5 L475.6 488.5 L476.4 488.5 L477.2 488.5 L478.0 488.5 L478.8 488.5 L479.6 488.5 L480.4 488.5 L481.2 488.5 L482.0 488.5 L482.8 488.5 L483.6 488.5 L484.4 488.5 L485.2 488.5 L486.0 488.5 L486.8 488.6 L487.6 488.6 L488.4 488.6 L489.2 488.6 L490.0 488.6 L490.8 488.6 L491.6 488.6 L492.4 488.6 L493.2 488.6 L494.0 488.6 L494.8 488.7 L495.6 488.7 L496.4 488.7 L497.2 488.7 L498.0 488.7 L498.8 488.7 L499.6 488.6 L500.4 488.6 L501.2 488.6 L502.0 488.6 L502.8 488.6 L503.6 488.6 L504.4 488.5 L505.2 488.5 L506.0 488.5 L506.8 488.4 L507.6 488.4 L508.4 488.4 L509.2 488.4 L510.0 488.4 L510.8 488.4 L511.6 488.4 L512.4 488.4 L513.2 488.4 L514.0 488.4 L514.8 488.4 L515.6 488.4 L516.4 488.4 L517.2 488.4 L518.0 488.4 L518.8 488.4 L519.6 488.4 L520.4 488.4 L521.2 488.4 L522.0 488.4 L522.8 488.4 L523.6 488.4 L527.0 488.4 L528.4 488.4 L528.4 676.6 L552.8 676.6 L552.8 488.4 L609.3 488.4 L609.3 676.6 L610.7 671.2 L612.5 666.2 L614.3 662.1 L616.1 658.7 L617.9 656.1 L619.7 654.2 L621.5 653.0 L623.3 652.6 L625.4 652.6 L627.2 652.8 L629.1 653.1 L630.9 653.6 L632.7 654.3 L634.6 655.3 L636.4 656.7 L638.3 658.3 L640.1 660.3 L641.9 662.7 L643.8 665.5 L645.6 668.7 L647.5 672.4 L649.3 676.6 L649.3 676.6 L649.3 488.4 L649.3 488.4 L650.0 491.4 L650.7 494.4 L651.5 497.4 L652.5 500.4 L653.4 503.4 L654.4 506.4 L655.2 509.4 L656.0 512.4 L656.8 515.4 L657.6 518.4 L658.0 520.0 L659.6 526.0 L661.4 532.0 L663.2 538.0 L665.1 544.0 L667.1 550.0 L669.1 556.0 L671.1 562.0 L673.3 568.0 L675.3 574.0 L677.2 580.0 L679.1 586.0 L681.0 592.0 L682.8 598.0 L684.6 604.0 L686.4 610.0 L688.2 616.0 L689.9 622.0 L691.6 628.0 L693.3 634.0 L695.0 640.0 L696.7 646.0 L698.5 652.0 L700.3 658.0 L702.2 664.0 L704.4 670.0 L707.0 675.2 L716.4 675.2 L724.0 669.2 L730.0 663.2 L733.6 657.2 L737.3 651.2 L741.0 645.2 L743.8 639.2 L745.9 633.2 L747.8 627.2 L749.7 621.2 L751.6 615.2 L753.6 609.2 L755.6 603.2 L757.6 597.2 L759.6 591.2 L761.7 585.2 L763.9 579.2 L766.1 573.2 L768.4 567.2 L770.8 561.2 L773.1 555.2 L775.5 549.2 L778.0 543.2 L780.5 537.2 L783.2 531.2 L786.0 525.2 L788.8 519.2 L791.8 513.2 L794.9 507.2 L798.3 501.2 L799.0 500.0 L800.1 498.0 L801.4 496.0 L802.7 494.0 L804.2 492.0 L806.2 490.0 L808.1 488.4 L810.6 488.4 L810.6 676.6 L812.1 675.0 L814.1 674.4 L816.1 673.7 L818.1 672.5 L820.1 670.8 L822.1 669.0 L824.1 667.4 L826.1 665.6 L828.1 664.0 L830.1 662.6 L832.1 661.3 L834.1 660.4 L836.1 659.6 L838.1 658.9 L840.1 658.4 L842.1 657.9 L844.1 657.7 L846.1 657.6 L848.1 657.6 L850.1 657.5 L852.1 657.6 L854.1 657.6 L856.1 657.6 L858.1 657.7 L860.0 657.7 L864.0 658.1 L868.0 658.6 L872.0 659.2 L876.0 659.8 L880.0 660.2 L884.0 660.5 L888.0 660.8 L892.0 661.2 L896.0 661.3 L900.0 661.2 L904.0 660.9 L908.0 660.3 L912.0 659.6 L916.0 659.0 L920.0 658.3 L924.0 657.5 L928.0 656.7 L932.0 655.8 L936.0 654.7 L940.0 653.6 L944.0 652.4 L948.0 651.1 L952.0 649.9 L956.0 648.5 L960.0 647.1 L964.0 645.7 L968.0 644.2 L972.0 642.8 L976.0 641.4 L980.0 640.1 L984.0 638.8 L988.0 637.5 L992.0 636.2 L996.0 634.9 L1000.0 633.6 L1004.0 632.5 L1008.0 631.5 L1012.0 630.7 L1016.0 630.1 L1020.0 629.5 L1024.0 629.1 L1028.0 628.8 L1032.0 628.6 L1036.0 628.5 L1040.0 628.4 L1044.0 628.6 L1048.0 629.0 L1052.0 629.5 L1056.0 630.2 L1060.0 631.1 L1064.0 632.2 L1068.0 633.5 L1072.0 635.2 L1076.0 637.0 L1080.0 639.0 L1084.0 641.3 L1088.0 643.8 L1092.0 646.2 L1096.0 648.8 L1100.0 651.5 L1104.0 654.4 L1108.0 657.4 L1112.0 660.4 L1116.0 663.4 L1120.0 666.4 L1124.0 669.6 L1128.0 672.8 L1132.5 676.6 L1133.1 676.6 L1133.1 488.4 L1138.0 491.0 L1145.5 495.7 L1152.0 499.6 L1159.7 503.7 L1166.0 506.7 L1174.0 510.0 L1188.3 514.8 L1202.5 518.5 L1222.0 522.0 L1232.0 523.6" stroke="#7bc072" stroke-width="4.20"/>
<path d="M140.0 488.4 L326.9 488.4 L326.9 676.6 L337.0 677.0 L347.3 676.6 L347.3 488.4 L394.0 488.4 L394.0 676.6 L427.0 676.6 L427.0 488.4 L450.2 488.4 L450.2 676.6 L484.1 676.6 L484.1 488.4 L466.0 488.4 L466.8 488.4 L467.6 488.4 L468.4 488.4 L469.2 488.4 L470.0 488.5 L470.8 488.5 L471.6 488.5 L472.4 488.5 L473.2 488.5 L474.0 488.5 L474.8 488.5 L475.6 488.5 L476.4 488.5 L477.2 488.5 L478.0 488.6 L478.8 488.6 L479.6 488.6 L480.4 488.6 L481.2 488.6 L482.0 488.6 L482.8 488.6 L483.6 488.6 L484.4 488.6 L485.2 488.6 L486.0 488.6 L486.8 488.7 L487.6 488.7 L488.4 488.7 L489.2 488.7 L490.0 488.7 L490.8 488.7 L491.6 488.7 L492.4 488.8 L493.2 488.8 L494.0 488.8 L494.8 488.8 L495.6 488.9 L496.4 488.9 L497.2 488.9 L498.0 488.9 L498.8 488.8 L499.6 488.8 L500.4 488.8 L501.2 488.7 L502.0 488.7 L502.8 488.7 L503.6 488.7 L504.4 488.6 L505.2 488.6 L506.0 488.5 L506.8 488.5 L507.6 488.4 L508.4 488.4 L509.2 488.4 L510.0 488.4 L510.8 488.4 L511.6 488.4 L512.4 488.4 L513.2 488.4 L514.0 488.4 L514.8 488.4 L515.6 488.4 L516.4 488.4 L517.2 488.4 L518.0 488.4 L518.8 488.4 L519.6 488.4 L520.4 488.4 L521.2 488.4 L522.0 488.4 L522.8 488.4 L523.6 488.4 L527.0 488.4 L529.0 488.4 L529.0 676.6 L551.3 676.6 L551.3 488.4 L604.5 488.4 L604.5 676.6 L605.9 673.4 L607.6 670.5 L609.4 668.1 L611.1 666.2 L612.8 664.6 L614.6 663.5 L616.3 662.8 L618.1 662.6 L620.1 662.6 L621.9 662.7 L623.7 662.9 L625.5 663.2 L627.2 663.6 L629.0 664.2 L630.8 665.0 L632.6 665.9 L634.4 667.1 L636.2 668.5 L637.9 670.1 L639.7 672.0 L641.5 674.2 L643.3 676.6 L643.3 676.6 L643.3 488.4 L643.3 488.4 L644.1 491.4 L645.0 494.4 L646.0 497.4 L647.2 500.4 L648.4 503.4 L649.5 506.4 L650.5 509.4 L651.5 512.4 L652.4 515.4 L653.4 518.4 L653.9 520.0 L655.8 526.0 L657.8 532.0 L659.8 538.0 L662.0 544.0 L664.2 550.0 L666.3 556.0 L668.5 562.0 L670.8 568.0 L673.0 574.0 L675.0 580.0 L677.0 586.0 L679.0 592.0 L680.9 598.0 L682.7 604.0 L684.6 610.0 L686.4 616.0 L688.2 622.0 L690.0 628.0 L691.7 634.0 L693.4 640.0 L695.2 646.0 L696.9 652.0 L698.8 658.0 L700.7 664.0 L702.9 670.0 L705.6 675.7 L717.0 675.7 L724.0 669.7 L729.9 663.7 L733.4 657.7 L736.9 651.7 L740.4 645.7 L743.1 639.7 L745.3 633.7 L747.2 627.7 L749.1 621.7 L751.1 615.7 L753.1 609.7 L755.0 603.7 L757.1 597.7 L759.1 591.7 L761.3 585.7 L763.5 579.7 L765.7 573.7 L768.0 567.7 L770.4 561.7 L772.7 555.7 L775.1 549.7 L777.6 543.7 L780.2 537.7 L782.8 531.7 L785.6 525.7 L788.5 519.7 L791.4 513.7 L794.5 507.7 L797.9 501.7 L798.8 500.0 L800.0 498.0 L801.2 496.0 L802.6 494.0 L804.1 492.0 L806.1 490.0 L808.0 488.4 L810.4 488.4 L810.4 676.6 L811.9 674.8 L813.9 674.0 L815.9 673.2 L817.9 672.0 L819.9 670.3 L821.9 668.5 L823.9 666.7 L825.9 665.0 L827.9 663.3 L829.9 661.9 L831.9 660.7 L833.9 659.7 L835.9 659.0 L837.9 658.3 L839.9 657.8 L841.9 657.4 L843.9 657.1 L845.9 657.0 L847.9 656.9 L849.9 656.9 L851.9 656.9 L853.9 656.9 L855.9 657.0 L857.9 657.0 L859.9 657.1 L860.0 657.1 L864.0 657.4 L868.0 657.9 L872.0 658.5 L876.0 659.0 L880.0 659.4 L884.0 659.7 L888.0 660.1 L892.0 660.5 L896.0 660.7 L900.0 660.6 L904.0 660.3 L908.0 659.7 L912.0 659.1 L916.0 658.6 L920.0 657.9 L924.0 657.2 L928.0 656.3 L932.0 655.4 L936.0 654.4 L940.0 653.3 L944.0 652.2 L948.0 650.9 L952.0 649.7 L956.0 648.3 L960.0 647.0 L964.0 645.5 L968.0 644.1 L972.0 642.7 L976.0 641.4 L980.0 640.0 L984.0 638.7 L988.0 637.4 L992.0 636.2 L996.0 634.9 L1000.0 633.6 L1004.0 632.4 L1008.0 631.5 L1012.0 630.7 L1016.0 630.0 L1020.0 629.5 L1024.0 629.1 L1028.0 628.8 L1032.0 628.6 L1036.0 628.5 L1040.0 628.4 L1044.0 628.6 L1048.0 629.0 L1052.0 629.5 L1056.0 630.2 L1060.0 631.1 L1064.0 632.2 L1068.0 633.5 L1072.0 635.2 L1076.0 637.0 L1080.0 639.0 L1084.0 641.3 L1088.0 643.8 L1092.0 646.2 L1096.0 648.8 L1100.0 651.5 L1104.0 654.4 L1108.0 657.4 L1112.0 660.4 L1116.0 663.4 L1120.0 666.4 L1124.0 669.6 L1128.0 672.8 L1132.6 676.6 L1133.2 676.6 L1133.2 488.4 L1138.0 491.0 L1145.5 495.7 L1152.0 499.6 L1159.7 503.7 L1166.0 506.7 L1174.0 510.0 L1188.3 514.8 L1202.5 518.5 L1222.0 522.0 L1232.0 523.6" stroke="#6db37d" stroke-width="4.20"/>
<path d="M140.0 488.4 L326.9 488.4 L326.9 676.6 L337.0 677.0 L347.3 676.6 L347.3 488.4 L394.6 488.4 L394.6 676.6 L425.3 676.6 L425.3 488.4 L450.9 488.4 L450.9 676.6 L483.1 676.6 L483.1 488.4 L466.0 488.4 L466.8 488.4 L467.6 488.5 L468.4 488.5 L469.2 488.5 L470.0 488.5 L470.8 488.5 L471.6 488.5 L472.4 488.5 L473.2 488.5 L474.0 488.6 L474.8 488.6 L475.6 488.6 L476.4 488.6 L477.2 488.6 L478.0 488.6 L478.8 488.7 L479.6 488.7 L480.4 488.7 L481.2 488.7 L482.0 488.7 L482.8 488.7 L483.6 488.7 L484.4 488.8 L485.2 488.8 L486.0 488.8 L486.8 488.8 L487.6 488.8 L488.4 488.8 L489.2 488.9 L490.0 488.9 L490.8 488.9 L491.6 488.9 L492.4 489.0 L493.2 489.0 L494.0 489.0 L494.8 489.1 L495.6 489.1 L496.4 489.2 L497.2 489.2 L498.0 489.1 L498.8 489.1 L499.6 489.1 L500.4 489.0 L501.2 489.0 L502.0 488.9 L502.8 488.9 L503.6 488.8 L504.4 488.8 L505.2 488.7 L506.0 488.6 L506.8 488.5 L507.6 488.5 L508.4 488.4 L509.2 488.4 L510.0 488.4 L510.8 488.4 L511.6 488.4 L512.4 488.4 L513.2 488.4 L514.0 488.4 L514.8 488.4 L515.6 488.4 L516.4 488.4 L517.2 488.4 L518.0 488.4 L518.8 488.4 L519.6 488.4 L520.4 488.4 L521.2 488.4 L522.0 488.4 L522.8 488.4 L523.6 488.4 L527.0 488.4 L529.6 488.4 L529.6 676.6 L549.5 676.6 L549.5 488.4 L599.3 488.4 L599.3 676.6 L600.6 675.2 L602.3 674.0 L604.0 673.0 L605.7 672.1 L607.3 671.5 L609.0 671.0 L610.7 670.7 L612.4 670.6 L614.3 670.6 L616.1 670.6 L617.8 670.7 L619.5 670.8 L621.2 671.0 L622.9 671.3 L624.7 671.6 L626.4 672.0 L628.1 672.5 L629.8 673.1 L631.5 673.8 L633.3 674.6 L635.0 675.6 L636.7 676.6 L636.7 676.6 L636.7 488.4 L636.7 488.4 L637.7 491.4 L638.8 494.4 L640.1 497.4 L641.5 500.4 L643.0 503.4 L644.4 506.4 L645.6 509.4 L646.7 512.4 L647.9 515.4 L649.0 518.4 L649.6 520.0 L651.8 526.0 L654.1 532.0 L656.4 538.0 L658.9 544.0 L661.3 550.0 L663.6 556.0 L666.0 562.0 L668.4 568.0 L670.7 574.0 L672.9 580.0 L675.0 586.0 L677.0 592.0 L679.0 598.0 L680.9 604.0 L682.9 610.0 L684.8 616.0 L686.6 622.0 L688.4 628.0 L690.2 634.0 L691.9 640.0 L693.7 646.0 L695.5 652.0 L697.4 658.0 L699.3 664.0 L701.5 670.0 L704.2 676.0 L704.3 676.1 L717.7 676.1 L724.2 670.1 L729.8 664.1 L733.3 658.1 L736.5 652.1 L739.8 646.1 L742.5 640.1 L744.6 634.1 L746.6 628.1 L748.5 622.1 L750.5 616.1 L752.5 610.1 L754.5 604.1 L756.5 598.1 L758.6 592.1 L760.8 586.1 L763.0 580.1 L765.3 574.1 L767.6 568.1 L770.0 562.1 L772.3 556.1 L774.8 550.1 L777.2 544.1 L779.8 538.1 L782.4 532.1 L785.2 526.1 L788.1 520.1 L791.0 514.1 L794.1 508.1 L797.5 502.1 L798.7 500.0 L799.9 498.0 L801.1 496.0 L802.4 494.0 L804.0 492.0 L806.0 490.0 L807.9 488.4 L810.2 488.4 L810.2 676.6 L811.7 674.6 L813.7 673.7 L815.7 672.8 L817.7 671.5 L819.7 669.8 L821.7 667.9 L823.7 666.1 L825.7 664.3 L827.7 662.7 L829.7 661.3 L831.7 660.1 L833.7 659.1 L835.7 658.4 L837.7 657.7 L839.7 657.2 L841.7 656.8 L843.7 656.5 L845.7 656.4 L847.7 656.3 L849.7 656.3 L851.7 656.3 L853.7 656.3 L855.7 656.3 L857.7 656.4 L859.7 656.4 L860.0 656.4 L864.0 656.7 L868.0 657.2 L872.0 657.7 L876.0 658.3 L880.0 658.6 L884.0 659.0 L888.0 659.4 L892.0 659.8 L896.0 660.1 L900.0 660.0 L904.0 659.7 L908.0 659.2 L912.0 658.6 L916.0 658.1 L920.0 657.5 L924.0 656.8 L928.0 656.0 L932.0 655.1 L936.0 654.2 L940.0 653.1 L944.0 651.9 L948.0 650.7 L952.0 649.5 L956.0 648.2 L960.0 646.8 L964.0 645.4 L968.0 644.0 L972.0 642.6 L976.0 641.3 L980.0 640.0 L984.0 638.7 L988.0 637.4 L992.0 636.1 L996.0 634.8 L1000.0 633.6 L1004.0 632.4 L1008.0 631.5 L1012.0 630.7 L1016.0 630.0 L1020.0 629.5 L1024.0 629.1 L1028.0 628.8 L1032.0 628.6 L1036.0 628.5 L1040.0 628.4 L1044.0 628.6 L1048.0 629.0 L1052.0 629.5 L1056.0 630.2 L1060.0 631.1 L1064.0 632.2 L1068.0 633.5 L1072.0 635.2 L1076.0 637.0 L1080.0 639.0 L1084.0 641.3 L1088.0 643.8 L1092.0 646.2 L1096.0 648.8 L1100.0 651.5 L1104.0 654.4 L1108.0 657.4 L1112.0 660.4 L1116.0 663.4 L1120.0 666.4 L1124.0 669.6 L1128.0 672.8 L1132.6 676.6 L1133.2 676.6 L1133.2 488.4 L1138.0 491.0 L1145.5 495.7 L1152.0 499.6 L1159.7 503.7 L1166.0 506.7 L1174.0 510.0 L1188.3 514.8 L1202.5 518.5 L1222.0 522.0 L1232.0 523.6" stroke="#62a685" stroke-width="4.20"/>
<path d="M140.0 488.4 L326.9 488.4 L326.9 676.6 L337.0 677.0 L347.3 676.6 L347.3 488.4 L395.3 488.4 L395.3 676.6 L423.5 676.6 L423.5 488.4 L451.6 488.4 L451.6 676.6 L482.1 676.6 L482.1 488.4 L466.0 488.5 L466.8 488.5 L467.6 488.5 L468.4 488.5 L469.2 488.5 L470.0 488.5 L470.8 488.5 L471.6 488.6 L472.4 488.6 L473.2 488.6 L474.0 488.6 L474.8 488.7 L475.6 488.7 L476.4 488.7 L477.2 488.7 L478.0 488.8 L478.8 488.8 L479.6 488.8 L480.4 488.8 L481.2 488.9 L482.0 488.9 L482.8 488.9 L483.6 488.9 L484.4 488.9 L485.2 489.0 L486.0 489.0 L486.8 489.0 L487.6 489.0 L488.4 489.1 L489.2 489.1 L490.0 489.1 L490.8 489.2 L491.6 489.2 L492.4 489.3 L493.2 489.3 L494.0 489.4 L494.8 489.4 L495.6 489.5 L496.4 489.6 L497.2 489.6 L498.0 489.5 L498.8 489.4 L499.6 489.4 L500.4 489.3 L501.2 489.2 L502.0 489.2 L502.8 489.1 L503.6 489.0 L504.4 489.0 L505.2 488.8 L506.0 488.7 L506.8 488.6 L507.6 488.5 L508.4 488.5 L509.2 488.4 L510.0 488.4 L510.8 488.4 L511.6 488.4 L512.4 488.4 L513.2 488.4 L514.0 488.4 L514.8 488.4 L515.6 488.4 L516.4 488.4 L517.2 488.4 L518.0 488.4 L518.8 488.4 L519.6 488.4 L520.4 488.4 L521.2 488.4 L522.0 488.4 L522.8 488.4 L523.6 488.4 L527.0 488.4 L530.3 488.4 L530.3 676.6 L547.6 676.6 L547.6 488.4 L593.0 488.4 L593.0 676.6 L594.2 675.9 L595.9 675.3 L597.5 674.8 L599.1 674.4 L600.7 674.0 L602.3 673.8 L603.9 673.6 L605.5 673.6 L607.4 673.6 L609.0 673.6 L610.6 673.7 L612.3 673.7 L613.9 673.8 L615.6 673.9 L617.2 674.1 L618.8 674.3 L620.5 674.6 L622.1 674.9 L623.8 675.2 L625.4 675.6 L627.1 676.1 L628.7 676.6 L628.7 676.6 L628.7 488.4 L628.7 488.4 L630.0 491.4 L631.4 494.4 L633.0 497.4 L634.8 500.4 L636.7 503.4 L638.4 506.4 L640.0 509.4 L641.4 512.4 L642.8 515.4 L644.1 518.4 L644.8 520.0 L647.5 526.0 L650.2 532.0 L652.9 538.0 L655.7 544.0 L658.4 550.0 L660.9 556.0 L663.5 562.0 L666.1 568.0 L668.5 574.0 L670.8 580.0 L673.0 586.0 L675.1 592.0 L677.1 598.0 L679.2 604.0 L681.2 610.0 L683.1 616.0 L685.0 622.0 L686.8 628.0 L688.6 634.0 L690.4 640.0 L692.2 646.0 L694.0 652.0 L695.9 658.0 L697.9 664.0 L700.1 670.0 L702.7 676.0 L702.9 676.6 L704.1 676.6 L704.1 488.4 L705.2 488.7 L706.3 489.0 L707.4 489.2 L708.4 489.4 L709.5 489.6 L710.6 489.6 L711.7 489.6 L712.7 489.6 L713.8 489.4 L714.9 489.2 L715.9 489.0 L717.0 488.7 L718.1 488.4 L718.1 676.6 L718.4 676.6 L724.4 670.6 L729.8 664.6 L733.1 658.6 L736.1 652.6 L739.3 646.6 L741.9 640.6 L744.0 634.6 L746.0 628.6 L747.9 622.6 L749.9 616.6 L751.9 610.6 L754.0 604.6 L756.0 598.6 L758.1 592.6 L760.3 586.6 L762.5 580.6 L764.8 574.6 L767.2 568.6 L769.5 562.6 L771.9 556.6 L774.4 550.6 L776.8 544.6 L779.4 538.6 L782.1 532.6 L784.8 526.6 L787.7 520.6 L790.6 514.6 L793.7 508.6 L797.1 502.6 L798.6 500.0 L799.7 498.0 L801.0 496.0 L802.3 494.0 L803.8 492.0 L805.8 490.0 L807.8 488.4 L809.9 488.4 L809.9 676.6 L811.4 674.4 L813.4 673.4 L815.4 672.3 L817.4 671.0 L819.4 669.3 L821.4 667.3 L823.4 665.5 L825.4 663.7 L827.4 662.0 L829.4 660.6 L831.4 659.5 L833.4 658.5 L835.4 657.7 L837.4 657.1 L839.4 656.6 L841.4 656.2 L843.4 655.9 L845.4 655.8 L847.4 655.7 L849.4 655.7 L851.4 655.7 L853.4 655.7 L855.4 655.7 L857.4 655.7 L859.4 655.8 L860.0 655.8 L864.0 656.0 L868.0 656.5 L872.0 657.0 L876.0 657.5 L880.0 657.9 L884.0 658.2 L888.0 658.7 L892.0 659.2 L896.0 659.4 L900.0 659.4 L904.0 659.1 L908.0 658.6 L912.0 658.1 L916.0 657.6 L920.0 657.1 L924.0 656.4 L928.0 655.6 L932.0 654.8 L936.0 653.9 L940.0 652.8 L944.0 651.7 L948.0 650.5 L952.0 649.3 L956.0 648.0 L960.0 646.7 L964.0 645.3 L968.0 643.9 L972.0 642.6 L976.0 641.2 L980.0 639.9 L984.0 638.6 L988.0 637.4 L992.0 636.1 L996.0 634.8 L1000.0 633.6 L1004.0 632.4 L1008.0 631.5 L1012.0 630.7 L1016.0 630.0 L1020.0 629.5 L1024.0 629.1 L1028.0 628.8 L1032.0 628.6 L1036.0 628.5 L1040.0 628.4 L1044.0 628.6 L1048.0 629.0 L1052.0 629.5 L1056.0 630.2 L1060.0 631.1 L1064.0 632.2 L1068.0 633.5 L1072.0 635.2 L1076.0 637.0 L1080.0 639.0 L1084.0 641.3 L1088.0 643.8 L1092.0 646.2 L1096.0 648.8 L1100.0 651.5 L1104.0 654.4 L1108.0 657.4 L1112.0 660.4 L1116.0 663.4 L1120.0 666.4 L1124.0 669.6 L1128.0 672.8 L1132.7 676.6 L1133.3 676.6 L1133.3 488.4 L1138.0 491.0 L1145.5 495.7 L1152.0 499.6 L1159.7 503.7 L1166.0 506.7 L1174.0 510.0 L1188.3 514.8 L1202.5 518.5 L1222.0 522.0 L1232.0 523.6" stroke="#5a988a" stroke-width="4.20"/>
<path d="M140.0 488.4 L326.9 488.4 L326.9 676.6 L337.0 677.0 L347.3 676.6 L347.3 488.4 L395.9 488.4 L395.9 676.6 L421.8 676.6 L421.8 488.4 L452.3 488.4 L452.3 676.6 L481.1 676.6 L481.1 488.4 L466.0 488.5 L466.8 488.5 L467.6 488.5 L468.4 488.6 L469.2 488.6 L470.0 488.6 L470.8 488.6 L471.6 488.7 L472.4 488.7 L473.2 488.8 L474.0 488.8 L474.8 488.8 L475.6 488.9 L476.4 488.9 L477.2 489.0 L478.0 489.0 L478.8 489.0 L479.6 489.1 L480.4 489.1 L481.2 489.2 L482.0 489.2 L482.8 489.2 L483.6 489.3 L484.4 489.3 L485.2 489.3 L486.0 489.4 L486.8 489.4 L487.6 489.5 L488.4 489.5 L489.2 489.6 L490.0 489.6 L490.8 489.7 L491.6 489.8 L492.4 489.8 L493.2 489.9 L494.0 490.0 L494.8 490.1 L495.6 490.2 L496.4 490.3 L497.2 490.4 L498.0 490.3 L498.8 490.1 L499.6 490.0 L500.4 489.9 L501.2 489.8 L502.0 489.7 L502.8 489.6 L503.6 489.5 L504.4 489.3 L505.2 489.1 L506.0 488.9 L506.8 488.7 L507.6 488.6 L508.4 488.5 L509.2 488.5 L510.0 488.4 L510.8 488.4 L511.6 488.4 L512.4 488.4 L513.2 488.4 L514.0 488.4 L514.8 488.4 L515.6 488.4 L516.4 488.4 L517.2 488.4 L518.0 488.4 L518.8 488.4 L519.6 488.4 L520.4 488.4 L521.2 488.4 L522.0 488.4 L522.8 488.4 L523.6 488.4 L527.0 488.4 L530.9 488.4 L530.9 676.6 L545.7 676.6 L545.7 488.4 L589.0 488.4 L589.0 676.6 L590.2 675.9 L591.7 675.3 L593.2 674.8 L594.7 674.4 L596.2 674.0 L597.8 673.8 L599.3 673.6 L600.8 673.6 L602.5 673.6 L604.1 673.6 L605.6 673.7 L607.2 673.7 L608.7 673.8 L610.3 673.9 L611.8 674.1 L613.4 674.3 L614.9 674.6 L616.5 674.9 L618.0 675.2 L619.6 675.6 L621.1 676.1 L622.7 676.6 L622.7 676.6 L622.7 488.4 L622.7 488.4 L624.2 491.4 L625.8 494.4 L627.6 497.4 L629.6 500.4 L631.7 503.4 L633.7 506.4 L635.4 509.4 L637.0 512.4 L638.6 515.4 L640.1 518.4 L640.9 520.0 L643.9 526.0 L646.8 532.0 L649.7 538.0 L652.7 544.0 L655.7 550.0 L658.4 556.0 L661.1 562.0 L663.8 568.0 L666.3 574.0 L668.7 580.0 L671.0 586.0 L673.2 592.0 L675.4 598.0 L677.5 604.0 L679.5 610.0 L681.5 616.0 L683.4 622.0 L685.3 628.0 L687.1 634.0 L688.9 640.0 L690.8 646.0 L692.6 652.0 L694.6 658.0 L696.6 664.0 L698.7 670.0 L701.2 676.0 L701.4 676.6 L702.6 676.6 L702.6 488.4 L704.0 489.0 L705.3 489.6 L706.5 490.1 L707.8 490.5 L709.1 490.7 L710.4 490.9 L711.7 490.9 L712.9 490.7 L714.2 490.5 L715.5 490.1 L716.8 489.6 L718.1 489.0 L719.4 488.4 L719.4 676.6 L719.6 676.6 L725.1 670.6 L730.1 664.6 L733.2 658.6 L736.0 652.6 L738.9 646.6 L741.4 640.6 L743.5 634.6 L745.5 628.6 L747.5 622.6 L749.5 616.6 L751.5 610.6 L753.6 604.6 L755.6 598.6 L757.8 592.6 L760.0 586.6 L762.2 580.6 L764.6 574.6 L766.9 568.6 L769.3 562.6 L771.7 556.6 L774.2 550.6 L776.7 544.6 L779.2 538.6 L781.9 532.6 L784.7 526.6 L787.5 520.6 L790.5 514.6 L793.6 508.6 L796.9 502.6 L798.4 500.0 L799.6 498.0 L800.8 496.0 L802.2 494.0 L803.7 492.0 L805.7 490.0 L807.7 488.4 L809.7 488.4 L809.7 676.6 L811.2 674.3 L813.2 673.2 L815.2 672.0 L817.2 670.6 L819.2 668.8 L821.2 666.8 L823.2 664.9 L825.2 663.0 L827.2 661.3 L829.2 660.0 L831.2 658.8 L833.2 657.9 L835.2 657.1 L837.2 656.5 L839.2 656.0 L841.2 655.6 L843.2 655.4 L845.2 655.2 L847.2 655.1 L849.2 655.1 L851.2 655.1 L853.2 655.0 L855.2 655.0 L857.2 655.1 L859.2 655.1 L860.0 655.1 L864.0 655.4 L868.0 655.8 L872.0 656.3 L876.0 656.7 L880.0 657.1 L884.0 657.5 L888.0 658.0 L892.0 658.5 L896.0 658.8 L900.0 658.7 L904.0 658.5 L908.0 658.1 L912.0 657.6 L916.0 657.2 L920.0 656.7 L924.0 656.0 L928.0 655.3 L932.0 654.5 L936.0 653.6 L940.0 652.6 L944.0 651.4 L948.0 650.3 L952.0 649.1 L956.0 647.8 L960.0 646.5 L964.0 645.2 L968.0 643.8 L972.0 642.5 L976.0 641.2 L980.0 639.9 L984.0 638.6 L988.0 637.3 L992.0 636.1 L996.0 634.8 L1000.0 633.5 L1004.0 632.4 L1008.0 631.5 L1012.0 630.7 L1016.0 630.0 L1020.0 629.5 L1024.0 629.1 L1028.0 628.8 L1032.0 628.6 L1036.0 628.5 L1040.0 628.4 L1044.0 628.6 L1048.0 629.0 L1052.0 629.5 L1056.0 630.2 L1060.0 631.1 L1064.0 632.2 L1068.0 633.5 L1072.0 635.2 L1076.0 637.0 L1080.0 639.0 L1084.0 641.3 L1088.0 643.8 L1092.0 646.2 L1096.0 648.8 L1100.0 651.5 L1104.0 654.4 L1108.0 657.4 L1112.0 660.4 L1116.0 663.4 L1120.0 666.4 L1124.0 669.6 L1128.0 672.8 L1132.7 676.6 L1133.3 676.6 L1133.3 488.4 L1138.0 491.0 L1145.5 495.7 L1152.0 499.6 L1159.7 503.7 L1166.0 506.7 L1174.0 510.0 L1188.3 514.8 L1202.5 518.5 L1222.0 522.0 L1232.0 523.6" stroke="#538a8c" stroke-width="4.20"/>
<path d="M140.0 488.4 L326.0 488.4 L326.0 676.6 L337.0 677.2 L348.1 676.6 L348.1 488.4 L396.5 488.4 L396.5 676.6 L420.1 676.6 L420.1 488.4 L453.0 488.4 L453.0 676.6 L480.1 676.6 L480.1 488.4 L466.0 488.5 L466.8 488.6 L467.6 488.6 L468.4 488.7 L469.2 488.7 L470.0 488.7 L470.8 488.8 L471.6 488.9 L472.4 488.9 L473.2 489.0 L474.0 489.0 L474.8 489.1 L475.6 489.2 L476.4 489.2 L477.2 489.3 L478.0 489.4 L478.8 489.4 L479.6 489.5 L480.4 489.5 L481.2 489.6 L482.0 489.7 L482.8 489.7 L483.6 489.8 L484.4 489.8 L485.2 489.9 L486.0 490.0 L486.8 490.0 L487.6 490.1 L488.4 490.2 L489.2 490.3 L490.0 490.4 L490.8 490.5 L491.6 490.6 L492.4 490.7 L493.2 490.9 L494.0 491.0 L494.8 491.1 L495.6 491.3 L496.4 491.5 L497.2 491.6 L498.0 491.4 L498.8 491.2 L499.6 491.0 L500.4 490.8 L501.2 490.6 L502.0 490.5 L502.8 490.3 L503.6 490.1 L504.4 489.9 L505.2 489.5 L506.0 489.2 L506.8 488.9 L507.6 488.6 L508.4 488.6 L509.2 488.5 L510.0 488.4 L510.8 488.4 L511.6 488.4 L512.4 488.4 L513.2 488.4 L514.0 488.4 L514.8 488.4 L515.6 488.4 L516.4 488.4 L517.2 488.4 L518.0 488.4 L518.8 488.4 L519.6 488.4 L520.4 488.4 L521.2 488.4 L522.0 488.4 L522.8 488.4 L523.6 488.4 L527.0 488.4 L564.9 488.4 L564.9 676.6 L572.3 676.6 L572.3 488.4 L585.0 488.4 L585.0 676.6 L586.0 676.1 L587.3 675.7 L588.6 675.4 L589.9 675.1 L591.2 674.9 L592.5 674.7 L593.8 674.6 L595.1 674.6 L596.7 674.6 L598.0 674.6 L599.3 674.6 L600.7 674.7 L602.0 674.7 L603.3 674.8 L604.7 674.9 L606.0 675.1 L607.3 675.2 L608.7 675.4 L610.0 675.7 L611.3 675.9 L612.7 676.3 L614.0 676.6 L614.0 676.6 L614.0 488.4 L614.0 488.4 L615.9 491.4 L617.9 494.4 L620.1 497.4 L622.6 500.4 L625.1 503.4 L627.5 506.4 L629.6 509.4 L631.5 512.4 L633.3 515.4 L635.1 518.4 L636.1 520.0 L639.6 526.0 L643.0 532.0 L646.3 538.0 L649.6 544.0 L652.9 550.0 L655.9 556.0 L658.8 562.0 L661.7 568.0 L664.3 574.0 L666.8 580.0 L669.2 586.0 L671.5 592.0 L673.7 598.0 L675.8 604.0 L678.0 610.0 L680.0 616.0 L682.0 622.0 L683.9 628.0 L685.7 634.0 L687.5 640.0 L689.4 646.0 L691.3 652.0 L693.3 658.0 L695.3 664.0 L697.4 670.0 L699.8 676.0 L700.0 676.6 L701.2 676.6 L701.2 488.4 L702.8 489.3 L704.3 490.2 L705.8 490.9 L707.2 491.5 L708.7 491.9 L710.2 492.1 L711.7 492.1 L713.2 491.9 L714.7 491.5 L716.1 490.9 L717.6 490.2 L719.1 489.3 L720.7 488.4 L720.7 676.6 L720.9 676.6 L725.8 670.6 L730.3 664.6 L733.3 658.6 L735.9 652.6 L738.6 646.6 L741.0 640.6 L743.0 634.6 L745.0 628.6 L747.0 622.6 L749.0 616.6 L751.1 610.6 L753.2 604.6 L755.3 598.6 L757.4 592.6 L759.7 586.6 L762.0 580.6 L764.3 574.6 L766.7 568.6 L769.1 562.6 L771.5 556.6 L774.0 550.6 L776.5 544.6 L779.0 538.6 L781.7 532.6 L784.5 526.6 L787.3 520.6 L790.3 514.6 L793.4 508.6 L796.8 502.6 L798.3 500.0 L799.5 498.0 L800.7 496.0 L802.0 494.0 L803.6 492.0 L805.6 490.0 L807.6 488.4 L809.5 488.4 L809.5 676.6 L811.0 674.1 L813.0 672.9 L815.0 671.6 L817.0 670.1 L819.0 668.3 L821.0 666.3 L823.0 664.3 L825.0 662.4 L827.0 660.6 L829.0 659.3 L831.0 658.2 L833.0 657.2 L835.0 656.5 L837.0 655.9 L839.0 655.4 L841.0 655.0 L843.0 654.8 L845.0 654.6 L847.0 654.5 L849.0 654.5 L851.0 654.4 L853.0 654.4 L855.0 654.4 L857.0 654.4 L859.0 654.5 L860.0 654.5 L864.0 654.7 L868.0 655.1 L872.0 655.5 L876.0 656.0 L880.0 656.3 L884.0 656.8 L888.0 657.3 L892.0 657.9 L896.0 658.2 L900.0 658.1 L904.0 657.9 L908.0 657.5 L912.0 657.1 L916.0 656.7 L920.0 656.2 L924.0 655.6 L928.0 654.9 L932.0 654.2 L936.0 653.3 L940.0 652.3 L944.0 651.2 L948.0 650.1 L952.0 648.9 L956.0 647.7 L960.0 646.4 L964.0 645.1 L968.0 643.7 L972.0 642.4 L976.0 641.1 L980.0 639.8 L984.0 638.5 L988.0 637.3 L992.0 636.0 L996.0 634.8 L1000.0 633.5 L1004.0 632.4 L1008.0 631.4 L1012.0 630.7 L1016.0 630.0 L1020.0 629.5 L1024.0 629.1 L1028.0 628.8 L1032.0 628.6 L1036.0 628.5 L1040.0 628.4 L1044.0 628.6 L1048.0 629.0 L1052.0 629.5 L1056.0 630.2 L1060.0 631.1 L1064.0 632.2 L1068.0 633.5 L1072.0 635.2 L1076.0 637.0 L1080.0 639.0 L1084.0 641.3 L1088.0 643.8 L1092.0 646.2 L1096.0 648.8 L1100.0 651.5 L1104.0 654.4 L1108.0 657.4 L1112.0 660.4 L1116.0 663.4 L1120.0 666.4 L1124.0 669.6 L1128.0 672.8 L1132.8 676.6 L1133.4 676.6 L1133.4 488.4 L1138.0 491.0 L1145.5 495.7 L1152.0 499.6 L1159.7 503.7 L1166.0 506.7 L1174.0 510.0 L1188.3 514.8 L1202.5 518.5 L1222.0 522.0 L1232.0 523.6" stroke="#4e7d8c" stroke-width="4.20"/>
<path d="M140.0 488.4 L326.0 488.4 L326.0 676.6 L337.0 677.2 L348.1 676.6 L348.1 488.4 L397.1 488.4 L397.1 676.6 L418.4 676.6 L418.4 488.4 L453.8 488.4 L453.8 676.6 L479.1 676.6 L479.1 488.4 L466.0 488.6 L466.8 488.7 L467.6 488.8 L468.4 488.8 L469.2 488.9 L470.0 489.0 L470.8 489.1 L471.6 489.2 L472.4 489.3 L473.2 489.4 L474.0 489.5 L474.8 489.6 L475.6 489.7 L476.4 489.9 L477.2 490.0 L478.0 490.1 L478.8 490.2 L479.6 490.3 L480.4 490.4 L481.2 490.5 L482.0 490.6 L482.8 490.7 L483.6 490.8 L484.4 490.9 L485.2 491.0 L486.0 491.1 L486.8 491.2 L487.6 491.3 L488.4 491.4 L489.2 491.6 L490.0 491.8 L490.8 491.9 L491.6 492.2 L492.4 492.4 L493.2 492.6 L494.0 492.9 L494.8 493.1 L495.6 493.4 L496.4 493.7 L497.2 493.8 L498.0 493.5 L498.8 493.2 L499.6 492.9 L500.4 492.6 L501.2 492.2 L502.0 491.9 L502.8 491.6 L503.6 491.3 L504.4 491.0 L505.2 490.3 L506.0 489.7 L506.8 489.2 L507.6 488.8 L508.4 488.7 L509.2 488.6 L510.0 488.5 L510.8 488.4 L511.6 488.4 L512.4 488.4 L513.2 488.4 L514.0 488.4 L514.8 488.4 L515.6 488.4 L516.4 488.4 L517.2 488.4 L518.0 488.4 L518.8 488.4 L519.6 488.4 L520.4 488.4 L521.2 488.4 L522.0 488.4 L522.8 488.4 L523.6 488.4 L527.0 488.4 L581.0 488.4 L581.0 676.6 L581.9 676.1 L582.9 675.7 L584.0 675.4 L585.1 675.1 L586.2 674.9 L587.3 674.7 L588.4 674.6 L589.5 674.6 L590.8 674.6 L591.9 674.6 L593.0 674.6 L594.1 674.7 L595.2 674.7 L596.4 674.8 L597.5 674.9 L598.6 675.1 L599.7 675.2 L600.8 675.4 L601.9 675.7 L603.1 675.9 L604.2 676.3 L605.3 676.6 L605.3 676.6 L605.3 488.4 L605.3 488.4 L607.6 491.4 L610.0 494.4 L612.7 497.4 L615.6 500.4 L618.6 503.4 L621.4 506.4 L623.9 509.4 L626.2 512.4 L628.3 515.4 L630.4 518.4 L631.5 520.0 L635.5 526.0 L639.4 532.0 L643.1 538.0 L646.9 544.0 L650.5 550.0 L653.7 556.0 L656.8 562.0 L659.8 568.0 L662.5 574.0 L665.1 580.0 L667.6 586.0 L669.9 592.0 L672.2 598.0 L674.4 604.0 L676.6 610.0 L678.7 616.0 L680.7 622.0 L682.6 628.0 L684.5 634.0 L686.3 640.0 L688.2 646.0 L690.2 652.0 L692.1 658.0 L694.2 664.0 L696.3 670.0 L698.6 676.0 L698.8 676.6 L700.0 676.6 L700.0 488.4 L701.8 489.6 L703.4 490.8 L705.1 491.7 L706.8 492.5 L708.5 493.1 L710.1 493.4 L711.8 493.4 L713.5 493.1 L715.2 492.5 L716.8 491.7 L718.5 490.8 L720.2 489.6 L721.9 488.4 L721.9 676.6 L722.1 676.6 L726.6 670.6 L730.6 664.6 L733.4 658.6 L735.9 652.6 L738.3 646.6 L740.5 640.6 L742.5 634.6 L744.6 628.6 L746.6 622.6 L748.6 616.6 L750.7 610.6 L752.8 604.6 L754.9 598.6 L757.1 592.6 L759.3 586.6 L761.7 580.6 L764.0 574.6 L766.4 568.6 L768.9 562.6 L771.3 556.6 L773.8 550.6 L776.3 544.6 L778.8 538.6 L781.5 532.6 L784.3 526.6 L787.2 520.6 L790.2 514.6 L793.3 508.6 L796.6 502.6 L798.1 500.0 L799.3 498.0 L800.6 496.0 L801.9 494.0 L803.5 492.0 L805.5 490.0 L807.4 488.4 L809.2 488.4 L809.2 676.6 L810.7 674.0 L812.7 672.7 L814.7 671.3 L816.7 669.7 L818.7 667.9 L820.7 665.8 L822.7 663.7 L824.7 661.7 L826.7 660.0 L828.7 658.6 L830.7 657.5 L832.7 656.6 L834.7 655.9 L836.7 655.2 L838.7 654.8 L840.7 654.4 L842.7 654.2 L844.7 654.0 L846.7 653.9 L848.7 653.9 L850.7 653.8 L852.7 653.8 L854.7 653.8 L856.7 653.8 L858.7 653.8 L860.0 653.8 L864.0 654.0 L868.0 654.4 L872.0 654.8 L876.0 655.2 L880.0 655.6 L884.0 656.0 L888.0 656.6 L892.0 657.2 L896.0 657.5 L900.0 657.5 L904.0 657.3 L908.0 657.0 L912.0 656.6 L916.0 656.3 L920.0 655.8 L924.0 655.2 L928.0 654.6 L932.0 653.9 L936.0 653.0 L940.0 652.0 L944.0 651.0 L948.0 649.9 L952.0 648.7 L956.0 647.5 L960.0 646.2 L964.0 644.9 L968.0 643.6 L972.0 642.3 L976.0 641.0 L980.0 639.8 L984.0 638.5 L988.0 637.2 L992.0 636.0 L996.0 634.7 L1000.0 633.5 L1004.0 632.4 L1008.0 631.4 L1012.0 630.7 L1016.0 630.0 L1020.0 629.5 L1024.0 629.1 L1028.0 628.8 L1032.0 628.6 L1036.0 628.5 L1040.0 628.4 L1044.0 628.6 L1048.0 629.0 L1052.0 629.5 L1056.0 630.2 L1060.0 631.1 L1064.0 632.2 L1068.0 633.5 L1072.0 635.2 L1076.0 637.0 L1080.0 639.0 L1084.0 641.3 L1088.0 643.8 L1092.0 646.2 L1096.0 648.8 L1100.0 651.5 L1104.0 654.4 L1108.0 657.4 L1112.0 660.4 L1116.0 663.4 L1120.0 666.4 L1124.0 669.6 L1128.0 672.8 L1132.9 676.6 L1133.5 676.6 L1133.5 488.4 L1138.0 491.0 L1145.5 495.7 L1152.0 499.6 L1159.7 503.7 L1166.0 506.7 L1174.0 510.0 L1188.3 514.8 L1202.5 518.5 L1222.0 522.0 L1232.0 523.6" stroke="#496f8c" stroke-width="4.20"/>
<path d="M140.0 488.4 L326.0 488.4 L326.0 676.6 L337.0 677.2 L348.1 676.6 L348.1 488.4 L397.7 488.4 L397.7 676.6 L416.6 676.6 L416.6 488.4 L454.5 488.4 L454.5 676.6 L478.1 676.6 L478.1 488.4 L462.0 488.4 L462.6 488.5 L463.2 488.6 L463.8 488.7 L464.4 488.8 L465.0 488.9 L465.6 489.1 L466.2 489.2 L466.8 489.3 L467.4 489.4 L468.0 489.5 L468.6 489.6 L469.2 489.7 L469.8 489.9 L470.4 490.0 L471.0 490.1 L471.6 490.2 L472.2 490.3 L472.8 490.4 L473.4 490.6 L474.0 490.7 L474.6 490.8 L475.2 490.9 L475.8 491.1 L476.4 491.2 L477.0 491.3 L477.6 491.4 L478.2 491.6 L478.8 491.7 L479.4 491.9 L480.0 492.0 L480.6 492.2 L481.2 492.3 L481.8 492.5 L482.4 492.6 L483.0 492.8 L483.6 493.0 L484.2 493.1 L484.8 493.3 L485.4 493.5 L486.0 493.7 L486.6 493.9 L487.2 494.1 L487.8 494.3 L488.4 494.5 L489.0 494.8 L489.6 495.0 L490.2 495.3 L490.8 495.6 L491.4 495.9 L492.0 496.2 L492.6 496.5 L493.2 496.8 L493.8 497.1 L494.4 497.5 L495.0 497.8 L495.6 498.0 L496.2 498.0 L496.8 497.9 L497.4 497.8 L498.0 497.6 L498.6 497.3 L499.2 497.1 L499.8 496.9 L500.4 496.7 L501.0 496.4 L501.6 496.1 L502.2 495.9 L502.8 495.6 L503.4 495.3 L504.0 494.9 L504.6 494.6 L505.2 494.2 L505.8 493.8 L506.4 493.4 L507.0 493.2 L507.6 493.0 L508.2 493.0 L508.8 493.0 L509.4 493.1 L510.0 493.3 L510.6 493.4 L511.2 493.5 L511.8 493.7 L512.4 493.8 L513.0 493.9 L513.6 494.0 L514.2 494.0 L514.8 493.9 L515.4 493.8 L516.0 493.6 L516.6 493.4 L517.2 493.2 L517.8 493.0 L518.4 492.8 L519.0 492.6 L519.6 492.4 L520.2 492.2 L520.8 492.0 L521.4 491.8 L522.0 491.6 L522.6 491.4 L523.2 491.1 L523.8 490.9 L527.0 488.4 L576.0 488.7 L583.0 490.0 L585.5 492.0 L587.3 493.0 L589.0 493.0 L591.0 492.0 L599.7 494.0 L603.2 497.0 L607.1 500.0 L611.0 503.0 L614.6 506.0 L617.8 509.0 L620.8 512.0 L623.6 515.0 L626.2 518.0 L627.9 520.0 L632.9 526.0 L637.6 532.0 L642.1 538.0 L646.4 544.0 L650.5 550.0 L654.2 556.0 L657.4 562.0 L660.3 568.0 L663.0 574.0 L665.6 580.0 L668.1 586.0 L670.4 592.0 L672.6 598.0 L674.8 604.0 L677.0 610.0 L679.1 616.0 L681.1 622.0 L683.0 628.0 L684.9 634.0 L686.7 640.0 L688.6 646.0 L690.5 652.0 L692.5 658.0 L694.5 664.0 L696.6 670.0 L698.9 676.0 L699.2 676.6 L700.4 676.6 L700.4 488.4 L702.2 490.0 L703.9 491.3 L705.7 492.6 L707.4 493.6 L709.2 494.2 L710.9 494.6 L712.7 494.6 L714.4 494.2 L716.1 493.6 L717.9 492.6 L719.6 491.3 L721.4 490.0 L723.2 488.4 L723.2 676.6 L723.3 676.6 L727.3 670.6 L730.9 664.6 L733.4 658.6 L735.8 652.6 L738.0 646.6 L740.1 640.6 L742.1 634.6 L744.1 628.6 L746.1 622.6 L748.2 616.6 L750.3 610.6 L752.4 604.6 L754.5 598.6 L756.7 592.6 L759.0 586.6 L761.4 580.6 L763.8 574.6 L766.2 568.6 L768.6 562.6 L771.1 556.6 L773.6 550.6 L776.1 544.6 L778.7 538.6 L781.3 532.6 L784.1 526.6 L787.0 520.6 L790.0 514.6 L793.1 508.6 L796.5 502.6 L798.0 500.0 L799.2 498.0 L800.4 496.0 L801.8 494.0 L803.4 492.0 L805.4 490.0 L807.3 488.4 L809.0 488.4 L809.0 676.6 L810.5 673.9 L812.5 672.6 L814.5 671.0 L816.5 669.3 L818.5 667.4 L820.5 665.3 L822.5 663.1 L824.5 661.1 L826.5 659.3 L828.5 657.9 L830.5 656.9 L832.5 656.0 L834.5 655.2 L836.5 654.6 L838.5 654.1 L840.5 653.8 L842.5 653.6 L844.5 653.4 L846.5 653.3 L848.5 653.3 L850.5 653.2 L852.5 653.2 L854.5 653.1 L856.5 653.1 L858.5 653.2 L860.0 653.2 L864.0 653.4 L868.0 653.7 L872.0 654.1 L876.0 654.5 L880.0 654.8 L884.0 655.3 L888.0 655.9 L892.0 656.5 L896.0 656.9 L900.0 656.9 L904.0 656.7 L908.0 656.4 L912.0 656.1 L916.0 655.8 L920.0 655.4 L924.0 654.9 L928.0 654.2 L932.0 653.6 L936.0 652.7 L940.0 651.8 L944.0 650.7 L948.0 649.6 L952.0 648.5 L956.0 647.4 L960.0 646.1 L964.0 644.8 L968.0 643.5 L972.0 642.2 L976.0 641.0 L980.0 639.7 L984.0 638.4 L988.0 637.2 L992.0 636.0 L996.0 634.7 L1000.0 633.5 L1004.0 632.3 L1008.0 631.4 L1012.0 630.7 L1016.0 630.0 L1020.0 629.5 L1024.0 629.1 L1028.0 628.8 L1032.0 628.6 L1036.0 628.5 L1040.0 628.4 L1044.0 628.6 L1048.0 629.0 L1052.0 629.5 L1056.0 630.2 L1060.0 631.1 L1064.0 632.2 L1068.0 633.5 L1072.0 635.2 L1076.0 637.0 L1080.0 639.0 L1084.0 641.3 L1088.0 643.8 L1092.0 646.2 L1096.0 648.8 L1100.0 651.5 L1104.0 654.4 L1108.0 657.4 L1112.0 660.4 L1116.0 663.4 L1120.0 666.4 L1124.0 669.6 L1128.0 672.8 L1132.9 676.6 L1133.5 676.6 L1133.5 488.4 L1138.0 491.0 L1145.5 495.7 L1152.0 499.6 L1159.7 503.7 L1166.0 506.7 L1174.0 510.0 L1188.3 514.8 L1202.5 518.5 L1222.0 522.0 L1232.0 523.6" stroke="#46618b" stroke-width="4.20"/>
<path d="M140.0 488.4 L326.0 488.4 L326.0 676.6 L337.0 677.2 L348.1 676.6 L348.1 488.4 L398.4 488.4 L398.4 676.6 L414.9 676.6 L414.9 488.4 L455.2 488.4 L455.2 676.6 L477.1 676.6 L477.1 488.4 L462.0 488.4 L462.6 488.5 L463.2 488.6 L463.8 488.8 L464.4 488.9 L465.0 489.0 L465.6 489.2 L466.2 489.4 L466.8 489.5 L467.4 489.7 L468.0 489.9 L468.6 490.1 L469.2 490.3 L469.8 490.5 L470.4 490.7 L471.0 491.0 L471.6 491.3 L472.2 491.6 L472.8 491.9 L473.4 492.2 L474.0 492.5 L474.6 492.8 L475.2 493.1 L475.8 493.3 L476.4 493.6 L477.0 493.8 L477.6 494.0 L478.2 494.2 L478.8 494.4 L479.4 494.6 L480.0 494.8 L480.6 495.0 L481.2 495.1 L481.8 495.3 L482.4 495.5 L483.0 495.7 L483.6 495.9 L484.2 496.0 L484.8 496.2 L485.4 496.4 L486.0 496.6 L486.6 496.7 L487.2 497.0 L487.8 497.2 L488.4 497.4 L489.0 497.7 L489.6 498.0 L490.2 498.4 L490.8 498.8 L491.4 499.3 L492.0 499.7 L492.6 500.1 L493.2 500.5 L493.8 501.0 L494.4 501.5 L495.0 502.1 L495.6 502.5 L496.2 502.8 L496.8 503.0 L497.4 502.9 L498.0 502.8 L498.6 502.5 L499.2 502.2 L499.8 501.8 L500.4 501.4 L501.0 500.9 L501.6 500.3 L502.2 499.8 L502.8 499.3 L503.4 499.0 L504.0 498.7 L504.6 498.4 L505.2 498.1 L505.8 497.9 L506.4 497.7 L507.0 497.5 L507.6 497.3 L507.6 495.5 L508.2 494.5 L508.8 493.7 L509.4 493.2 L510.0 493.0 L510.6 492.9 L511.2 493.0 L511.8 493.6 L512.4 494.6 L513.0 495.6 L513.6 496.6 L514.2 497.8 L514.8 499.0 L515.4 500.1 L516.0 500.7 L516.6 500.8 L517.2 500.4 L517.8 499.6 L518.4 498.7 L519.0 497.8 L519.6 497.1 L520.2 496.6 L520.8 496.1 L521.4 495.6 L522.0 495.2 L522.6 494.8 L523.2 494.4 L523.8 494.2 L524.3 494.4 L525.1 494.7 L525.9 495.0 L526.7 495.4 L527.5 495.7 L528.2 496.1 L529.0 496.4 L529.8 496.8 L530.6 497.1 L531.4 497.5 L532.1 497.9 L532.9 498.2 L533.7 498.6 L534.5 499.0 L535.3 499.4 L536.0 499.8 L536.8 500.2 L537.6 500.6 L538.4 501.1 L539.1 501.6 L539.9 502.1 L540.7 502.7 L541.5 503.4 L542.3 504.0 L543.0 504.8 L543.8 505.5 L544.6 506.3 L545.4 507.2 L546.2 508.1 L546.9 509.1 L547.7 510.1 L548.5 511.2 L549.3 512.3 L550.1 513.5 L550.8 514.8 L551.6 516.1 L552.4 517.5 L553.2 519.0 L553.9 520.7 L554.7 522.5 L555.5 524.5 L556.3 526.8 L557.1 529.3 L557.8 532.0 L558.6 535.0 L559.4 538.8 L560.2 543.8 L561.0 549.5 L561.7 555.7 L562.5 562.1 L563.3 568.4 L564.1 575.3 L564.8 582.5 L565.6 590.1 L566.4 597.7 L567.2 605.2 L568.0 612.3 L568.7 619.0 L569.5 625.4 L570.3 631.7 L571.1 637.9 L571.9 643.9 L572.6 649.7 L573.4 655.2 L574.2 660.4 L575.0 665.3 L575.8 669.8 L576.5 674.1 L577.8 676.6 L577.8 488.4 L579.8 488.7 L583.0 490.0 L585.5 493.8 L587.3 498.0 L589.0 494.8 L591.0 492.0 L597.3 494.0 L601.0 497.0 L604.9 500.0 L608.9 503.0 L612.7 506.0 L616.0 509.0 L619.0 512.0 L621.9 515.0 L624.6 518.0 L626.4 520.0 L631.5 526.0 L636.3 532.0 L640.8 538.0 L645.2 544.0 L649.5 550.0 L653.2 556.0 L656.5 562.0 L659.5 568.0 L662.2 574.0 L664.8 580.0 L667.3 586.0 L669.7 592.0 L672.0 598.0 L674.2 604.0 L676.4 610.0 L678.5 616.0 L680.5 622.0 L682.4 628.0 L684.3 634.0 L686.1 640.0 L688.0 646.0 L690.0 652.0 L692.0 658.0 L694.0 664.0 L696.1 670.0 L698.4 676.0 L698.6 676.6 L699.8 676.6 L699.8 488.4 L701.8 490.3 L703.7 491.9 L705.5 493.4 L707.4 494.6 L709.3 495.4 L711.2 495.8 L713.1 495.8 L715.0 495.4 L716.8 494.6 L718.7 493.4 L720.6 491.9 L722.5 490.3 L724.5 488.4 L724.5 676.6 L724.5 676.6 L728.0 670.6 L731.1 664.6 L733.5 658.6 L735.7 652.6 L737.7 646.6 L739.6 640.6 L741.6 634.6 L743.6 628.6 L745.7 622.6 L747.8 616.6 L749.8 610.6 L752.0 604.6 L754.1 598.6 L756.4 592.6 L758.7 586.6 L761.1 580.6 L763.5 574.6 L765.9 568.6 L768.4 562.6 L770.9 556.6 L773.4 550.6 L775.9 544.6 L778.5 538.6 L781.2 532.6 L784.0 526.6 L786.8 520.6 L789.8 514.6 L793.0 508.6 L796.3 502.6 L797.9 500.0 L799.0 498.0 L800.3 496.0 L801.7 494.0 L803.2 492.0 L805.3 490.0 L807.2 488.4 L808.8 488.4 L808.8 676.6 L810.3 673.9 L812.3 672.4 L814.3 670.7 L816.3 668.9 L818.3 667.0 L820.3 664.8 L822.3 662.6 L824.3 660.5 L826.3 658.6 L828.3 657.2 L830.3 656.2 L832.3 655.3 L834.3 654.6 L836.3 654.0 L838.3 653.5 L840.3 653.2 L842.3 653.0 L844.3 652.9 L846.3 652.7 L848.3 652.6 L850.3 652.6 L852.3 652.5 L854.3 652.5 L856.3 652.5 L858.3 652.5 L860.0 652.5 L864.0 652.7 L868.0 653.0 L872.0 653.3 L876.0 653.7 L880.0 654.0 L884.0 654.5 L888.0 655.2 L892.0 655.9 L896.0 656.2 L900.0 656.2 L904.0 656.1 L908.0 655.9 L912.0 655.6 L916.0 655.4 L920.0 655.0 L924.0 654.5 L928.0 653.9 L932.0 653.2 L936.0 652.5 L940.0 651.5 L944.0 650.5 L948.0 649.4 L952.0 648.4 L956.0 647.2 L960.0 646.0 L964.0 644.7 L968.0 643.4 L972.0 642.1 L976.0 640.9 L980.0 639.6 L984.0 638.4 L988.0 637.2 L992.0 636.0 L996.0 634.7 L1000.0 633.5 L1004.0 632.3 L1008.0 631.4 L1012.0 630.7 L1016.0 630.0 L1020.0 629.5 L1024.0 629.1 L1028.0 628.8 L1032.0 628.6 L1036.0 628.5 L1040.0 628.4 L1044.0 628.6 L1048.0 629.0 L1052.0 629.5 L1056.0 630.2 L1060.0 631.1 L1064.0 632.2 L1068.0 633.5 L1072.0 635.2 L1076.0 637.0 L1080.0 639.0 L1084.0 641.3 L1088.0 643.8 L1092.0 646.2 L1096.0 648.8 L1100.0 651.5 L1104.0 654.4 L1108.0 657.4 L1112.0 660.4 L1116.0 663.4 L1120.0 666.4 L1124.0 669.6 L1128.0 672.8 L1133.0 676.6 L1133.6 676.6 L1133.6 488.4 L1138.0 491.0 L1145.5 495.7 L1152.0 499.6 L1159.7 503.7 L1166.0 506.7 L1174.0 510.0 L1188.3 514.8 L1202.5 518.5 L1222.0 522.0 L1232.0 523.6" stroke="#434283" stroke-width="4.20"/>
<path d="M140.0 488.4 L326.0 488.4 L326.0 676.6 L337.0 677.2 L348.1 676.6 L348.1 488.4 L399.0 488.4 L399.0 676.6 L409.4 676.6 L409.4 488.4 L463.8 488.4 L463.8 676.6 L471.5 676.6 L471.5 488.4 L462.0 488.4 L462.6 488.5 L463.2 488.6 L463.8 488.8 L464.4 488.9 L465.0 489.1 L465.6 489.3 L466.2 489.5 L466.8 489.7 L467.4 489.9 L468.0 490.1 L468.6 490.3 L469.2 490.6 L469.8 490.8 L470.4 491.1 L471.0 491.4 L471.6 491.7 L472.2 492.1 L472.8 492.4 L473.4 492.8 L474.0 493.2 L474.6 493.6 L475.2 494.0 L475.8 494.3 L476.4 494.6 L477.0 494.9 L477.6 495.2 L478.2 495.4 L478.8 495.7 L479.4 495.9 L480.0 496.2 L480.6 496.4 L481.2 496.7 L481.8 496.9 L482.4 497.2 L483.0 497.4 L483.6 497.6 L484.2 497.8 L484.8 498.0 L485.4 498.3 L486.0 498.5 L486.6 498.7 L487.2 499.0 L487.8 499.3 L488.4 499.6 L489.0 499.9 L489.6 500.3 L490.2 500.8 L490.8 501.3 L491.4 501.8 L492.0 502.4 L492.6 503.0 L493.2 503.6 L493.8 504.3 L494.4 505.0 L495.0 505.7 L495.6 506.5 L496.2 507.3 L496.8 508.1 L497.4 509.0 L498.0 510.0 L498.6 510.8 L499.2 511.3 L499.8 511.2 L500.4 510.7 L501.0 510.0 L501.6 509.3 L502.2 508.3 L502.8 507.2 L503.4 506.1 L504.0 505.0 L504.6 504.0 L505.2 503.0 L505.8 501.8 L506.4 500.6 L507.0 499.3 L507.6 497.9 L507.6 496.4 L508.2 495.2 L508.8 494.4 L509.4 493.8 L510.0 493.6 L510.6 493.5 L511.2 493.6 L511.8 494.3 L512.4 495.4 L513.0 496.5 L513.6 497.6 L514.2 499.0 L514.8 500.4 L515.4 501.5 L516.0 502.3 L516.6 502.4 L517.2 501.9 L517.8 501.0 L518.4 500.0 L519.0 498.9 L519.6 498.2 L520.2 497.6 L520.8 497.0 L521.4 496.5 L522.0 496.0 L522.6 495.6 L523.2 495.2 L523.8 494.9 L524.3 495.0 L525.1 495.2 L525.9 495.5 L526.6 495.7 L527.4 496.0 L528.1 496.2 L528.9 496.5 L529.7 496.8 L530.4 497.1 L531.2 497.4 L532.0 497.8 L532.7 498.1 L533.5 498.5 L534.3 498.9 L535.0 499.3 L535.8 499.7 L536.6 500.1 L537.3 500.6 L538.1 501.1 L538.8 501.6 L539.6 502.1 L540.4 502.7 L541.1 503.4 L541.9 504.0 L542.7 504.8 L543.4 505.5 L544.2 506.3 L545.0 507.2 L545.7 508.1 L546.5 509.1 L547.3 510.1 L548.0 511.2 L548.8 512.3 L549.6 513.5 L550.3 514.8 L551.1 516.1 L551.8 517.5 L552.6 519.0 L553.4 520.7 L554.1 522.5 L554.9 524.5 L555.7 526.8 L556.4 529.3 L557.2 532.0 L558.0 535.0 L558.7 538.8 L559.5 543.8 L560.3 549.5 L561.0 555.7 L561.8 562.1 L562.5 568.4 L563.3 575.3 L564.1 582.5 L564.8 590.1 L565.6 597.7 L566.4 605.2 L567.1 612.3 L567.9 619.0 L568.7 625.4 L569.4 631.7 L570.2 637.9 L571.0 643.9 L571.7 649.7 L572.5 655.2 L573.2 660.4 L574.0 665.3 L574.8 669.8 L575.5 674.1 L577.4 676.6 L577.4 488.4 L579.4 488.7 L583.0 490.0 L585.5 496.2 L587.3 505.0 L589.0 497.2 L591.0 492.0 L595.0 494.0 L598.7 497.0 L602.8 500.0 L606.9 503.0 L610.7 506.0 L614.1 509.0 L617.2 512.0 L620.2 515.0 L623.0 518.0 L624.8 520.0 L630.0 526.0 L635.0 532.0 L639.6 538.0 L644.1 544.0 L648.4 550.0 L652.3 556.0 L655.6 562.0 L658.6 568.0 L661.4 574.0 L664.1 580.0 L666.6 586.0 L669.0 592.0 L671.3 598.0 L673.6 604.0 L675.8 610.0 L677.9 616.0 L679.9 622.0 L681.9 628.0 L683.7 634.0 L685.6 640.0 L687.5 646.0 L689.5 652.0 L691.5 658.0 L693.5 664.0 L695.6 670.0 L697.8 676.0 L698.1 676.6 L699.3 676.6 L699.3 488.4 L701.4 490.6 L703.4 492.5 L705.4 494.2 L707.4 495.6 L709.5 496.6 L711.5 497.1 L713.5 497.1 L715.5 496.6 L717.5 495.6 L719.6 494.2 L721.6 492.5 L723.6 490.6 L725.7 488.4 L725.7 676.6 L725.8 676.6 L728.7 670.6 L731.4 664.6 L733.6 658.6 L735.6 652.6 L737.3 646.6 L739.1 640.6 L741.1 634.6 L743.2 628.6 L745.2 622.6 L747.3 616.6 L749.4 610.6 L751.6 604.6 L753.8 598.6 L756.0 592.6 L758.4 586.6 L760.8 580.6 L763.2 574.6 L765.7 568.6 L768.2 562.6 L770.7 556.6 L773.2 550.6 L775.7 544.6 L778.3 538.6 L781.0 532.6 L783.8 526.6 L786.7 520.6 L789.7 514.6 L792.8 508.6 L796.2 502.6 L797.7 500.0 L798.9 498.0 L800.2 496.0 L801.5 494.0 L803.1 492.0 L805.2 490.0 L807.1 488.4 L808.5 488.4 L808.5 676.6 L810.0 673.9 L812.0 672.3 L814.0 670.5 L816.0 668.6 L818.0 666.6 L820.0 664.4 L822.0 662.0 L824.0 659.9 L826.0 658.0 L828.0 656.5 L830.0 655.5 L832.0 654.7 L834.0 653.9 L836.0 653.3 L838.0 652.9 L840.0 652.6 L842.0 652.4 L844.0 652.3 L846.0 652.1 L848.0 652.0 L850.0 652.0 L852.0 651.9 L854.0 651.9 L856.0 651.8 L858.0 651.9 L860.0 651.9 L864.0 652.0 L868.0 652.3 L872.0 652.6 L876.0 652.9 L880.0 653.3 L884.0 653.8 L888.0 654.5 L892.0 655.2 L896.0 655.6 L900.0 655.6 L904.0 655.5 L908.0 655.3 L912.0 655.1 L916.0 654.9 L920.0 654.6 L924.0 654.1 L928.0 653.5 L932.0 652.9 L936.0 652.2 L940.0 651.3 L944.0 650.3 L948.0 649.2 L952.0 648.2 L956.0 647.0 L960.0 645.8 L964.0 644.6 L968.0 643.3 L972.0 642.1 L976.0 640.8 L980.0 639.6 L984.0 638.3 L988.0 637.1 L992.0 635.9 L996.0 634.7 L1000.0 633.4 L1004.0 632.3 L1008.0 631.4 L1012.0 630.7 L1016.0 630.0 L1020.0 629.5 L1024.0 629.1 L1028.0 628.8 L1032.0 628.6 L1036.0 628.5 L1040.0 628.4 L1044.0 628.6 L1048.0 629.0 L1052.0 629.5 L1056.0 630.2 L1060.0 631.1 L1064.0 632.2 L1068.0 633.5 L1072.0 635.2 L1076.0 637.0 L1080.0 639.0 L1084.0 641.3 L1088.0 643.8 L1092.0 646.2 L1096.0 648.8 L1100.0 651.5 L1104.0 654.4 L1108.0 657.4 L1112.0 660.4 L1116.0 663.4 L1120.0 666.4 L1124.0 669.6 L1128.0 672.8 L1133.0 676.6 L1133.6 676.6 L1133.6 488.4 L1138.0 491.0 L1145.5 495.7 L1152.0 499.6 L1159.7 503.7 L1166.0 506.7 L1174.0 510.0 L1188.3 514.8 L1202.5 518.5 L1222.0 522.0 L1232.0 523.6" stroke="#43337a" stroke-width="4.20"/>
<path d="M140.0 488.4 L319.0 488.4 L319.0 676.6 L337.0 677.4 L355.6 676.6 L355.6 488.4 L399.6 488.4 L399.6 676.6 L407.9 676.6 L407.9 488.4 L461.4 488.4 L461.4 676.6 L471.9 676.6 L471.9 488.4 L462.0 488.4 L462.6 488.5 L463.2 488.7 L463.8 488.9 L464.4 489.0 L465.0 489.2 L465.6 489.5 L466.2 489.7 L466.8 489.9 L467.4 490.2 L468.0 490.5 L468.6 490.7 L469.2 491.0 L469.8 491.3 L470.4 491.6 L471.0 491.9 L471.6 492.3 L472.2 492.7 L472.8 493.1 L473.4 493.6 L474.0 494.0 L474.6 494.5 L475.2 494.9 L475.8 495.3 L476.4 495.7 L477.0 496.1 L477.6 496.5 L478.2 496.9 L478.8 497.3 L479.4 497.7 L480.0 498.1 L480.6 498.5 L481.2 498.9 L481.8 499.3 L482.4 499.7 L483.0 500.0 L483.6 500.4 L484.2 500.8 L484.8 501.1 L485.4 501.5 L486.0 501.9 L486.6 502.3 L487.2 502.8 L487.8 503.2 L488.4 503.7 L489.0 504.3 L489.6 504.9 L490.2 505.6 L490.8 506.3 L491.4 507.1 L492.0 508.0 L492.6 508.8 L493.2 509.7 L493.8 510.6 L494.4 511.6 L495.0 512.6 L495.6 513.7 L496.2 514.8 L496.8 516.0 L497.4 517.3 L498.0 518.7 L498.6 520.1 L499.2 521.6 L499.8 523.3 L500.4 525.3 L501.0 527.3 L501.6 528.5 L502.2 527.9 L502.8 525.2 L503.4 521.9 L504.0 518.9 L504.6 515.6 L505.2 512.1 L505.8 508.6 L506.4 504.5 L507.0 500.2 L507.6 497.3 L508.2 496.0 L508.8 495.0 L509.4 494.5 L510.0 494.2 L510.6 494.0 L511.2 494.1 L511.8 495.0 L512.4 496.2 L513.0 497.4 L513.6 498.7 L514.2 500.2 L514.8 501.7 L515.4 503.0 L516.0 503.8 L516.6 504.0 L517.2 503.4 L517.8 502.4 L518.4 501.2 L519.0 500.1 L519.6 499.3 L520.2 498.6 L520.8 498.0 L521.4 497.4 L522.0 496.9 L522.6 496.4 L523.2 496.0 L523.8 495.6 L524.3 495.7 L525.0 495.8 L525.8 495.9 L526.5 496.1 L527.3 496.2 L528.0 496.4 L528.8 496.6 L529.5 496.9 L530.3 497.1 L531.0 497.4 L531.8 497.7 L532.5 498.0 L533.3 498.3 L534.0 498.7 L534.8 499.1 L535.5 499.6 L536.3 500.0 L537.0 500.5 L537.8 501.1 L538.5 501.6 L539.3 502.1 L540.0 502.7 L540.8 503.4 L541.5 504.0 L542.3 504.8 L543.0 505.5 L543.8 506.3 L544.5 507.2 L545.3 508.1 L546.0 509.1 L546.8 510.1 L547.5 511.2 L548.3 512.3 L549.0 513.5 L549.8 514.8 L550.5 516.1 L551.3 517.5 L552.0 519.0 L552.8 520.7 L553.5 522.5 L554.3 524.5 L555.0 526.8 L555.8 529.3 L556.5 532.0 L557.3 535.0 L558.0 538.8 L558.8 543.8 L559.5 549.5 L560.3 555.7 L561.0 562.1 L561.8 568.4 L562.5 575.3 L563.3 582.5 L564.0 590.1 L564.8 597.7 L565.5 605.2 L566.3 612.3 L567.0 619.0 L567.8 625.4 L568.5 631.7 L569.3 637.9 L570.0 643.9 L570.8 649.7 L571.5 655.2 L572.3 660.4 L573.0 665.3 L573.8 669.8 L574.5 674.1 L577.0 676.6 L577.0 488.4 L579.0 488.7 L583.0 490.0 L585.5 500.1 L587.3 516.0 L589.0 501.1 L591.0 492.0 L592.6 494.0 L596.5 497.0 L600.6 500.0 L604.9 503.0 L608.8 506.0 L612.3 509.0 L615.5 512.0 L618.5 515.0 L621.3 518.0 L623.2 520.0 L628.6 526.0 L633.6 532.0 L638.4 538.0 L643.0 544.0 L647.4 550.0 L651.3 556.0 L654.7 562.0 L657.8 568.0 L660.6 574.0 L663.3 580.0 L665.9 586.0 L668.3 592.0 L670.7 598.0 L672.9 604.0 L675.1 610.0 L677.3 616.0 L679.3 622.0 L681.3 628.0 L683.2 634.0 L685.1 640.0 L687.0 646.0 L688.9 652.0 L690.9 658.0 L693.0 664.0 L695.1 670.0 L697.3 676.0 L697.5 676.6 L698.7 676.6 L698.7 488.4 L701.0 490.9 L703.1 493.1 L705.3 495.1 L707.4 496.7 L709.6 497.8 L711.8 498.3 L713.9 498.3 L716.1 497.8 L718.3 496.7 L720.4 495.1 L722.6 493.1 L724.7 490.9 L727.0 488.4 L727.0 676.6 L727.0 676.6 L729.4 670.6 L731.7 664.6 L733.7 658.6 L735.5 652.6 L737.0 646.6 L738.7 640.6 L740.6 634.6 L742.7 628.6 L744.8 622.6 L746.9 616.6 L749.0 610.6 L751.2 604.6 L753.4 598.6 L755.7 592.6 L758.1 586.6 L760.5 580.6 L763.0 574.6 L765.5 568.6 L768.0 562.6 L770.5 556.6 L773.0 550.6 L775.5 544.6 L778.1 538.6 L780.8 532.6 L783.6 526.6 L786.5 520.6 L789.5 514.6 L792.7 508.6 L796.1 502.6 L797.6 500.0 L798.8 498.0 L800.0 496.0 L801.4 494.0 L803.0 492.0 L805.1 490.0 L807.0 488.4 L808.3 488.4 L808.3 676.6 L809.8 673.8 L811.8 672.2 L813.8 670.3 L815.8 668.2 L817.8 666.2 L819.8 663.9 L821.8 661.5 L823.8 659.3 L825.8 657.3 L827.8 655.8 L829.8 654.9 L831.8 654.0 L833.8 653.3 L835.8 652.7 L837.8 652.3 L839.8 652.0 L841.8 651.8 L843.8 651.7 L845.8 651.6 L847.8 651.4 L849.8 651.4 L851.8 651.3 L853.8 651.2 L855.8 651.2 L857.8 651.2 L859.8 651.2 L860.0 651.2 L864.0 651.4 L868.0 651.6 L872.0 651.9 L876.0 652.2 L880.0 652.5 L884.0 653.0 L888.0 653.8 L892.0 654.6 L896.0 655.0 L900.0 655.0 L904.0 654.9 L908.0 654.8 L912.0 654.6 L916.0 654.4 L920.0 654.1 L924.0 653.7 L928.0 653.2 L932.0 652.6 L936.0 651.9 L940.0 651.0 L944.0 650.0 L948.0 649.0 L952.0 648.0 L956.0 646.9 L960.0 645.7 L964.0 644.5 L968.0 643.2 L972.0 642.0 L976.0 640.8 L980.0 639.5 L984.0 638.3 L988.0 637.1 L992.0 635.9 L996.0 634.6 L1000.0 633.4 L1004.0 632.3 L1008.0 631.4 L1012.0 630.7 L1016.0 630.0 L1020.0 629.5 L1024.0 629.1 L1028.0 628.8 L1032.0 628.6 L1036.0 628.5 L1040.0 628.4 L1044.0 628.6 L1048.0 629.0 L1052.0 629.5 L1056.0 630.2 L1060.0 631.1 L1064.0 632.2 L1068.0 633.5 L1072.0 635.2 L1076.0 637.0 L1080.0 639.0 L1084.0 641.3 L1088.0 643.8 L1092.0 646.2 L1096.0 648.8 L1100.0 651.5 L1104.0 654.4 L1108.0 657.4 L1112.0 660.4 L1116.0 663.4 L1120.0 666.4 L1124.0 669.6 L1128.0 672.8 L1133.1 676.6 L1133.7 676.6 L1133.7 488.4 L1138.0 491.0 L1145.5 495.7 L1152.0 499.6 L1159.7 503.7 L1166.0 506.7 L1174.0 510.0 L1188.3 514.8 L1202.5 518.5 L1222.0 522.0 L1232.0 523.6" stroke="#41226c" stroke-width="4.20"/>
<path d="M136.6 488.4 L138.1 488.4 L139.6 488.4 L141.1 488.4 L142.6 488.4 L144.1 488.4 L145.6 488.4 L147.1 488.4 L148.6 488.4 L150.1 488.4 L151.6 488.4 L153.1 488.4 L154.6 488.4 L156.1 488.4 L157.6 488.4 L159.1 488.4 L160.6 488.4 L162.1 488.4 L163.6 488.4 L165.1 488.4 L166.6 488.4 L168.1 488.4 L169.6 488.4 L171.1 488.4 L172.6 488.4 L174.1 488.4 L175.6 488.4 L177.1 488.4 L178.6 488.4 L180.1 488.4 L181.6 488.4 L183.1 488.4 L184.6 488.4 L186.1 488.4 L187.6 488.4 L189.1 488.4 L190.6 488.4 L192.1 488.4 L193.6 488.4 L195.1 488.4 L196.6 488.4 L198.1 488.4 L199.6 488.4 L201.1 488.4 L202.6 488.4 L204.1 488.4 L205.6 488.4 L207.1 488.4 L208.6 488.4 L210.1 488.4 L211.6 488.4 L213.1 488.4 L214.6 488.4 L216.1 488.4 L217.6 488.4 L219.1 488.4 L220.6 488.4 L222.1 488.4 L223.6 488.4 L225.1 488.4 L226.6 488.4 L228.1 488.4 L229.6 488.4 L231.1 488.4 L232.6 488.4 L234.1 488.4 L235.6 488.4 L237.1 488.4 L238.6 488.4 L240.1 488.4 L241.6 488.4 L243.1 488.4 L244.6 488.4 L246.1 488.4 L247.6 488.4 L249.1 488.4 L250.6 488.4 L252.1 488.4 L253.6 488.4 L255.1 488.4 L256.6 488.4 L258.1 488.4 L259.6 488.4 L261.1 488.4 L262.6 488.4 L264.1 488.4 L265.6 488.4 L267.1 488.4 L268.6 488.4 L270.1 488.4 L271.6 488.4 L273.1 488.4 L274.6 488.4 L276.1 488.4 L277.6 488.4 L279.1 488.4 L280.6 488.4 L282.1 488.4 L283.6 488.4 L285.1 488.4 L286.6 488.4 L288.1 488.4 L289.6 488.4 L291.1 488.4 L292.6 488.4 L294.1 488.4 L295.6 488.5 L297.1 488.5 L298.6 488.5 L300.1 488.5 L301.6 488.5 L303.1 488.5 L304.6 488.5 L306.1 488.5 L307.6 488.5 L309.1 488.5 L310.6 488.5 L312.1 488.5 L313.6 488.5 L315.1 488.5 L316.6 488.5 L318.1 488.5 L319.6 488.5 L321.1 488.5 L322.6 488.5 L324.1 488.5 L325.6 488.5 L327.1 488.5 L328.6 488.5 L330.1 488.5 L331.6 488.5 L333.1 488.5 L334.6 488.5 L336.1 488.5 L337.6 488.5 L339.1 488.5 L340.6 488.5 L342.1 488.5 L343.6 488.5 L345.1 488.5 L346.6 488.5 L348.1 488.5 L349.6 488.5 L351.1 488.5 L352.6 488.5 L354.1 488.5 L355.6 488.5 L357.1 488.5 L358.6 488.5 L360.1 488.5 L361.6 488.5 L363.1 488.5 L364.6 488.5 L366.1 488.5 L367.6 488.5 L369.1 488.5 L370.6 488.5 L372.1 488.5 L373.6 488.6 L375.1 488.6 L376.6 488.6 L378.1 488.6 L379.6 488.6 L381.1 488.6 L382.6 488.6 L384.1 488.6 L385.6 488.6 L387.1 488.6 L388.6 488.6 L390.1 488.6 L391.6 488.6 L393.1 488.6 L394.6 488.6 L396.1 488.6 L397.6 488.6 L399.1 488.6 L400.6 488.6 L402.1 488.6 L403.6 488.6 L405.1 488.6 L406.6 488.6 L408.1 488.6 L409.6 488.6 L411.1 488.6 L412.6 488.6 L414.1 488.6 L415.6 488.6 L417.1 488.6 L418.6 488.6 L420.1 488.6 L421.6 488.7 L423.1 488.7 L424.6 488.7 L426.1 488.7 L427.6 488.7 L429.1 488.7 L430.6 488.7 L432.1 488.7 L433.6 488.7 L435.1 488.7 L436.6 488.7 L438.1 488.7 L439.6 488.7 L440.0 488.7 L441.1 488.7 L442.6 488.8 L444.1 489.0 L445.6 489.2 L447.1 489.5 L448.6 489.7 L450.1 490.0 L451.6 490.2 L453.1 490.4 L454.6 490.5 L455.0 490.5 L456.1 490.5 L457.6 490.6 L459.1 490.6 L460.6 490.7 L462.1 490.7 L463.6 490.7 L465.1 490.8 L466.6 490.8 L468.1 490.8 L469.6 490.9 L471.1 490.9 L472.6 490.9 L474.1 491.0 L475.0 491.0 L475.6 491.0 L477.1 491.1 L478.6 491.2 L480.1 491.2 L481.6 491.3 L483.1 491.4 L484.6 491.5 L486.1 491.6 L487.6 491.7 L489.1 491.8 L490.0 491.8 L490.6 491.8 L492.1 491.9 L493.6 492.0 L495.1 492.1 L496.6 492.2 L498.1 492.3 L499.6 492.3 L500.0 492.3 L501.1 492.2 L502.6 492.0 L504.1 491.7 L505.6 491.3 L507.1 490.8 L508.0 490.6 L508.6 490.4 L510.1 489.9 L511.6 489.3 L513.1 488.9 L514.6 488.6 L515.0 488.6 L516.1 488.6 L517.6 488.8 L519.1 489.1 L520.6 489.5 L521.0 489.6 L522.1 490.2 L523.6 491.8 L525.1 493.8 L526.0 495.0 L526.6 495.8 L528.1 497.9 L529.6 500.1 L531.1 502.6 L532.6 505.3 L533.0 506.0 L534.1 508.2 L535.6 511.7 L537.1 515.1 L538.0 517.0 L538.6 518.3 L540.1 521.6 L541.4 522.9 L541.6 522.9 L543.1 522.4 L544.6 521.3 L545.0 521.0 L546.1 519.8 L547.6 517.5 L549.0 515.0 L549.1 514.8 L550.6 512.2 L552.1 509.3 L553.6 506.0 L554.0 505.0 L555.1 501.9 L556.6 497.1 L557.0 496.0 L558.1 493.2 L558.8 491.5 L559.6 489.5 L559.8 489.0 L560.2 489.0 L560.2 668.0 L562.0 675.5 L565.0 677.0 L568.5 674.5 L572.0 675.5 L575.5 677.2 L576.8 674.0 L576.8 489.5 L576.8 489.5 L578.3 489.6 L579.8 489.9 L580.0 490.0 L581.3 490.9 L582.8 492.8 L584.3 494.3 L585.0 494.5 L585.8 494.1 L587.3 492.2 L588.8 490.8 L589.0 490.8 L590.3 490.8 L591.8 490.8 L593.3 490.9 L594.8 490.9 L596.0 491.0 L596.3 491.0 L597.8 491.5 L599.3 492.3 L600.8 493.4 L602.3 494.5 L603.8 495.6 L604.0 495.7 L605.3 496.5 L606.8 497.6 L608.3 498.6 L609.8 499.7 L611.3 500.8 L612.8 501.9 L613.0 502.0 L614.3 502.9 L615.8 504.0 L617.3 505.0 L618.8 506.1 L620.3 507.2 L621.8 508.3 L623.3 509.5 L624.5 510.5 L624.8 510.8 L626.3 512.0 L627.8 513.4 L629.3 514.8 L630.8 516.2 L632.3 517.8 L633.0 518.6 L633.8 519.5 L635.3 521.4 L636.8 523.4 L638.3 525.5 L639.8 527.7 L641.0 529.5 L641.3 530.0 L642.8 532.4 L644.3 535.0 L645.8 537.6 L647.3 540.4 L648.8 543.2 L650.3 545.9 L651.8 548.6 L653.3 551.3 L654.8 554.0 L656.3 556.7 L657.8 559.4 L659.3 562.0 L660.8 564.6 L662.3 567.1 L662.7 567.7 L663.8 569.4 L665.3 571.7 L666.8 573.9 L668.3 576.1 L669.8 578.2 L671.3 580.1 L672.0 581.0 L672.8 582.0 L674.3 583.7 L675.8 585.4 L677.3 587.1 L678.8 588.6 L680.3 590.2 L681.8 591.7 L682.8 592.7 L683.3 593.2 L684.8 594.7 L686.3 596.1 L687.8 597.6 L689.3 599.0 L690.8 600.4 L692.3 601.7 L693.8 603.1 L695.3 604.5 L696.8 605.8 L697.0 606.0 L698.3 607.2 L699.8 608.5 L701.3 609.9 L702.8 611.2 L704.3 612.5 L705.8 613.8 L707.3 615.1 L708.8 616.4 L710.3 617.6 L711.3 618.4 L711.8 618.8 L713.3 620.0 L714.8 621.1 L716.3 622.2 L717.8 623.4 L719.3 624.5 L720.8 625.5 L722.3 626.6 L723.8 627.7 L725.0 628.5 L725.3 628.7 L726.8 629.7 L728.3 630.7 L729.8 631.7 L731.3 632.7 L732.8 633.7 L734.3 634.7 L735.8 635.7 L737.3 636.6 L738.8 637.6 L739.9 638.4 L740.3 638.7 L741.8 639.7 L743.3 640.8 L744.8 641.9 L746.3 643.0 L747.8 644.2 L749.3 645.2 L750.8 646.3 L752.3 647.4 L753.8 648.4 L754.0 648.5 L755.3 649.3 L756.8 650.3 L758.3 651.3 L759.8 652.3 L761.3 653.2 L762.8 654.1 L764.3 655.0 L765.8 655.8 L767.3 656.5 L768.4 657.0 L768.8 657.2 L770.3 657.8 L771.8 658.4 L773.3 659.0 L774.8 659.5 L776.3 660.1 L777.8 660.5 L779.3 661.0 L780.8 661.4 L782.3 661.8 L783.0 662.0 L783.8 662.2 L785.3 662.6 L786.8 662.9 L788.3 663.3 L789.8 663.6 L791.3 663.9 L792.8 664.1 L794.3 664.4 L795.8 664.5 L797.0 664.6 L797.3 664.6 L798.8 664.7 L800.3 664.7 L801.8 664.8 L803.3 664.8 L804.8 664.8 L806.3 664.9 L807.8 664.9 L809.3 665.0 L810.8 665.0 L811.0 665.0 L812.3 665.0 L813.8 665.1 L815.3 665.1 L816.8 665.2 L818.3 665.2 L819.8 665.3 L821.3 665.3 L822.8 665.4 L824.3 665.4 L825.5 665.5 L825.8 665.5 L827.3 665.6 L828.8 665.7 L830.3 665.9 L831.8 666.0 L833.3 666.2 L834.8 666.3 L836.3 666.5 L837.8 666.7 L839.3 666.9 L840.0 667.0 L840.8 667.1 L842.3 667.4 L843.8 667.6 L845.3 667.9 L846.8 668.2 L848.3 668.6 L849.8 668.9 L851.3 669.2 L852.8 669.5 L854.0 669.8 L854.3 669.9 L855.8 670.2 L857.3 670.5 L858.8 670.8 L860.3 671.1 L861.8 671.5 L863.3 671.8 L864.0 672.0 L864.8 672.2 L866.3 672.6 L867.8 673.0 L869.3 673.4 L870.8 673.9 L871.0 674.0 L872.3 674.5 L873.8 675.2 L875.3 676.0 L876.6 676.8 L876.8 676.8 L876.8 488.6 L877.2 488.6 L878.7 489.1 L880.2 489.7 L881.7 490.2 L883.2 490.8 L884.7 491.3 L886.2 491.9 L887.7 492.4 L889.2 493.0 L890.7 493.6 L892.2 494.1 L893.7 494.7 L895.2 495.3 L896.7 495.9 L897.0 496.0 L898.2 496.5 L899.7 497.1 L901.2 497.7 L902.7 498.3 L904.2 498.9 L905.7 499.5 L907.2 500.1 L908.7 500.8 L910.2 501.4 L911.7 502.0 L913.2 502.7 L914.7 503.3 L916.2 504.0 L917.0 504.3 L917.7 504.6 L919.2 505.3 L920.7 505.9 L922.2 506.6 L923.7 507.2 L925.2 507.9 L926.7 508.6 L928.2 509.2 L929.7 509.9 L931.2 510.6 L932.7 511.3 L934.2 512.0 L935.7 512.7 L937.2 513.4 L938.7 514.0 L940.2 514.7 L941.7 515.4 L943.2 516.2 L944.7 516.9 L945.0 517.0 L946.2 517.6 L947.7 518.3 L949.2 519.0 L950.7 519.7 L952.2 520.4 L953.7 521.2 L955.2 521.9 L956.7 522.6 L958.2 523.4 L959.7 524.1 L961.2 524.8 L962.7 525.6 L964.2 526.3 L965.7 527.1 L967.2 527.8 L968.7 528.6 L970.2 529.4 L971.7 530.1 L973.2 530.9 L974.2 531.4 L974.7 531.7 L976.2 532.4 L977.7 533.2 L979.2 534.0 L980.7 534.8 L982.2 535.5 L983.7 536.3 L985.2 537.1 L986.7 537.9 L988.2 538.7 L989.7 539.5 L991.2 540.3 L992.7 541.2 L994.2 542.0 L995.7 542.8 L996.0 543.0 L997.2 543.7 L998.7 544.5 L1000.2 545.4 L1001.7 546.3 L1003.2 547.1 L1004.7 548.0 L1006.2 548.9 L1007.7 549.8 L1009.2 550.7 L1010.7 551.6 L1012.2 552.6 L1013.7 553.5 L1015.2 554.5 L1016.7 555.4 L1017.0 555.6 L1018.2 556.4 L1019.7 557.3 L1021.2 558.3 L1022.7 559.3 L1024.2 560.3 L1025.7 561.4 L1027.2 562.4 L1028.7 563.5 L1030.0 564.5 L1030.2 564.7 L1031.7 565.8 L1033.2 567.0 L1034.7 568.3 L1036.2 569.6 L1037.7 570.9 L1039.2 572.3 L1040.7 573.7 L1042.2 575.1 L1042.7 575.6 L1043.7 576.6 L1045.2 578.1 L1046.7 579.7 L1048.2 581.3 L1049.7 583.0 L1051.0 584.5 L1051.2 584.7 L1052.7 586.5 L1054.2 588.4 L1055.7 590.3 L1057.2 592.2 L1058.7 594.2 L1059.8 595.6 L1060.2 596.1 L1061.7 598.1 L1063.2 600.1 L1064.7 602.1 L1066.2 604.2 L1067.7 606.3 L1069.2 608.4 L1070.0 609.5 L1070.7 610.5 L1072.2 612.7 L1073.7 615.0 L1075.2 617.3 L1076.7 619.6 L1078.2 621.9 L1079.7 624.1 L1079.8 624.2 L1081.2 626.2 L1082.7 628.3 L1084.2 630.4 L1085.7 632.5 L1087.2 634.6 L1088.7 636.6 L1090.2 638.5 L1091.0 639.5 L1091.7 640.4 L1093.2 642.2 L1094.7 644.1 L1096.2 645.9 L1097.7 647.6 L1099.2 649.3 L1100.7 650.8 L1102.2 652.3 L1102.6 652.7 L1103.7 653.7 L1105.2 655.0 L1106.7 656.3 L1108.2 657.5 L1109.7 658.7 L1111.2 659.8 L1112.7 660.9 L1114.2 662.0 L1115.7 663.0 L1117.2 664.0 L1118.0 664.5 L1118.7 664.9 L1120.2 665.9 L1121.7 666.7 L1123.2 667.6 L1124.7 668.4 L1126.2 669.2 L1127.7 670.0 L1129.2 670.8 L1130.7 671.6 L1132.2 672.4 L1133.7 673.1 L1134.0 673.3 L1135.2 673.9 L1136.7 674.7 L1138.2 675.5 L1139.7 676.2 L1140.8 676.8 L1141.2 676.8 L1141.2 488.6 L1141.6 488.6 L1143.1 489.3 L1144.6 490.0 L1146.1 490.6 L1147.6 491.3 L1149.1 492.0 L1150.6 492.7 L1152.1 493.3 L1153.6 494.0 L1155.1 494.7 L1156.6 495.3 L1157.0 495.5 L1158.1 496.0 L1159.6 496.7 L1161.1 497.3 L1162.6 498.0 L1164.1 498.7 L1165.6 499.3 L1167.1 500.0 L1168.6 500.7 L1170.1 501.3 L1171.6 501.9 L1173.1 502.5 L1174.0 502.8 L1174.6 503.0 L1176.1 503.5 L1177.6 504.1 L1179.1 504.6 L1180.6 505.0 L1182.1 505.5 L1183.6 506.0 L1185.1 506.4 L1186.6 506.9 L1188.0 507.3 L1188.1 507.3 L1189.6 507.8 L1191.1 508.2 L1192.6 508.7 L1194.1 509.1 L1195.6 509.5 L1197.1 509.9 L1198.6 510.4 L1200.1 510.8 L1201.6 511.2 L1202.5 511.4 L1203.1 511.6 L1204.6 511.9 L1206.1 512.3 L1207.6 512.7 L1209.1 513.1 L1210.6 513.5 L1212.1 513.8 L1213.6 514.2 L1215.1 514.6 L1216.6 514.9 L1218.1 515.3 L1219.6 515.6 L1221.1 516.0 L1222.0 516.2 L1222.6 516.3 L1224.1 516.7 L1225.6 517.0 L1227.1 517.3 L1228.6 517.7 L1230.1 518.0 L1231.6 518.3 L1232.0 518.4" stroke="#b55a5a" stroke-width="4.45" stroke-dasharray="16.4 7.1"/>
</g>
<rect x="162.1" y="302.3" width="545.2" height="137.2" fill="#ffffff" stroke="#000" stroke-width="1.5"/>
<rect x="178" y="313.7" width="47.4" height="5.3" fill="#f8e85f"/>
<rect x="178" y="321.7" width="47.4" height="5.3" fill="#88c695"/>
<rect x="178" y="329.5" width="47.4" height="5.3" fill="#6786a5"/>
<rect x="178" y="337.2" width="47.4" height="5.3" fill="#5f2f73"/>
<rect x="181.9" y="368.1" width="10.5" height="5.1" fill="#b55a5a"/>
<rect x="197.9" y="368.1" width="10.2" height="5.1" fill="#b55a5a"/>
<rect x="213.9" y="368.1" width="7.5" height="5.1" fill="#b55a5a"/>
<rect x="181.9" y="409.8" width="10.5" height="5.1" fill="#999999"/>
<rect x="197.9" y="409.8" width="10.2" height="5.1" fill="#999999"/>
<rect x="213.9" y="409.8" width="7.5" height="5.1" fill="#999999"/>
<rect x="148.00" y="22.60" width="1074.20" height="431.10" fill="none" stroke="#000" stroke-width="2.75"/>
<rect x="148.00" y="478.70" width="1074.20" height="207.10" fill="none" stroke="#000" stroke-width="2.75"/>
<rect x="1252.90" y="23.60" width="30.50" height="662.80" fill="url(#vg)" stroke="#000" stroke-width="2.9"/>
<g opacity="0.996" text-rendering="geometricPrecision">
<text x="68.22" y="443.60" font-size="31.58" textLength="36.15" lengthAdjust="spacingAndGlyphs">10</text>
<text x="106.77" y="433.00" font-size="21.05" textLength="26.21" lengthAdjust="spacingAndGlyphs">−4</text>
<text x="68.22" y="378.35" font-size="31.58" textLength="36.15" lengthAdjust="spacingAndGlyphs">10</text>
<text x="106.74" y="367.75" font-size="21.05" textLength="26.84" lengthAdjust="spacingAndGlyphs">−3</text>
<text x="68.22" y="313.10" font-size="31.58" textLength="36.15" lengthAdjust="spacingAndGlyphs">10</text>
<text x="106.72" y="302.50" font-size="21.05" textLength="27.29" lengthAdjust="spacingAndGlyphs">−2</text>
<text x="68.22" y="247.85" font-size="31.58" textLength="36.15" lengthAdjust="spacingAndGlyphs">10</text>
<text x="106.77" y="237.25" font-size="21.05" textLength="26.32" lengthAdjust="spacingAndGlyphs">−1</text>
<text x="82.10" y="182.60" font-size="31.58" textLength="35.24" lengthAdjust="spacingAndGlyphs">10</text>
<text x="116.78" y="172.00" font-size="21.05" textLength="14.75" lengthAdjust="spacingAndGlyphs">0</text>
<text x="82.10" y="117.35" font-size="31.58" textLength="35.24" lengthAdjust="spacingAndGlyphs">10</text>
<text x="115.33" y="106.75" font-size="21.05" textLength="14.63" lengthAdjust="spacingAndGlyphs">1</text>
<text x="82.10" y="52.10" font-size="31.58" textLength="35.24" lengthAdjust="spacingAndGlyphs">10</text>
<text x="116.53" y="41.50" font-size="21.05" textLength="15.59" lengthAdjust="spacingAndGlyphs">2</text>
<text x="113.92" y="721.10" font-size="31.13" textLength="36.15" lengthAdjust="spacingAndGlyphs">10</text>
<text x="152.42" y="710.50" font-size="21.05" textLength="27.29" lengthAdjust="spacingAndGlyphs">−2</text>
<text x="292.96" y="721.10" font-size="31.13" textLength="36.15" lengthAdjust="spacingAndGlyphs">10</text>
<text x="331.50" y="710.50" font-size="21.05" textLength="26.32" lengthAdjust="spacingAndGlyphs">−1</text>
<text x="479.57" y="721.10" font-size="31.13" textLength="35.24" lengthAdjust="spacingAndGlyphs">10</text>
<text x="514.24" y="710.50" font-size="21.05" textLength="14.75" lengthAdjust="spacingAndGlyphs">0</text>
<text x="658.60" y="721.10" font-size="31.13" textLength="35.24" lengthAdjust="spacingAndGlyphs">10</text>
<text x="691.83" y="710.50" font-size="21.05" textLength="14.63" lengthAdjust="spacingAndGlyphs">1</text>
<text x="837.64" y="721.10" font-size="31.13" textLength="35.24" lengthAdjust="spacingAndGlyphs">10</text>
<text x="872.06" y="710.50" font-size="21.05" textLength="15.59" lengthAdjust="spacingAndGlyphs">2</text>
<text x="1016.67" y="721.10" font-size="31.13" textLength="35.24" lengthAdjust="spacingAndGlyphs">10</text>
<text x="1051.02" y="710.50" font-size="21.05" textLength="15.13" lengthAdjust="spacingAndGlyphs">3</text>
<text x="1195.70" y="721.10" font-size="31.13" textLength="35.24" lengthAdjust="spacingAndGlyphs">10</text>
<text x="1230.97" y="710.50" font-size="21.05" textLength="13.45" lengthAdjust="spacingAndGlyphs">4</text>
<text x="78.54" y="498.10" font-size="30.83" textLength="53.93" lengthAdjust="spacingAndGlyphs">180</text>
<text x="97.99" y="545.20" font-size="30.83" textLength="34.42" lengthAdjust="spacingAndGlyphs">90</text>
<text x="114.53" y="592.30" font-size="30.83" textLength="17.93" lengthAdjust="spacingAndGlyphs">0</text>
<text x="76.88" y="639.40" font-size="30.83" textLength="57.11" lengthAdjust="spacingAndGlyphs">−90</text>
<text x="59.20" y="686.50" font-size="30.83" textLength="74.78" lengthAdjust="spacingAndGlyphs">−180</text>
<text x="545.83" y="767.70" font-size="38.33" textLength="278.72" lengthAdjust="spacingAndGlyphs">Frequency (Hz)</text>
<text transform="translate(50.20 332.30) rotate(-90)" x="-1.28" y="0" font-size="38.64" textLength="193.23" lengthAdjust="spacingAndGlyphs">Magnitude</text>
<text transform="translate(39.60 685.60) rotate(-90)" x="-1.29" y="0" font-size="38.64" textLength="209.95" lengthAdjust="spacingAndGlyphs">Phase (deg)</text>
<text x="293.00" y="335.00" font-size="29.93" textLength="125.63" lengthAdjust="spacingAndGlyphs">Bounded</text>
<text x="428.33" y="335.00" font-size="29.93" textLength="170.64" lengthAdjust="spacingAndGlyphs">Controllers,</text>
<text x="237.31" y="380.50" font-size="29.93" textLength="173.61" lengthAdjust="spacingAndGlyphs">Hand-Tuned</text>
<text x="422.02" y="380.50" font-size="29.93" textLength="148.09" lengthAdjust="spacingAndGlyphs">Controller</text>
<text x="237.61" y="421.50" font-size="29.93" textLength="75.02" lengthAdjust="spacingAndGlyphs">Unity</text>
<text x="323.39" y="421.50" font-size="29.93" textLength="66.62" lengthAdjust="spacingAndGlyphs">Gain</text>
<text x="261.94" y="342.12" font-size="23.37" textLength="20.14" lengthAdjust="spacingAndGlyphs">∞</text>
<text x="608.46" y="335.00" font-size="27.38" textLength="10.57" lengthAdjust="spacingAndGlyphs" font-style="italic">ζ</text>
<text x="624.66" y="337.00" font-size="27.82" textLength="24.24" lengthAdjust="spacingAndGlyphs">=</text>
<text x="651.30" y="335.00" font-size="27.82" textLength="14.20" lengthAdjust="spacingAndGlyphs">1</text>
<text x="666.21" y="335.00" font-size="26.58" textLength="11.36" lengthAdjust="spacingAndGlyphs" font-style="italic">e</text>
<text x="678.92" y="335.00" font-size="27.82" textLength="14.84" lengthAdjust="spacingAndGlyphs">4</text>
<text x="1295.20" y="34.40" font-size="28.57" textLength="29.63" lengthAdjust="spacingAndGlyphs">10</text>
<text x="1325.22" y="23.80" font-size="19.85" textLength="11.10" lengthAdjust="spacingAndGlyphs">2</text>
<text x="1295.20" y="365.80" font-size="28.57" textLength="29.63" lengthAdjust="spacingAndGlyphs">10</text>
<text x="1324.40" y="355.20" font-size="19.85" textLength="10.23" lengthAdjust="spacingAndGlyphs">1</text>
<text x="1295.20" y="697.20" font-size="28.57" textLength="29.63" lengthAdjust="spacingAndGlyphs">10</text>
<text x="1325.40" y="686.60" font-size="19.85" textLength="10.50" lengthAdjust="spacingAndGlyphs">0</text>
<text transform="translate(1375.50 396.60) rotate(-90)" x="-1.28" y="0" font-size="38.64" textLength="129.47" lengthAdjust="spacingAndGlyphs">Bound,</text>
<text transform="translate(1375.40 260.10) rotate(-90)" x="-0.86" y="0.37" font-size="33.04" textLength="18.81" lengthAdjust="spacingAndGlyphs" font-style="italic">γ</text>
<text transform="translate(1375.40 429.90) rotate(-90)" x="-0.97" y="10.94" font-size="35.71" textLength="18.46" lengthAdjust="spacingAndGlyphs">∞</text>
<path transform="translate(237.60 335.00) scale(21.800 19.400)" d="M0.45 -0.975 C0.42 -0.80 0.38 -0.62 0.33 -0.45 C0.28 -0.28 0.24 -0.14 0.185 -0.02" fill="none" stroke="#000" stroke-width="2.23" vector-effect="non-scaling-stroke" stroke-linecap="round" stroke-linejoin="round"/>
<path transform="translate(237.60 335.00) scale(21.800 19.400)" d="M0.015 -0.73 C0.08 -0.86 0.20 -0.96 0.45 -0.975" fill="none" stroke="#000" stroke-width="1.45" vector-effect="non-scaling-stroke" stroke-linecap="round" stroke-linejoin="round"/>
<path transform="translate(237.60 335.00) scale(21.800 19.400)" d="M0.18 -0.445 C0.36 -0.455 0.58 -0.47 0.80 -0.495" fill="none" stroke="#000" stroke-width="1.65" vector-effect="non-scaling-stroke" stroke-linecap="round" stroke-linejoin="round"/>
<path transform="translate(237.60 335.00) scale(21.800 19.400)" d="M0.955 -0.985 C0.90 -0.80 0.84 -0.62 0.79 -0.45 C0.75 -0.30 0.72 -0.17 0.72 -0.08 C0.73 -0.005 0.80 -0.005 0.86 -0.035 C0.92 -0.07 0.96 -0.11 1.0 -0.165" fill="none" stroke="#000" stroke-width="1.94" vector-effect="non-scaling-stroke" stroke-linecap="round" stroke-linejoin="round"/>
<path transform="translate(1375.60 465.60) rotate(-90) scale(32.000 23.400)" d="M0.45 -0.975 C0.42 -0.80 0.38 -0.62 0.33 -0.45 C0.28 -0.28 0.24 -0.14 0.185 -0.02" fill="none" stroke="#000" stroke-width="2.69" vector-effect="non-scaling-stroke" stroke-linecap="round" stroke-linejoin="round"/>
<path transform="translate(1375.60 465.60) rotate(-90) scale(32.000 23.400)" d="M0.015 -0.73 C0.08 -0.86 0.20 -0.96 0.45 -0.975" fill="none" stroke="#000" stroke-width="1.75" vector-effect="non-scaling-stroke" stroke-linecap="round" stroke-linejoin="round"/>
<path transform="translate(1375.60 465.60) rotate(-90) scale(32.000 23.400)" d="M0.18 -0.445 C0.36 -0.455 0.58 -0.47 0.80 -0.495" fill="none" stroke="#000" stroke-width="1.99" vector-effect="non-scaling-stroke" stroke-linecap="round" stroke-linejoin="round"/>
<path transform="translate(1375.60 465.60) rotate(-90) scale(32.000 23.400)" d="M0.955 -0.985 C0.90 -0.80 0.84 -0.62 0.79 -0.45 C0.75 -0.30 0.72 -0.17 0.72 -0.08 C0.73 -0.005 0.80 -0.005 0.86 -0.035 C0.92 -0.07 0.96 -0.11 1.0 -0.165" fill="none" stroke="#000" stroke-width="2.34" vector-effect="non-scaling-stroke" stroke-linecap="round" stroke-linejoin="round"/>
</g>
</svg>
</body></html>
